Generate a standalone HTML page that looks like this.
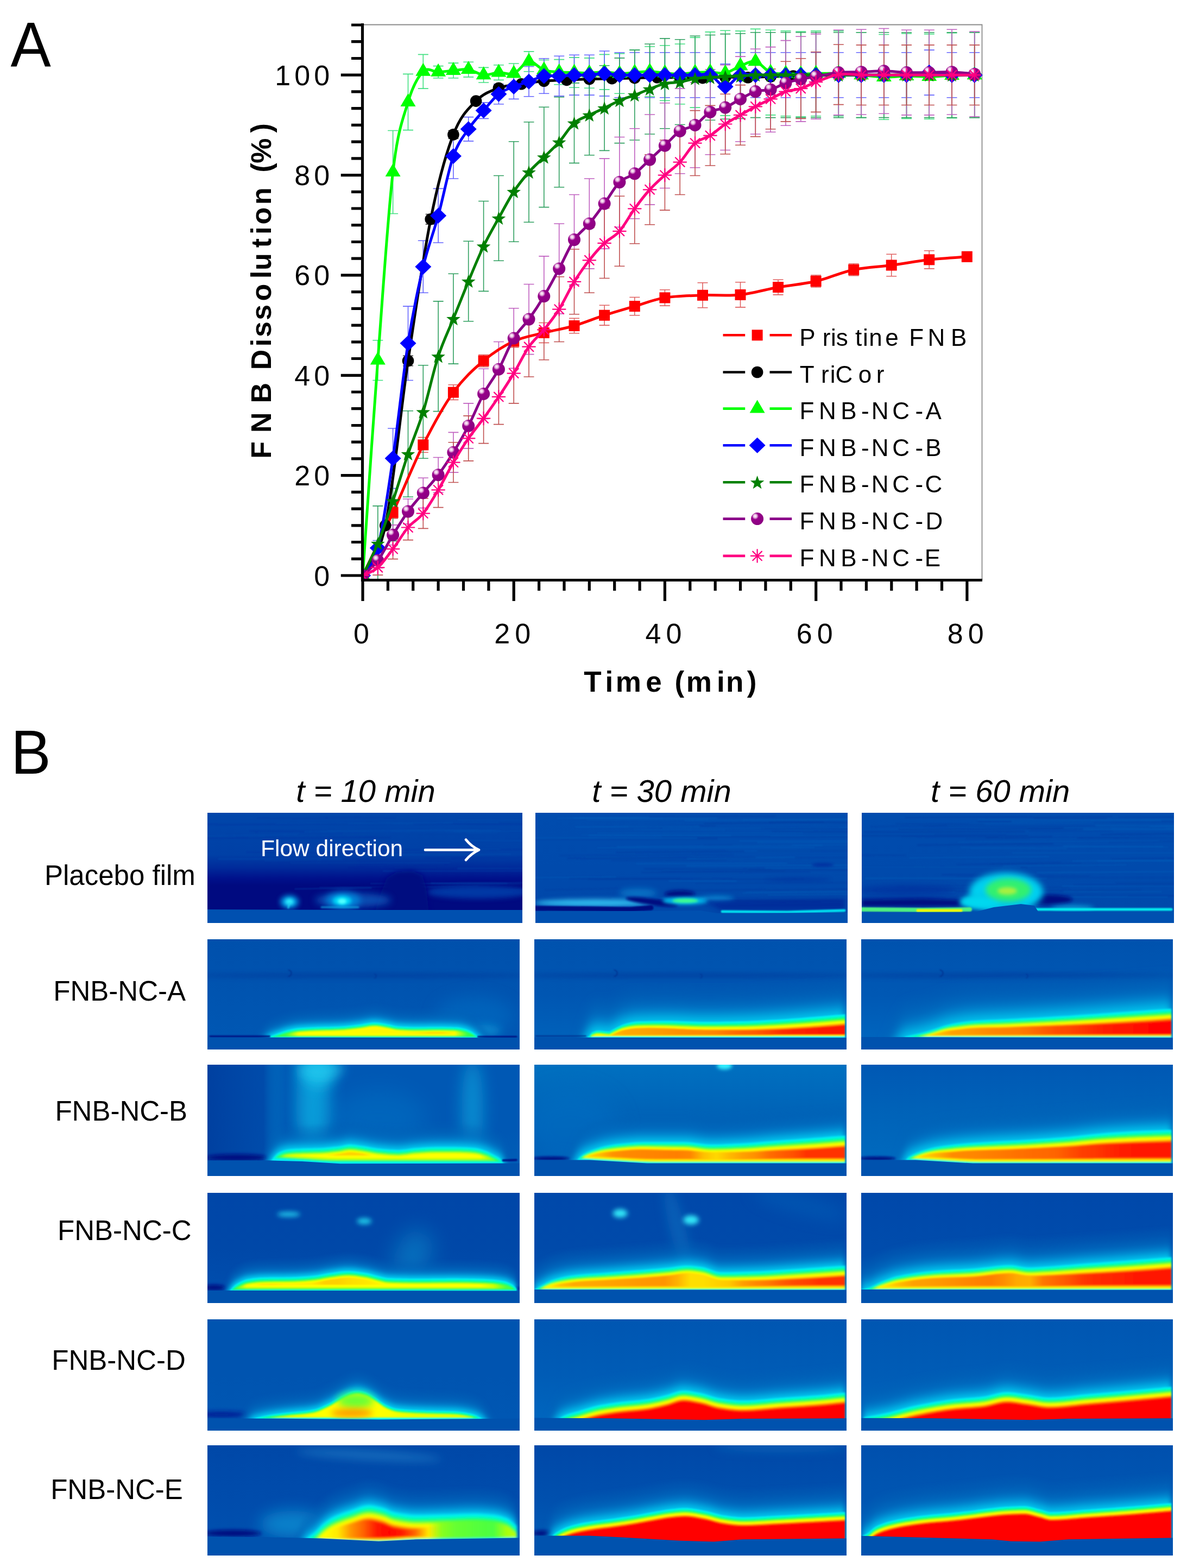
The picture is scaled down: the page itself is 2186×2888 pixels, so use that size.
<!DOCTYPE html><html><head><meta charset="utf-8"><title>FNB dissolution</title><style>html,body{margin:0;padding:0;background:#fff;}svg{display:block;}</style></head><body>
<svg width="2186" height="2888" viewBox="0 0 2186 2888">
<rect width="2186" height="2888" fill="#fff"/>
<text transform="translate(19.5 122.8) scale(0.956 1)" font-family="Liberation Sans, sans-serif" font-size="116.5">A</text>
<text transform="translate(20 1424.5) scale(0.965 1)" font-family="Liberation Sans, sans-serif" font-size="114.5">B</text>
<defs><radialGradient id="sph" cx="0.35" cy="0.3" r="0.75" fx="0.33" fy="0.28"><stop offset="0" stop-color="#ffffff"/><stop offset="0.18" stop-color="#e8b8e0"/><stop offset="0.36" stop-color="#96008a"/><stop offset="1" stop-color="#8a0080"/></radialGradient></defs>
<path d="M667,45.5H1808.5V1068" stroke="#8c8c8c" stroke-width="1.8" fill="none"/>
<clipPath id="plotclip"><rect x="668" y="30" width="1160" height="1040"/></clipPath><g clip-path="url(#plotclip)">
<path d="M723.6,932.8V954.9M714.1,932.8h19M714.1,954.9h19M779.3,805.6V833.2M769.8,805.6h19M769.8,833.2h19M834.9,708.8V736.4M825.4,708.8h19M825.4,736.4h19M890.6,653.5V675.6M881.1,653.5h19M881.1,675.6h19M946.2,617.5V639.7M936.7,617.5h19M936.7,639.7h19M1001.8,594.5V631.4M992.3,594.5h19M992.3,631.4h19M1057.5,586.2V613.8M1048,586.2h19M1048,613.8h19M1113.1,562.2V599.1M1103.6,562.2h19M1103.6,599.1h19M1168.8,547.5V580.7M1159.3,547.5h19M1159.3,580.7h19M1224.4,533.7V563.1M1214.9,533.7h19M1214.9,563.1h19M1294,520.7V566.8M1284.5,520.7h19M1284.5,566.8h19M1363.5,519.8V565.9M1354,519.8h19M1354,565.9h19M1433,515.2V542.9M1423.5,515.2h19M1423.5,542.9h19M1502.6,506.9V529M1493.1,506.9h19M1493.1,529h19M1572.2,485.7V507.8M1562.7,485.7h19M1562.7,507.8h19M1641.7,468.2V508.8M1632.2,468.2h19M1632.2,508.8h19M1711.2,461.8V494.9M1701.8,461.8h19M1701.8,494.9h19M1780.8,463.6V482M1771.3,463.6h19M1771.3,482h19" stroke="#e06060" stroke-width="1.6" fill="none"/>
<path d="M709.7,963.2V972.4M700.2,963.2h19M700.2,972.4h19M751.5,655.3V673.8M742,655.3h19M742,673.8h19M793.2,394.5V412.9M783.7,394.5h19M783.7,412.9h19M834.9,240.5V255.3M825.4,240.5h19M825.4,255.3h19M876.6,181.5V190.7M867.1,181.5h19M867.1,190.7h19M918.4,157.6V166.8M908.9,157.6h19M908.9,166.8h19M960.1,150.2V159.4M950.6,150.2h19M950.6,159.4h19M1001.8,144.7V153.9M992.3,144.7h19M992.3,153.9h19M1043.6,142.8V152M1034.1,142.8h19M1034.1,152h19M1085.3,141V150.2M1075.8,141h19M1075.8,150.2h19M1127,140V149.3M1117.5,140h19M1117.5,149.3h19M1168.8,139.1V148.3M1159.3,139.1h19M1159.3,148.3h19M1210.5,138.2V147.4M1201,138.2h19M1201,147.4h19M1252.2,138.2V147.4M1242.7,138.2h19M1242.7,147.4h19M1294,139.1V148.3M1284.5,139.1h19M1284.5,148.3h19M1335.7,137.3V146.5M1326.2,137.3h19M1326.2,146.5h19M1377.4,138.2V147.4M1367.9,138.2h19M1367.9,147.4h19M1419.1,136.4V145.6M1409.6,136.4h19M1409.6,145.6h19M1460.9,135.4V144.7M1451.4,135.4h19M1451.4,144.7h19M1502.6,134.5V143.7M1493.1,134.5h19M1493.1,143.7h19M1544.3,133.6V142.8M1534.8,133.6h19M1534.8,142.8h19M1586.1,133.6V142.8M1576.6,133.6h19M1576.6,142.8h19M1627.8,133.6V142.8M1618.3,133.6h19M1618.3,142.8h19M1669.5,133.6V142.8M1660,133.6h19M1660,142.8h19M1711.2,133.6V142.8M1701.8,133.6h19M1701.8,142.8h19M1753,133.6V142.8M1743.5,133.6h19M1743.5,142.8h19M1794.7,133.6V142.8M1785.2,133.6h19M1785.2,142.8h19" stroke="#404040" stroke-width="1.6" fill="none"/>
<path d="M695.8,626.8V700.5M686.3,626.8h19M686.3,700.5h19M723.6,240.5V393.5M714.1,240.5h19M714.1,393.5h19M751.5,136.4V239.6M742,136.4h19M742,239.6h19M779.3,100.4V163.1M769.8,100.4h19M769.8,163.1h19M807.1,121.6V143.7M797.6,121.6h19M797.6,143.7h19M834.9,116.1V143.7M825.4,116.1h19M825.4,143.7h19M862.7,114.2V141.9M853.2,114.2h19M853.2,141.9h19M890.6,124.4V152M881.1,124.4h19M881.1,152h19M918.4,119.8V147.4M908.9,119.8h19M908.9,147.4h19M946.2,117V153.9M936.7,117h19M936.7,153.9h19M974,94.9V131.7M964.5,94.9h19M964.5,131.7h19M1001.8,110.5V147.4M992.3,110.5h19M992.3,147.4h19M1029.7,109.6V155.7M1020.2,109.6h19M1020.2,155.7h19M1057.5,105.9V161.2M1048,105.9h19M1048,161.2h19M1085.3,106.9V162.2M1075.8,106.9h19M1075.8,162.2h19M1113.1,100.4V164.9M1103.6,100.4h19M1103.6,164.9h19M1140.9,98.6V172.3M1131.4,98.6h19M1131.4,172.3h19M1168.8,92.1V175.1M1159.3,92.1h19M1159.3,175.1h19M1196.6,85.7V177.8M1187.1,85.7h19M1187.1,177.8h19M1224.4,83.8V185.2M1214.9,83.8h19M1214.9,185.2h19M1252.2,81V191.7M1242.7,81h19M1242.7,191.7h19M1280,69.1V198.1M1270.5,69.1h19M1270.5,198.1h19M1307.9,58.9V206.4M1298.4,58.9h19M1298.4,206.4h19M1335.7,56.2V212.9M1326.2,56.2h19M1326.2,212.9h19M1363.5,57.1V186.1M1354,57.1h19M1354,186.1h19M1391.3,53.4V173.2M1381.8,53.4h19M1381.8,173.2h19M1419.1,55.2V211.9M1409.6,55.2h19M1409.6,211.9h19M1447,57.1V213.8M1437.5,57.1h19M1437.5,213.8h19M1474.8,58V214.7M1465.3,58h19M1465.3,214.7h19M1502.6,57.1V213.8M1493.1,57.1h19M1493.1,213.8h19M1544.3,57.1V213.8M1534.8,57.1h19M1534.8,213.8h19M1586.1,59.8V216.6M1576.6,59.8h19M1576.6,216.6h19M1627.8,63.5V220.2M1618.3,63.5h19M1618.3,220.2h19M1669.5,61.7V218.4M1660,61.7h19M1660,218.4h19M1711.2,62.6V219.3M1701.8,62.6h19M1701.8,219.3h19M1753,60.8V217.5M1743.5,60.8h19M1743.5,217.5h19M1794.7,59.8V216.6M1785.2,59.8h19M1785.2,216.6h19" stroke="#40e080" stroke-width="1.6" fill="none"/>
<path d="M695.8,995.5V1023.1M686.3,995.5h19M686.3,1023.1h19M723.6,789V899.6M714.1,789h19M714.1,899.6h19M751.5,564.1V700.5M742,564.1h19M742,700.5h19M779.3,443.3V539.2M769.8,443.3h19M769.8,539.2h19M807.1,347.4V447M797.6,347.4h19M797.6,447h19M834.9,246.1V329M825.4,246.1h19M825.4,329h19M862.7,215.6V259.9M853.2,215.6h19M853.2,259.9h19M890.6,188.9V218.4M881.1,188.9h19M881.1,218.4h19M918.4,154.8V191.7M908.9,154.8h19M908.9,191.7h19M946.2,136.4V182.4M936.7,136.4h19M936.7,182.4h19M974,122.5V177.8M964.5,122.5h19M964.5,177.8h19M1001.8,107.8V172.3M992.3,107.8h19M992.3,172.3h19M1029.7,103.2V176.9M1020.2,103.2h19M1020.2,176.9h19M1057.5,101.3V175.1M1048,101.3h19M1048,175.1h19M1085.3,101.3V175.1M1075.8,101.3h19M1075.8,175.1h19M1113.1,94V176.9M1103.6,94h19M1103.6,176.9h19M1140.9,96.7V179.7M1131.4,96.7h19M1131.4,179.7h19M1168.8,96.7V179.7M1159.3,96.7h19M1159.3,179.7h19M1196.6,96.7V179.7M1187.1,96.7h19M1187.1,179.7h19M1224.4,96.7V179.7M1214.9,96.7h19M1214.9,179.7h19M1252.2,96.7V179.7M1242.7,96.7h19M1242.7,179.7h19M1280,96.7V179.7M1270.5,96.7h19M1270.5,179.7h19M1307.9,96.7V179.7M1298.4,96.7h19M1298.4,179.7h19M1335.7,117.9V200.9M1326.2,117.9h19M1326.2,200.9h19M1363.5,96.7V179.7M1354,96.7h19M1354,179.7h19M1391.3,96.7V179.7M1381.8,96.7h19M1381.8,179.7h19M1419.1,96.7V179.7M1409.6,96.7h19M1409.6,179.7h19M1447,96.7V179.7M1437.5,96.7h19M1437.5,179.7h19M1474.8,96.7V179.7M1465.3,96.7h19M1465.3,179.7h19M1502.6,96.7V179.7M1493.1,96.7h19M1493.1,179.7h19M1544.3,96.7V179.7M1534.8,96.7h19M1534.8,179.7h19M1586.1,96.7V179.7M1576.6,96.7h19M1576.6,179.7h19M1627.8,96.7V179.7M1618.3,96.7h19M1618.3,179.7h19M1669.5,96.7V179.7M1660,96.7h19M1660,179.7h19M1711.2,92.1V175.1M1701.8,92.1h19M1701.8,175.1h19M1753,96.7V179.7M1743.5,96.7h19M1743.5,179.7h19M1794.7,96.7V179.7M1785.2,96.7h19M1785.2,179.7h19" stroke="#6666ff" stroke-width="1.6" fill="none"/>
<path d="M695.8,931.9V1066M686.3,931.9h19M723.6,848.9V996.4M714.1,848.9h19M714.1,996.4h19M751.5,756.7V915.3M742,756.7h19M742,915.3h19M779.3,672.8V844.3M769.8,672.8h19M769.8,844.3h19M807.1,554.9V757.6M797.6,554.9h19M797.6,757.6h19M834.9,504.2V670.1M825.4,504.2h19M825.4,670.1h19M862.7,444.2V591.7M853.2,444.2h19M853.2,591.7h19M890.6,370.5V536.4M881.1,370.5h19M881.1,536.4h19M918.4,323.5V480.2M908.9,323.5h19M908.9,480.2h19M946.2,260.8V445.2M936.7,260.8h19M936.7,445.2h19M974,224.8V409.2M964.5,224.8h19M964.5,409.2h19M1001.8,197.2V381.6M992.3,197.2h19M992.3,381.6h19M1029.7,178.8V344.7M1020.2,178.8h19M1020.2,344.7h19M1057.5,152.9V300.4M1048,152.9h19M1048,300.4h19M1085.3,138.2V285.7M1075.8,138.2h19M1075.8,285.7h19M1113.1,120.7V277.4M1103.6,120.7h19M1103.6,277.4h19M1140.9,106.9V263.6M1131.4,106.9h19M1131.4,263.6h19M1168.8,92.1V258M1159.3,92.1h19M1159.3,258h19M1196.6,81V247M1187.1,81h19M1187.1,247h19M1224.4,70.9V236.8M1214.9,70.9h19M1214.9,236.8h19M1252.2,72.8V229.5M1242.7,72.8h19M1242.7,229.5h19M1280,66.3V223M1270.5,66.3h19M1270.5,223h19M1307.9,64.5V221.2M1298.4,64.5h19M1298.4,221.2h19M1335.7,62.6V219.3M1326.2,62.6h19M1326.2,219.3h19M1363.5,61.7V218.4M1354,61.7h19M1354,218.4h19M1391.3,59.8V216.6M1381.8,59.8h19M1381.8,216.6h19M1419.1,59.8V216.6M1409.6,59.8h19M1409.6,216.6h19M1447,59.8V216.6M1437.5,59.8h19M1437.5,216.6h19M1474.8,59.8V216.6M1465.3,59.8h19M1465.3,216.6h19M1502.6,59.8V216.6M1493.1,59.8h19M1493.1,216.6h19M1544.3,59.8V216.6M1534.8,59.8h19M1534.8,216.6h19M1586.1,59.8V216.6M1576.6,59.8h19M1576.6,216.6h19M1627.8,59.8V216.6M1618.3,59.8h19M1618.3,216.6h19M1669.5,59.8V216.6M1660,59.8h19M1660,216.6h19M1711.2,59.8V216.6M1701.8,59.8h19M1701.8,216.6h19M1753,59.8V216.6M1743.5,59.8h19M1743.5,216.6h19M1794.7,59.8V216.6M1785.2,59.8h19M1785.2,216.6h19" stroke="#30a060" stroke-width="1.6" fill="none"/>
<path d="M695.8,1018.5V1046.2M686.3,1018.5h19M686.3,1046.2h19M723.6,966.9V1003.8M714.1,966.9h19M714.1,1003.8h19M751.5,919V965.1M742,919h19M742,965.1h19M779.3,880.2V935.6M769.8,880.2h19M769.8,935.6h19M807.1,842.5V907M797.6,842.5h19M797.6,907h19M834.9,796.4V870.1M825.4,796.4h19M825.4,870.1h19M862.7,742.9V825.9M853.2,742.9h19M853.2,825.9h19M890.6,679.3V771.5M881.1,679.3h19M881.1,771.5h19M918.4,629.5V730.9M908.9,629.5h19M908.9,730.9h19M946.2,567.8V678.4M936.7,567.8h19M936.7,678.4h19M974,523.5V652.6M964.5,523.5h19M964.5,652.6h19M1001.8,471.9V619.4M992.3,471.9h19M992.3,619.4h19M1029.7,412V577.9M1020.2,412h19M1020.2,577.9h19M1057.5,358.5V524.4M1048,358.5h19M1048,524.4h19M1085.3,329V494.9M1075.8,329h19M1075.8,494.9h19M1113.1,292.1V458.1M1103.6,292.1h19M1103.6,458.1h19M1140.9,252.5V418.4M1131.4,252.5h19M1131.4,418.4h19M1168.8,236.8V402.8M1159.3,236.8h19M1159.3,402.8h19M1196.6,211V376.9M1187.1,211h19M1187.1,376.9h19M1224.4,189.8V346.5M1214.9,189.8h19M1214.9,346.5h19M1252.2,163.1V319.8M1242.7,163.1h19M1242.7,319.8h19M1280,152V308.7M1270.5,152h19M1270.5,308.7h19M1307.9,128.1V284.8M1298.4,128.1h19M1298.4,284.8h19M1335.7,119.8V276.5M1326.2,119.8h19M1326.2,276.5h19M1363.5,104.1V260.8M1354,104.1h19M1354,260.8h19M1391.3,90.3V247M1381.8,90.3h19M1381.8,247h19M1419.1,86.6V243.3M1409.6,86.6h19M1409.6,243.3h19M1447,74.6V231.3M1437.5,74.6h19M1437.5,231.3h19M1474.8,67.2V223.9M1465.3,67.2h19M1465.3,223.9h19M1502.6,62.6V219.3M1493.1,62.6h19M1493.1,219.3h19M1544.3,55.2V211.9M1534.8,55.2h19M1534.8,211.9h19M1586.1,54.3V211M1576.6,54.3h19M1576.6,211h19M1627.8,52.5V209.2M1618.3,52.5h19M1618.3,209.2h19M1669.5,55.2V211.9M1660,55.2h19M1660,211.9h19M1711.2,55.2V211.9M1701.8,55.2h19M1701.8,211.9h19M1753,54.3V211M1743.5,54.3h19M1743.5,211h19M1794.7,58V214.7M1785.2,58h19M1785.2,214.7h19" stroke="#c060c0" stroke-width="1.6" fill="none"/>
<path d="M695.8,1031.4V1059.1M686.3,1031.4h19M686.3,1059.1h19M723.6,992.7V1029.6M714.1,992.7h19M714.1,1029.6h19M751.5,948.5V994.6M742,948.5h19M742,994.6h19M779.3,918V973.4M769.8,918h19M769.8,973.4h19M807.1,870.1V934.6M797.6,870.1h19M797.6,934.6h19M834.9,814.8V888.5M825.4,814.8h19M825.4,888.5h19M862.7,765.9V848.9M853.2,765.9h19M853.2,848.9h19M890.6,724.5V816.6M881.1,724.5h19M881.1,816.6h19M918.4,680.2V781.6M908.9,680.2h19M908.9,781.6h19M946.2,632.3V742.9M936.7,632.3h19M936.7,742.9h19M974,583.4V694M964.5,583.4h19M964.5,694h19M1001.8,552.1V662.7M992.3,552.1h19M992.3,662.7h19M1029.7,509.7V629.5M1020.2,509.7h19M1020.2,629.5h19M1057.5,459V578.8M1048,459h19M1048,578.8h19M1085.3,419.3V539.2M1075.8,419.3h19M1075.8,539.2h19M1113.1,383.4V512.5M1103.6,383.4h19M1103.6,512.5h19M1140.9,361.3V490.3M1131.4,361.3h19M1131.4,490.3h19M1168.8,319.8V448.8M1159.3,319.8h19M1159.3,448.8h19M1196.6,284.8V413.8M1187.1,284.8h19M1187.1,413.8h19M1224.4,258V387.1M1214.9,258h19M1214.9,387.1h19M1252.2,238.7V358.5M1242.7,238.7h19M1242.7,358.5h19M1280,203.6V323.5M1270.5,203.6h19M1270.5,323.5h19M1307.9,194.4V305M1298.4,194.4h19M1298.4,305h19M1335.7,173.2V283.8M1326.2,173.2h19M1326.2,283.8h19M1363.5,156.6V267.3M1354,156.6h19M1354,267.3h19M1391.3,141V251.6M1381.8,141h19M1381.8,251.6h19M1419.1,127.1V237.8M1409.6,127.1h19M1409.6,237.8h19M1447,113.3V223.9M1437.5,113.3h19M1437.5,223.9h19M1474.8,107.8V218.4M1465.3,107.8h19M1465.3,218.4h19M1502.6,95.8V206.4M1493.1,95.8h19M1493.1,206.4h19M1544.3,82V192.6M1534.8,82h19M1534.8,192.6h19M1586.1,82.9V193.5M1576.6,82.9h19M1576.6,193.5h19M1627.8,82.9V193.5M1618.3,82.9h19M1618.3,193.5h19M1669.5,82.9V193.5M1660,82.9h19M1660,193.5h19M1711.2,82.9V193.5M1701.8,82.9h19M1701.8,193.5h19M1753,82.9V193.5M1743.5,82.9h19M1743.5,193.5h19M1794.7,82.9V193.5M1785.2,82.9h19M1785.2,193.5h19" stroke="#c05050" stroke-width="1.6" fill="none"/>
<path d="M668,1060C677.3,1040.6 705.1,984 723.6,943.9C742.2,903.8 760.7,856.3 779.3,819.4C797.8,782.5 816.4,748.4 834.9,722.6C853.5,696.8 872,680.2 890.6,664.5C909.1,648.9 927.7,637.2 946.2,628.6C964.7,620 983.3,617.7 1001.8,612.9C1020.4,608.2 1038.9,605.4 1057.5,600C1076,594.6 1094.6,586.7 1113.1,580.7C1131.7,574.7 1150.2,569.4 1168.8,564.1C1187.3,558.7 1203.5,551.8 1224.4,548.4C1245.3,545 1270.8,544.7 1294,543.8C1317.1,542.9 1340.3,545.3 1363.5,542.9C1386.7,540.4 1409.9,533.2 1433,529C1456.2,524.9 1479.4,523.4 1502.6,518C1525.8,512.6 1549,501.7 1572.2,496.8C1595.3,491.9 1618.5,491.6 1641.7,488.5C1664.9,485.4 1688.1,481 1711.2,478.3C1734.4,475.7 1769.2,473.7 1780.8,472.8" stroke="#ff0000" stroke-width="5" fill="none" stroke-linejoin="round"/><rect x="713.6" y="933.9" width="20" height="20" fill="#ff0000"/><rect x="769.3" y="809.4" width="20" height="20" fill="#ff0000"/><rect x="824.9" y="712.6" width="20" height="20" fill="#ff0000"/><rect x="880.6" y="654.5" width="20" height="20" fill="#ff0000"/><rect x="936.2" y="618.6" width="20" height="20" fill="#ff0000"/><rect x="991.8" y="602.9" width="20" height="20" fill="#ff0000"/><rect x="1047.5" y="590" width="20" height="20" fill="#ff0000"/><rect x="1103.1" y="570.7" width="20" height="20" fill="#ff0000"/><rect x="1158.8" y="554.1" width="20" height="20" fill="#ff0000"/><rect x="1214.4" y="538.4" width="20" height="20" fill="#ff0000"/><rect x="1284" y="533.8" width="20" height="20" fill="#ff0000"/><rect x="1353.5" y="532.9" width="20" height="20" fill="#ff0000"/><rect x="1423" y="519" width="20" height="20" fill="#ff0000"/><rect x="1492.6" y="508" width="20" height="20" fill="#ff0000"/><rect x="1562.2" y="486.8" width="20" height="20" fill="#ff0000"/><rect x="1631.7" y="478.5" width="20" height="20" fill="#ff0000"/><rect x="1701.2" y="468.3" width="20" height="20" fill="#ff0000"/><rect x="1770.8" y="462.8" width="20" height="20" fill="#ff0000"/><rect x="658" y="1050" width="20" height="20" fill="#ff0000"/>
<path d="M668,1060C675,1044.6 695.8,1033.7 709.7,967.8C723.6,901.9 737.6,758.6 751.5,664.5C765.4,570.5 779.3,473.1 793.2,403.7C807.1,334.2 821,284.2 834.9,247.9C848.8,211.6 862.7,200.4 876.6,186.1C890.6,171.8 904.5,167.4 918.4,162.2C932.3,156.9 946.2,156.9 960.1,154.8C974,152.6 987.9,150.5 1001.8,149.3C1015.8,148 1029.7,148 1043.6,147.4C1057.5,146.8 1071.4,146 1085.3,145.6C1099.2,145.1 1113.1,145 1127,144.7C1140.9,144.3 1154.8,144 1168.8,143.7C1182.7,143.4 1196.6,143 1210.5,142.8C1224.4,142.7 1238.3,142.7 1252.2,142.8C1266.1,143 1280,143.9 1294,143.7C1307.9,143.6 1321.8,142 1335.7,141.9C1349.6,141.7 1363.5,143 1377.4,142.8C1391.3,142.7 1405.2,141.4 1419.1,141C1433,140.5 1447,140.4 1460.9,140C1474.8,139.7 1488.7,139.4 1502.6,139.1C1516.5,138.8 1530.4,138.4 1544.3,138.2C1558.2,138 1572.1,138.2 1586.1,138.2C1600,138.2 1613.9,138.2 1627.8,138.2C1641.7,138.2 1655.6,138.2 1669.5,138.2C1683.4,138.2 1697.3,138.2 1711.2,138.2C1725.2,138.2 1739.1,138.2 1753,138.2C1766.9,138.2 1787.8,138.2 1794.7,138.2" stroke="#000000" stroke-width="5" fill="none" stroke-linejoin="round"/><circle cx="709.7" cy="967.8" r="10.8" fill="#000000"/><circle cx="751.5" cy="664.5" r="10.8" fill="#000000"/><circle cx="793.2" cy="403.7" r="10.8" fill="#000000"/><circle cx="834.9" cy="247.9" r="10.8" fill="#000000"/><circle cx="876.6" cy="186.1" r="10.8" fill="#000000"/><circle cx="918.4" cy="162.2" r="10.8" fill="#000000"/><circle cx="960.1" cy="154.8" r="10.8" fill="#000000"/><circle cx="1001.8" cy="149.3" r="10.8" fill="#000000"/><circle cx="1043.6" cy="147.4" r="10.8" fill="#000000"/><circle cx="1085.3" cy="145.6" r="10.8" fill="#000000"/><circle cx="1127" cy="144.7" r="10.8" fill="#000000"/><circle cx="1168.8" cy="143.7" r="10.8" fill="#000000"/><circle cx="1210.5" cy="142.8" r="10.8" fill="#000000"/><circle cx="1252.2" cy="142.8" r="10.8" fill="#000000"/><circle cx="1294" cy="143.7" r="10.8" fill="#000000"/><circle cx="1335.7" cy="141.9" r="10.8" fill="#000000"/><circle cx="1377.4" cy="142.8" r="10.8" fill="#000000"/><circle cx="1419.1" cy="141" r="10.8" fill="#000000"/><circle cx="1460.9" cy="140" r="10.8" fill="#000000"/><circle cx="1502.6" cy="139.1" r="10.8" fill="#000000"/><circle cx="1544.3" cy="138.2" r="10.8" fill="#000000"/><circle cx="1586.1" cy="138.2" r="10.8" fill="#000000"/><circle cx="1627.8" cy="138.2" r="10.8" fill="#000000"/><circle cx="1669.5" cy="138.2" r="10.8" fill="#000000"/><circle cx="1711.2" cy="138.2" r="10.8" fill="#000000"/><circle cx="1753" cy="138.2" r="10.8" fill="#000000"/><circle cx="1794.7" cy="138.2" r="10.8" fill="#000000"/><circle cx="668" cy="1060" r="10.8" fill="#000000"/>
<path d="M668,1060C672.6,993.9 686.5,787.5 695.8,663.6C705.1,539.8 714.4,396.3 723.6,317C732.9,237.8 742.2,218.9 751.5,188C760.7,157.1 770,141 779.3,131.7C788.6,122.5 797.8,133 807.1,132.7C816.4,132.4 825.6,130.7 834.9,129.9C844.2,129.1 853.5,126.7 862.7,128.1C872,129.4 881.3,137.3 890.6,138.2C899.8,139.1 909.1,134.1 918.4,133.6C927.7,133.1 936.9,138.8 946.2,135.4C955.5,132.1 964.7,114.4 974,113.3C983.3,112.2 992.6,125.8 1001.8,129C1011.1,132.2 1020.4,131.9 1029.7,132.7C1038.9,133.4 1048.2,133.3 1057.5,133.6C1066.8,133.9 1076,134.7 1085.3,134.5C1094.6,134.4 1103.8,132.5 1113.1,132.7C1122.4,132.8 1131.7,135.3 1140.9,135.4C1150.2,135.6 1159.5,134.2 1168.8,133.6C1178,133 1187.3,131.6 1196.6,131.7C1205.9,131.9 1215.1,133.7 1224.4,134.5C1233.7,135.3 1242.9,136.5 1252.2,136.4C1261.5,136.2 1270.8,134.2 1280,133.6C1289.3,133 1298.6,132.5 1307.9,132.7C1317.1,132.8 1326.4,136.4 1335.7,134.5C1345,132.7 1354.2,125.1 1363.5,121.6C1372.8,118.1 1382,111.3 1391.3,113.3C1400.6,115.3 1409.9,129.9 1419.1,133.6C1428.4,137.3 1437.7,135 1447,135.4C1456.2,135.9 1465.5,136.4 1474.8,136.4C1484.1,136.4 1491,135.6 1502.6,135.4C1514.2,135.3 1530.4,135 1544.3,135.4C1558.2,135.9 1572.1,137.1 1586.1,138.2C1600,139.3 1613.9,141.6 1627.8,141.9C1641.7,142.2 1655.6,140.2 1669.5,140C1683.4,139.9 1697.3,141.1 1711.2,141C1725.2,140.8 1739.1,139.6 1753,139.1C1766.9,138.7 1787.8,138.4 1794.7,138.2" stroke="#00ff00" stroke-width="5" fill="none" stroke-linejoin="round"/><path d="M695.8,647.6L709.8,671.6L681.8,671.6Z" fill="#00ff00"/><path d="M723.6,301L737.6,325L709.6,325Z" fill="#00ff00"/><path d="M751.5,172L765.5,196L737.5,196Z" fill="#00ff00"/><path d="M779.3,115.7L793.3,139.7L765.3,139.7Z" fill="#00ff00"/><path d="M807.1,116.7L821.1,140.7L793.1,140.7Z" fill="#00ff00"/><path d="M834.9,113.9L848.9,137.9L820.9,137.9Z" fill="#00ff00"/><path d="M862.7,112.1L876.7,136.1L848.7,136.1Z" fill="#00ff00"/><path d="M890.6,122.2L904.6,146.2L876.6,146.2Z" fill="#00ff00"/><path d="M918.4,117.6L932.4,141.6L904.4,141.6Z" fill="#00ff00"/><path d="M946.2,119.4L960.2,143.4L932.2,143.4Z" fill="#00ff00"/><path d="M974,97.3L988,121.3L960,121.3Z" fill="#00ff00"/><path d="M1001.8,113L1015.8,137L987.8,137Z" fill="#00ff00"/><path d="M1029.7,116.7L1043.7,140.7L1015.7,140.7Z" fill="#00ff00"/><path d="M1057.5,117.6L1071.5,141.6L1043.5,141.6Z" fill="#00ff00"/><path d="M1085.3,118.5L1099.3,142.5L1071.3,142.5Z" fill="#00ff00"/><path d="M1113.1,116.7L1127.1,140.7L1099.1,140.7Z" fill="#00ff00"/><path d="M1140.9,119.4L1154.9,143.4L1126.9,143.4Z" fill="#00ff00"/><path d="M1168.8,117.6L1182.8,141.6L1154.8,141.6Z" fill="#00ff00"/><path d="M1196.6,115.7L1210.6,139.7L1182.6,139.7Z" fill="#00ff00"/><path d="M1224.4,118.5L1238.4,142.5L1210.4,142.5Z" fill="#00ff00"/><path d="M1252.2,120.4L1266.2,144.4L1238.2,144.4Z" fill="#00ff00"/><path d="M1280,117.6L1294,141.6L1266,141.6Z" fill="#00ff00"/><path d="M1307.9,116.7L1321.9,140.7L1293.9,140.7Z" fill="#00ff00"/><path d="M1335.7,118.5L1349.7,142.5L1321.7,142.5Z" fill="#00ff00"/><path d="M1363.5,105.6L1377.5,129.6L1349.5,129.6Z" fill="#00ff00"/><path d="M1391.3,97.3L1405.3,121.3L1377.3,121.3Z" fill="#00ff00"/><path d="M1419.1,117.6L1433.1,141.6L1405.1,141.6Z" fill="#00ff00"/><path d="M1447,119.4L1461,143.4L1433,143.4Z" fill="#00ff00"/><path d="M1474.8,120.4L1488.8,144.4L1460.8,144.4Z" fill="#00ff00"/><path d="M1502.6,119.4L1516.6,143.4L1488.6,143.4Z" fill="#00ff00"/><path d="M1544.3,119.4L1558.3,143.4L1530.3,143.4Z" fill="#00ff00"/><path d="M1586.1,122.2L1600.1,146.2L1572.1,146.2Z" fill="#00ff00"/><path d="M1627.8,125.9L1641.8,149.9L1613.8,149.9Z" fill="#00ff00"/><path d="M1669.5,124L1683.5,148L1655.5,148Z" fill="#00ff00"/><path d="M1711.2,125L1725.2,149L1697.2,149Z" fill="#00ff00"/><path d="M1753,123.1L1767,147.1L1739,147.1Z" fill="#00ff00"/><path d="M1794.7,122.2L1808.7,146.2L1780.7,146.2Z" fill="#00ff00"/><path d="M668,1044L682,1068L654,1068Z" fill="#00ff00"/>
<path d="M668,1060C672.6,1051.6 686.5,1045.3 695.8,1009.3C705.1,973.4 714.4,907.1 723.6,844.3C732.9,781.5 742.2,691.1 751.5,632.3C760.7,573.4 770,530.4 779.3,491.2C788.6,452.1 797.8,431.2 807.1,397.2C816.4,363.3 825.6,314.1 834.9,287.5C844.2,261 853.5,251.7 862.7,237.8C872,223.8 881.3,214.4 890.6,203.6C899.8,192.9 909.1,180.6 918.4,173.2C927.7,165.9 936.9,163.2 946.2,159.4C955.5,155.6 964.7,153.4 974,150.2C983.3,147 992.6,141.7 1001.8,140C1011.1,138.4 1020.4,140.4 1029.7,140C1038.9,139.7 1048.2,138.5 1057.5,138.2C1066.8,137.9 1076,138.7 1085.3,138.2C1094.6,137.7 1103.8,135.4 1113.1,135.4C1122.4,135.4 1131.7,137.7 1140.9,138.2C1150.2,138.7 1159.5,138.2 1168.8,138.2C1178,138.2 1187.3,138.2 1196.6,138.2C1205.9,138.2 1215.1,138.2 1224.4,138.2C1233.7,138.2 1242.9,138.2 1252.2,138.2C1261.5,138.2 1270.8,138.2 1280,138.2C1289.3,138.2 1298.6,134.7 1307.9,138.2C1317.1,141.7 1326.4,159.4 1335.7,159.4C1345,159.4 1354.2,141.7 1363.5,138.2C1372.8,134.7 1382,138.2 1391.3,138.2C1400.6,138.2 1409.9,138.2 1419.1,138.2C1428.4,138.2 1437.7,138.2 1447,138.2C1456.2,138.2 1465.5,138.2 1474.8,138.2C1484.1,138.2 1491,138.2 1502.6,138.2C1514.2,138.2 1530.4,138.2 1544.3,138.2C1558.2,138.2 1572.1,138.2 1586.1,138.2C1600,138.2 1613.9,138.2 1627.8,138.2C1641.7,138.2 1655.6,139 1669.5,138.2C1683.4,137.4 1697.3,133.6 1711.2,133.6C1725.2,133.6 1739.1,137.4 1753,138.2C1766.9,139 1787.8,138.2 1794.7,138.2" stroke="#0000ff" stroke-width="5" fill="none" stroke-linejoin="round"/><path d="M695.8,994.8L710.8,1009.3L695.8,1023.8L680.8,1009.3Z" fill="#0000ff"/><path d="M723.6,829.8L738.6,844.3L723.6,858.8L708.6,844.3Z" fill="#0000ff"/><path d="M751.5,617.8L766.5,632.3L751.5,646.8L736.5,632.3Z" fill="#0000ff"/><path d="M779.3,476.7L794.3,491.2L779.3,505.7L764.3,491.2Z" fill="#0000ff"/><path d="M807.1,382.7L822.1,397.2L807.1,411.7L792.1,397.2Z" fill="#0000ff"/><path d="M834.9,273L849.9,287.5L834.9,302L819.9,287.5Z" fill="#0000ff"/><path d="M862.7,223.3L877.7,237.8L862.7,252.3L847.7,237.8Z" fill="#0000ff"/><path d="M890.6,189.1L905.6,203.6L890.6,218.1L875.6,203.6Z" fill="#0000ff"/><path d="M918.4,158.7L933.4,173.2L918.4,187.7L903.4,173.2Z" fill="#0000ff"/><path d="M946.2,144.9L961.2,159.4L946.2,173.9L931.2,159.4Z" fill="#0000ff"/><path d="M974,135.7L989,150.2L974,164.7L959,150.2Z" fill="#0000ff"/><path d="M1001.8,125.5L1016.8,140L1001.8,154.5L986.8,140Z" fill="#0000ff"/><path d="M1029.7,125.5L1044.7,140L1029.7,154.5L1014.7,140Z" fill="#0000ff"/><path d="M1057.5,123.7L1072.5,138.2L1057.5,152.7L1042.5,138.2Z" fill="#0000ff"/><path d="M1085.3,123.7L1100.3,138.2L1085.3,152.7L1070.3,138.2Z" fill="#0000ff"/><path d="M1113.1,120.9L1128.1,135.4L1113.1,149.9L1098.1,135.4Z" fill="#0000ff"/><path d="M1140.9,123.7L1155.9,138.2L1140.9,152.7L1125.9,138.2Z" fill="#0000ff"/><path d="M1168.8,123.7L1183.8,138.2L1168.8,152.7L1153.8,138.2Z" fill="#0000ff"/><path d="M1196.6,123.7L1211.6,138.2L1196.6,152.7L1181.6,138.2Z" fill="#0000ff"/><path d="M1224.4,123.7L1239.4,138.2L1224.4,152.7L1209.4,138.2Z" fill="#0000ff"/><path d="M1252.2,123.7L1267.2,138.2L1252.2,152.7L1237.2,138.2Z" fill="#0000ff"/><path d="M1280,123.7L1295,138.2L1280,152.7L1265,138.2Z" fill="#0000ff"/><path d="M1307.9,123.7L1322.9,138.2L1307.9,152.7L1292.9,138.2Z" fill="#0000ff"/><path d="M1335.7,144.9L1350.7,159.4L1335.7,173.9L1320.7,159.4Z" fill="#0000ff"/><path d="M1363.5,123.7L1378.5,138.2L1363.5,152.7L1348.5,138.2Z" fill="#0000ff"/><path d="M1391.3,123.7L1406.3,138.2L1391.3,152.7L1376.3,138.2Z" fill="#0000ff"/><path d="M1419.1,123.7L1434.1,138.2L1419.1,152.7L1404.1,138.2Z" fill="#0000ff"/><path d="M1447,123.7L1462,138.2L1447,152.7L1432,138.2Z" fill="#0000ff"/><path d="M1474.8,123.7L1489.8,138.2L1474.8,152.7L1459.8,138.2Z" fill="#0000ff"/><path d="M1502.6,123.7L1517.6,138.2L1502.6,152.7L1487.6,138.2Z" fill="#0000ff"/><path d="M1544.3,123.7L1559.3,138.2L1544.3,152.7L1529.3,138.2Z" fill="#0000ff"/><path d="M1586.1,123.7L1601.1,138.2L1586.1,152.7L1571.1,138.2Z" fill="#0000ff"/><path d="M1627.8,123.7L1642.8,138.2L1627.8,152.7L1612.8,138.2Z" fill="#0000ff"/><path d="M1669.5,123.7L1684.5,138.2L1669.5,152.7L1654.5,138.2Z" fill="#0000ff"/><path d="M1711.2,119.1L1726.2,133.6L1711.2,148.1L1696.2,133.6Z" fill="#0000ff"/><path d="M1753,123.7L1768,138.2L1753,152.7L1738,138.2Z" fill="#0000ff"/><path d="M1794.7,123.7L1809.7,138.2L1794.7,152.7L1779.7,138.2Z" fill="#0000ff"/><path d="M668,1045.5L683,1060L668,1074.5L653,1060Z" fill="#0000ff"/>
<path d="M668,1060C672.6,1050.2 686.5,1023.9 695.8,1001C705.1,978.1 714.4,950.2 723.6,922.7C732.9,895.2 742.2,863.3 751.5,836C760.7,808.7 770,788.5 779.3,758.6C788.6,728.6 797.8,684.8 807.1,656.3C816.4,627.7 825.6,610.2 834.9,587.1C844.2,564.1 853.5,540.3 862.7,518C872,495.7 881.3,472.8 890.6,453.5C899.8,434.1 909.1,418.6 918.4,401.8C927.7,385.1 936.9,367.1 946.2,353C955.5,338.8 964.7,327.6 974,317C983.3,306.4 992.6,298.6 1001.8,289.4C1011.1,280.2 1020.4,272.2 1029.7,261.7C1038.9,251.3 1048.2,235 1057.5,226.7C1066.8,218.4 1076,216.6 1085.3,211.9C1094.6,207.3 1103.8,203.5 1113.1,199C1122.4,194.6 1131.7,189.2 1140.9,185.2C1150.2,181.2 1159.5,178.6 1168.8,175.1C1178,171.5 1187.3,167.5 1196.6,164C1205.9,160.5 1215.1,156 1224.4,153.9C1233.7,151.7 1242.9,152.6 1252.2,151.1C1261.5,149.6 1270.8,146 1280,144.7C1289.3,143.3 1298.6,143.4 1307.9,142.8C1317.1,142.2 1326.4,141.4 1335.7,141C1345,140.5 1354.2,140.5 1363.5,140C1372.8,139.6 1382,138.5 1391.3,138.2C1400.6,137.9 1409.9,138.2 1419.1,138.2C1428.4,138.2 1437.7,138.2 1447,138.2C1456.2,138.2 1465.5,138.2 1474.8,138.2C1484.1,138.2 1491,138.2 1502.6,138.2C1514.2,138.2 1530.4,138.2 1544.3,138.2C1558.2,138.2 1572.1,138.2 1586.1,138.2C1600,138.2 1613.9,138.2 1627.8,138.2C1641.7,138.2 1655.6,138.2 1669.5,138.2C1683.4,138.2 1697.3,138.2 1711.2,138.2C1725.2,138.2 1739.1,138.2 1753,138.2C1766.9,138.2 1787.8,138.2 1794.7,138.2" stroke="#008000" stroke-width="5" fill="none" stroke-linejoin="round"/><path d="M695.8,988.7L699.1,997.7L708.7,998L701.1,1003.9L703.8,1013.1L695.8,1007.8L687.9,1013.1L690.5,1003.9L683,998L692.5,997.7Z" fill="#008000"/><path d="M723.6,910.4L726.9,919.3L736.5,919.7L729,925.6L731.6,934.8L723.6,929.5L715.7,934.8L718.3,925.6L710.8,919.7L720.3,919.3Z" fill="#008000"/><path d="M751.5,823.7L754.8,832.7L764.3,833L756.8,838.9L759.4,848.1L751.5,842.8L743.5,848.1L746.1,838.9L738.6,833L748.2,832.7Z" fill="#008000"/><path d="M779.3,746.3L782.6,755.2L792.1,755.6L784.6,761.5L787.2,770.7L779.3,765.4L771.3,770.7L774,761.5L766.4,755.6L776,755.2Z" fill="#008000"/><path d="M807.1,644L810.4,652.9L819.9,653.3L812.4,659.2L815,668.4L807.1,663.1L799.2,668.4L801.8,659.2L794.3,653.3L803.8,652.9Z" fill="#008000"/><path d="M834.9,574.8L838.2,583.8L847.8,584.1L840.2,590L842.9,599.2L834.9,593.9L827,599.2L829.6,590L822.1,584.1L831.6,583.8Z" fill="#008000"/><path d="M862.7,505.7L866,514.7L875.6,515L868.1,520.9L870.7,530.1L862.7,524.8L854.8,530.1L857.4,520.9L849.9,515L859.4,514.7Z" fill="#008000"/><path d="M890.6,441.2L893.9,450.1L903.4,450.5L895.9,456.4L898.5,465.6L890.6,460.3L882.6,465.6L885.2,456.4L877.7,450.5L887.3,450.1Z" fill="#008000"/><path d="M918.4,389.5L921.7,398.5L931.2,398.9L923.7,404.8L926.3,414L918.4,408.6L910.4,414L913.1,404.8L905.5,398.9L915.1,398.5Z" fill="#008000"/><path d="M946.2,340.7L949.5,349.6L959,350L951.5,355.9L954.1,365.1L946.2,359.8L938.3,365.1L940.9,355.9L933.4,350L942.9,349.6Z" fill="#008000"/><path d="M974,304.7L977.3,313.7L986.9,314.1L979.3,320L982,329.2L974,323.8L966.1,329.2L968.7,320L961.2,314.1L970.7,313.7Z" fill="#008000"/><path d="M1001.8,277.1L1005.1,286L1014.7,286.4L1007.2,292.3L1009.8,301.5L1001.8,296.2L993.9,301.5L996.5,292.3L989,286.4L998.5,286Z" fill="#008000"/><path d="M1029.7,249.4L1033,258.4L1042.5,258.7L1035,264.7L1037.6,273.8L1029.7,268.5L1021.7,273.8L1024.3,264.7L1016.8,258.7L1026.4,258.4Z" fill="#008000"/><path d="M1057.5,214.4L1060.8,223.4L1070.3,223.7L1062.8,229.6L1065.4,238.8L1057.5,233.5L1049.5,238.8L1052.2,229.6L1044.6,223.7L1054.2,223.4Z" fill="#008000"/><path d="M1085.3,199.6L1088.6,208.6L1098.1,209L1090.6,214.9L1093.2,224.1L1085.3,218.7L1077.4,224.1L1080,214.9L1072.5,209L1082,208.6Z" fill="#008000"/><path d="M1113.1,186.7L1116.4,195.7L1126,196.1L1118.4,202L1121.1,211.2L1113.1,205.8L1105.2,211.2L1107.8,202L1100.3,196.1L1109.8,195.7Z" fill="#008000"/><path d="M1140.9,172.9L1144.2,181.9L1153.8,182.2L1146.3,188.1L1148.9,197.3L1140.9,192L1133,197.3L1135.6,188.1L1128.1,182.2L1137.6,181.9Z" fill="#008000"/><path d="M1168.8,162.8L1172.1,171.7L1181.6,172.1L1174.1,178L1176.7,187.2L1168.8,181.9L1160.8,187.2L1163.4,178L1155.9,172.1L1165.5,171.7Z" fill="#008000"/><path d="M1196.6,151.7L1199.9,160.7L1209.4,161L1201.9,166.9L1204.5,176.1L1196.6,170.8L1188.6,176.1L1191.3,166.9L1183.7,161L1193.3,160.7Z" fill="#008000"/><path d="M1224.4,141.6L1227.7,150.5L1237.2,150.9L1229.7,156.8L1232.3,166L1224.4,160.7L1216.5,166L1219.1,156.8L1211.6,150.9L1221.1,150.5Z" fill="#008000"/><path d="M1252.2,138.8L1255.5,147.8L1265.1,148.1L1257.5,154L1260.2,163.2L1252.2,157.9L1244.3,163.2L1246.9,154L1239.4,148.1L1248.9,147.8Z" fill="#008000"/><path d="M1280,132.4L1283.3,141.3L1292.9,141.7L1285.4,147.6L1288,156.8L1280,151.5L1272.1,156.8L1274.7,147.6L1267.2,141.7L1276.7,141.3Z" fill="#008000"/><path d="M1307.9,130.5L1311.2,139.5L1320.7,139.8L1313.2,145.7L1315.8,154.9L1307.9,149.6L1299.9,154.9L1302.5,145.7L1295,139.8L1304.6,139.5Z" fill="#008000"/><path d="M1335.7,128.7L1339,137.6L1348.5,138L1341,143.9L1343.6,153.1L1335.7,147.8L1327.7,153.1L1330.4,143.9L1322.8,138L1332.4,137.6Z" fill="#008000"/><path d="M1363.5,127.7L1366.8,136.7L1376.3,137.1L1368.8,143L1371.4,152.2L1363.5,146.8L1355.6,152.2L1358.2,143L1350.7,137.1L1360.2,136.7Z" fill="#008000"/><path d="M1391.3,125.9L1394.6,134.9L1404.2,135.2L1396.6,141.1L1399.3,150.3L1391.3,145L1383.4,150.3L1386,141.1L1378.5,135.2L1388,134.9Z" fill="#008000"/><path d="M1419.1,125.9L1422.4,134.9L1432,135.2L1424.5,141.1L1427.1,150.3L1419.1,145L1411.2,150.3L1413.8,141.1L1406.3,135.2L1415.8,134.9Z" fill="#008000"/><path d="M1447,125.9L1450.3,134.9L1459.8,135.2L1452.3,141.1L1454.9,150.3L1447,145L1439,150.3L1441.6,141.1L1434.1,135.2L1443.7,134.9Z" fill="#008000"/><path d="M1474.8,125.9L1478.1,134.9L1487.6,135.2L1480.1,141.1L1482.7,150.3L1474.8,145L1466.8,150.3L1469.5,141.1L1461.9,135.2L1471.5,134.9Z" fill="#008000"/><path d="M1502.6,125.9L1505.9,134.9L1515.4,135.2L1507.9,141.1L1510.5,150.3L1502.6,145L1494.7,150.3L1497.3,141.1L1489.8,135.2L1499.3,134.9Z" fill="#008000"/><path d="M1544.3,125.9L1547.6,134.9L1557.2,135.2L1549.7,141.1L1552.3,150.3L1544.3,145L1536.4,150.3L1539,141.1L1531.5,135.2L1541,134.9Z" fill="#008000"/><path d="M1586.1,125.9L1589.4,134.9L1598.9,135.2L1591.4,141.1L1594,150.3L1586.1,145L1578.1,150.3L1580.7,141.1L1573.2,135.2L1582.8,134.9Z" fill="#008000"/><path d="M1627.8,125.9L1631.1,134.9L1640.6,135.2L1633.1,141.1L1635.7,150.3L1627.8,145L1619.9,150.3L1622.5,141.1L1615,135.2L1624.5,134.9Z" fill="#008000"/><path d="M1669.5,125.9L1672.8,134.9L1682.4,135.2L1674.8,141.1L1677.5,150.3L1669.5,145L1661.6,150.3L1664.2,141.1L1656.7,135.2L1666.2,134.9Z" fill="#008000"/><path d="M1711.2,125.9L1714.5,134.9L1724.1,135.2L1716.6,141.1L1719.2,150.3L1711.2,145L1703.3,150.3L1705.9,141.1L1698.4,135.2L1708,134.9Z" fill="#008000"/><path d="M1753,125.9L1756.3,134.9L1765.8,135.2L1758.3,141.1L1760.9,150.3L1753,145L1745,150.3L1747.7,141.1L1740.1,135.2L1749.7,134.9Z" fill="#008000"/><path d="M1794.7,125.9L1798,134.9L1807.5,135.2L1800,141.1L1802.6,150.3L1794.7,145L1786.8,150.3L1789.4,141.1L1781.9,135.2L1791.4,134.9Z" fill="#008000"/><path d="M668,1047.7L671.3,1056.7L680.8,1057L673.3,1062.9L675.9,1072.1L668,1066.8L660.1,1072.1L662.7,1062.9L655.2,1057L664.7,1056.7Z" fill="#008000"/>
<path d="M668,1060C672.6,1055.4 686.5,1044.8 695.8,1032.3C705.1,1019.9 714.4,1000.4 723.6,985.3C732.9,970.3 742.2,954.9 751.5,942C760.7,929.1 770,919.1 779.3,907.9C788.6,896.7 797.8,887.2 807.1,874.7C816.4,862.3 825.6,848.3 834.9,833.2C844.2,818.2 853.5,802.4 862.7,784.4C872,766.4 881.3,742.7 890.6,725.4C899.8,708 909.1,697.3 918.4,680.2C927.7,663.2 936.9,638.4 946.2,623.1C955.5,607.7 964.7,600.9 974,588C983.3,575.1 992.6,561.2 1001.8,545.6C1011.1,530.1 1020.4,512.3 1029.7,494.9C1038.9,477.6 1048.2,455.3 1057.5,441.5C1066.8,427.6 1076,423 1085.3,412C1094.6,400.9 1103.8,387.9 1113.1,375.1C1122.4,362.4 1131.7,344.7 1140.9,335.5C1150.2,326.2 1159.5,326.7 1168.8,319.8C1178,312.9 1187.3,302.6 1196.6,294C1205.9,285.4 1215.1,276.9 1224.4,268.2C1233.7,259.4 1242.9,247.7 1252.2,241.4C1261.5,235.1 1270.8,236.2 1280,230.4C1289.3,224.5 1298.6,211.8 1307.9,206.4C1317.1,201 1326.4,202.1 1335.7,198.1C1345,194.1 1354.2,187.4 1363.5,182.4C1372.8,177.5 1382,171.5 1391.3,168.6C1400.6,165.7 1409.9,167.5 1419.1,164.9C1428.4,162.3 1437.7,156.2 1447,152.9C1456.2,149.7 1465.5,147.6 1474.8,145.6C1484.1,143.6 1491,143 1502.6,141C1514.2,139 1530.4,135 1544.3,133.6C1558.2,132.2 1572.1,133.1 1586.1,132.7C1600,132.2 1613.9,130.7 1627.8,130.8C1641.7,131 1655.6,133.1 1669.5,133.6C1683.4,134.1 1697.3,133.7 1711.2,133.6C1725.2,133.4 1739.1,132.2 1753,132.7C1766.9,133.1 1787.8,135.7 1794.7,136.4" stroke="#8a0088" stroke-width="5" fill="none" stroke-linejoin="round"/><circle cx="695.8" cy="1032.3" r="11.5" fill="url(#sph)"/><circle cx="723.6" cy="985.3" r="11.5" fill="url(#sph)"/><circle cx="751.5" cy="942" r="11.5" fill="url(#sph)"/><circle cx="779.3" cy="907.9" r="11.5" fill="url(#sph)"/><circle cx="807.1" cy="874.7" r="11.5" fill="url(#sph)"/><circle cx="834.9" cy="833.2" r="11.5" fill="url(#sph)"/><circle cx="862.7" cy="784.4" r="11.5" fill="url(#sph)"/><circle cx="890.6" cy="725.4" r="11.5" fill="url(#sph)"/><circle cx="918.4" cy="680.2" r="11.5" fill="url(#sph)"/><circle cx="946.2" cy="623.1" r="11.5" fill="url(#sph)"/><circle cx="974" cy="588" r="11.5" fill="url(#sph)"/><circle cx="1001.8" cy="545.6" r="11.5" fill="url(#sph)"/><circle cx="1029.7" cy="494.9" r="11.5" fill="url(#sph)"/><circle cx="1057.5" cy="441.5" r="11.5" fill="url(#sph)"/><circle cx="1085.3" cy="412" r="11.5" fill="url(#sph)"/><circle cx="1113.1" cy="375.1" r="11.5" fill="url(#sph)"/><circle cx="1140.9" cy="335.5" r="11.5" fill="url(#sph)"/><circle cx="1168.8" cy="319.8" r="11.5" fill="url(#sph)"/><circle cx="1196.6" cy="294" r="11.5" fill="url(#sph)"/><circle cx="1224.4" cy="268.2" r="11.5" fill="url(#sph)"/><circle cx="1252.2" cy="241.4" r="11.5" fill="url(#sph)"/><circle cx="1280" cy="230.4" r="11.5" fill="url(#sph)"/><circle cx="1307.9" cy="206.4" r="11.5" fill="url(#sph)"/><circle cx="1335.7" cy="198.1" r="11.5" fill="url(#sph)"/><circle cx="1363.5" cy="182.4" r="11.5" fill="url(#sph)"/><circle cx="1391.3" cy="168.6" r="11.5" fill="url(#sph)"/><circle cx="1419.1" cy="164.9" r="11.5" fill="url(#sph)"/><circle cx="1447" cy="152.9" r="11.5" fill="url(#sph)"/><circle cx="1474.8" cy="145.6" r="11.5" fill="url(#sph)"/><circle cx="1502.6" cy="141" r="11.5" fill="url(#sph)"/><circle cx="1544.3" cy="133.6" r="11.5" fill="url(#sph)"/><circle cx="1586.1" cy="132.7" r="11.5" fill="url(#sph)"/><circle cx="1627.8" cy="130.8" r="11.5" fill="url(#sph)"/><circle cx="1669.5" cy="133.6" r="11.5" fill="url(#sph)"/><circle cx="1711.2" cy="133.6" r="11.5" fill="url(#sph)"/><circle cx="1753" cy="132.7" r="11.5" fill="url(#sph)"/><circle cx="1794.7" cy="136.4" r="11.5" fill="url(#sph)"/><circle cx="668" cy="1060" r="11.5" fill="url(#sph)"/>
<path d="M668,1060C672.6,1057.5 686.5,1053.4 695.8,1045.3C705.1,1037.1 714.4,1023.4 723.6,1011.1C732.9,998.9 742.2,982.4 751.5,971.5C760.7,960.6 770,957.2 779.3,945.7C788.6,934.2 797.8,918 807.1,902.4C816.4,886.7 825.6,867.5 834.9,851.7C844.2,835.8 853.5,820.9 862.7,807.4C872,793.9 881.3,783.3 890.6,770.6C899.8,757.8 909.1,744.7 918.4,730.9C927.7,717.1 936.9,703 946.2,687.6C955.5,672.2 964.7,652.1 974,638.7C983.3,625.4 992.6,618.9 1001.8,607.4C1011.1,595.9 1020.4,584.4 1029.7,569.6C1038.9,554.9 1048.2,534 1057.5,518.9C1066.8,503.8 1076,491.1 1085.3,479.3C1094.6,467.4 1103.8,456.8 1113.1,447.9C1122.4,439 1131.7,436.4 1140.9,425.8C1150.2,415.2 1159.5,397.1 1168.8,384.3C1178,371.6 1187.3,359.6 1196.6,349.3C1205.9,339 1215.1,331 1224.4,322.6C1233.7,314.1 1242.9,308.4 1252.2,298.6C1261.5,288.8 1270.8,271.7 1280,263.6C1289.3,255.4 1298.6,255.6 1307.9,249.7C1317.1,243.9 1326.4,234.8 1335.7,228.5C1345,222.2 1354.2,217.3 1363.5,211.9C1372.8,206.6 1382,201.2 1391.3,196.3C1400.6,191.4 1409.9,187.1 1419.1,182.4C1428.4,177.8 1437.7,171.8 1447,168.6C1456.2,165.4 1465.5,166 1474.8,163.1C1484.1,160.2 1491,155.4 1502.6,151.1C1514.2,146.8 1530.4,139.4 1544.3,137.3C1558.2,135.1 1572.1,138 1586.1,138.2C1600,138.4 1613.9,138.2 1627.8,138.2C1641.7,138.2 1655.6,138.2 1669.5,138.2C1683.4,138.2 1697.3,138.2 1711.2,138.2C1725.2,138.2 1739.1,138.2 1753,138.2C1766.9,138.2 1787.8,138.2 1794.7,138.2" stroke="#ff0080" stroke-width="5" fill="none" stroke-linejoin="round"/><path d="M684,1045.3L707.6,1045.3M687.5,1036.9L704.2,1053.6M695.8,1033.5L695.8,1057.1M704.2,1036.9L687.5,1053.6" stroke="#ff0080" stroke-width="2.2" stroke-linecap="round" fill="none"/><path d="M711.8,1011.1L735.4,1011.1M715.3,1002.8L732,1019.5M723.6,999.3L723.6,1022.9M732,1002.8L715.3,1019.5" stroke="#ff0080" stroke-width="2.2" stroke-linecap="round" fill="none"/><path d="M739.7,971.5L763.3,971.5M743.1,963.2L759.8,979.9M751.5,959.7L751.5,983.3M759.8,963.2L743.1,979.9" stroke="#ff0080" stroke-width="2.2" stroke-linecap="round" fill="none"/><path d="M767.5,945.7L791.1,945.7M770.9,937.4L787.6,954M779.3,933.9L779.3,957.5M787.6,937.4L770.9,954" stroke="#ff0080" stroke-width="2.2" stroke-linecap="round" fill="none"/><path d="M795.3,902.4L818.9,902.4M798.8,894L815.4,910.7M807.1,890.6L807.1,914.2M815.4,894L798.8,910.7" stroke="#ff0080" stroke-width="2.2" stroke-linecap="round" fill="none"/><path d="M823.1,851.7L846.7,851.7M826.6,843.3L843.3,860M834.9,839.9L834.9,863.5M843.3,843.3L826.6,860" stroke="#ff0080" stroke-width="2.2" stroke-linecap="round" fill="none"/><path d="M850.9,807.4L874.5,807.4M854.4,799.1L871.1,815.8M862.7,795.6L862.7,819.2M871.1,799.1L854.4,815.8" stroke="#ff0080" stroke-width="2.2" stroke-linecap="round" fill="none"/><path d="M878.8,770.6L902.4,770.6M882.2,762.2L898.9,778.9M890.6,758.8L890.6,782.4M898.9,762.2L882.2,778.9" stroke="#ff0080" stroke-width="2.2" stroke-linecap="round" fill="none"/><path d="M906.6,730.9L930.2,730.9M910,722.6L926.7,739.3M918.4,719.1L918.4,742.7M926.7,722.6L910,739.3" stroke="#ff0080" stroke-width="2.2" stroke-linecap="round" fill="none"/><path d="M934.4,687.6L958,687.6M937.9,679.2L954.5,695.9M946.2,675.8L946.2,699.4M954.5,679.2L937.9,695.9" stroke="#ff0080" stroke-width="2.2" stroke-linecap="round" fill="none"/><path d="M962.2,638.7L985.8,638.7M965.7,630.4L982.4,647.1M974,626.9L974,650.5M982.4,630.4L965.7,647.1" stroke="#ff0080" stroke-width="2.2" stroke-linecap="round" fill="none"/><path d="M990,607.4L1013.6,607.4M993.5,599.1L1010.2,615.7M1001.8,595.6L1001.8,619.2M1010.2,599.1L993.5,615.7" stroke="#ff0080" stroke-width="2.2" stroke-linecap="round" fill="none"/><path d="M1017.9,569.6L1041.5,569.6M1021.3,561.3L1038,577.9M1029.7,557.8L1029.7,581.4M1038,561.3L1021.3,577.9" stroke="#ff0080" stroke-width="2.2" stroke-linecap="round" fill="none"/><path d="M1045.7,518.9L1069.3,518.9M1049.1,510.6L1065.8,527.2M1057.5,507.1L1057.5,530.7M1065.8,510.6L1049.1,527.2" stroke="#ff0080" stroke-width="2.2" stroke-linecap="round" fill="none"/><path d="M1073.5,479.3L1097.1,479.3M1077,470.9L1093.6,487.6M1085.3,467.5L1085.3,491.1M1093.6,470.9L1077,487.6" stroke="#ff0080" stroke-width="2.2" stroke-linecap="round" fill="none"/><path d="M1101.3,447.9L1124.9,447.9M1104.8,439.6L1121.5,456.3M1113.1,436.1L1113.1,459.7M1121.5,439.6L1104.8,456.3" stroke="#ff0080" stroke-width="2.2" stroke-linecap="round" fill="none"/><path d="M1129.1,425.8L1152.7,425.8M1132.6,417.5L1149.3,434.1M1140.9,414L1140.9,437.6M1149.3,417.5L1132.6,434.1" stroke="#ff0080" stroke-width="2.2" stroke-linecap="round" fill="none"/><path d="M1157,384.3L1180.6,384.3M1160.4,376L1177.1,392.7M1168.8,372.5L1168.8,396.1M1177.1,376L1160.4,392.7" stroke="#ff0080" stroke-width="2.2" stroke-linecap="round" fill="none"/><path d="M1184.8,349.3L1208.4,349.3M1188.2,340.9L1204.9,357.6M1196.6,337.5L1196.6,361.1M1204.9,340.9L1188.2,357.6" stroke="#ff0080" stroke-width="2.2" stroke-linecap="round" fill="none"/><path d="M1212.6,322.6L1236.2,322.6M1216.1,314.2L1232.7,330.9M1224.4,310.8L1224.4,334.4M1232.7,314.2L1216.1,330.9" stroke="#ff0080" stroke-width="2.2" stroke-linecap="round" fill="none"/><path d="M1240.4,298.6L1264,298.6M1243.9,290.2L1260.6,306.9M1252.2,286.8L1252.2,310.4M1260.6,290.2L1243.9,306.9" stroke="#ff0080" stroke-width="2.2" stroke-linecap="round" fill="none"/><path d="M1268.2,263.6L1291.8,263.6M1271.7,255.2L1288.4,271.9M1280,251.8L1280,275.4M1288.4,255.2L1271.7,271.9" stroke="#ff0080" stroke-width="2.2" stroke-linecap="round" fill="none"/><path d="M1296.1,249.7L1319.7,249.7M1299.5,241.4L1316.2,258.1M1307.9,237.9L1307.9,261.5M1316.2,241.4L1299.5,258.1" stroke="#ff0080" stroke-width="2.2" stroke-linecap="round" fill="none"/><path d="M1323.9,228.5L1347.5,228.5M1327.3,220.2L1344,236.9M1335.7,216.7L1335.7,240.3M1344,220.2L1327.3,236.9" stroke="#ff0080" stroke-width="2.2" stroke-linecap="round" fill="none"/><path d="M1351.7,211.9L1375.3,211.9M1355.2,203.6L1371.8,220.3M1363.5,200.1L1363.5,223.7M1371.8,203.6L1355.2,220.3" stroke="#ff0080" stroke-width="2.2" stroke-linecap="round" fill="none"/><path d="M1379.5,196.3L1403.1,196.3M1383,187.9L1399.7,204.6M1391.3,184.5L1391.3,208.1M1399.7,187.9L1383,204.6" stroke="#ff0080" stroke-width="2.2" stroke-linecap="round" fill="none"/><path d="M1407.3,182.4L1430.9,182.4M1410.8,174.1L1427.5,190.8M1419.1,170.6L1419.1,194.2M1427.5,174.1L1410.8,190.8" stroke="#ff0080" stroke-width="2.2" stroke-linecap="round" fill="none"/><path d="M1435.2,168.6L1458.8,168.6M1438.6,160.3L1455.3,177M1447,156.8L1447,180.4M1455.3,160.3L1438.6,177" stroke="#ff0080" stroke-width="2.2" stroke-linecap="round" fill="none"/><path d="M1463,163.1L1486.6,163.1M1466.4,154.7L1483.1,171.4M1474.8,151.3L1474.8,174.9M1483.1,154.7L1466.4,171.4" stroke="#ff0080" stroke-width="2.2" stroke-linecap="round" fill="none"/><path d="M1490.8,151.1L1514.4,151.1M1494.3,142.8L1510.9,159.4M1502.6,139.3L1502.6,162.9M1510.9,142.8L1494.3,159.4" stroke="#ff0080" stroke-width="2.2" stroke-linecap="round" fill="none"/><path d="M1532.5,137.3L1556.1,137.3M1536,128.9L1552.7,145.6M1544.3,125.5L1544.3,149.1M1552.7,128.9L1536,145.6" stroke="#ff0080" stroke-width="2.2" stroke-linecap="round" fill="none"/><path d="M1574.3,138.2L1597.9,138.2M1577.7,129.9L1594.4,146.5M1586.1,126.4L1586.1,150M1594.4,129.9L1577.7,146.5" stroke="#ff0080" stroke-width="2.2" stroke-linecap="round" fill="none"/><path d="M1616,138.2L1639.6,138.2M1619.4,129.9L1636.1,146.5M1627.8,126.4L1627.8,150M1636.1,129.9L1619.4,146.5" stroke="#ff0080" stroke-width="2.2" stroke-linecap="round" fill="none"/><path d="M1657.7,138.2L1681.3,138.2M1661.2,129.9L1677.9,146.5M1669.5,126.4L1669.5,150M1677.9,129.9L1661.2,146.5" stroke="#ff0080" stroke-width="2.2" stroke-linecap="round" fill="none"/><path d="M1699.5,138.2L1723,138.2M1702.9,129.9L1719.6,146.5M1711.2,126.4L1711.2,150M1719.6,129.9L1702.9,146.5" stroke="#ff0080" stroke-width="2.2" stroke-linecap="round" fill="none"/><path d="M1741.2,138.2L1764.8,138.2M1744.6,129.9L1761.3,146.5M1753,126.4L1753,150M1761.3,129.9L1744.6,146.5" stroke="#ff0080" stroke-width="2.2" stroke-linecap="round" fill="none"/><path d="M1782.9,138.2L1806.5,138.2M1786.4,129.9L1803.1,146.5M1794.7,126.4L1794.7,150M1803.1,129.9L1786.4,146.5" stroke="#ff0080" stroke-width="2.2" stroke-linecap="round" fill="none"/><path d="M656.2,1060L679.8,1060M659.7,1051.7L676.3,1068.3M668,1048.2L668,1071.8M676.3,1051.7L659.7,1068.3" stroke="#ff0080" stroke-width="2.2" stroke-linecap="round" fill="none"/>
</g>
<path d="M667.5,43V1071M665,1068.5H1809" stroke="#000" stroke-width="5.2" fill="none"/>
<path d="M627.8,1060H667M647,1029.3H667M647,998.5H667M647,967.8H667M647,937.1H667M647,906.4H667M627.8,875.6H667M647,844.9H667M647,814.2H667M647,783.5H667M647,752.7H667M647,722H667M627.8,691.3H667M647,660.5H667M647,629.8H667M647,599.1H667M647,568.4H667M647,537.6H667M627.8,506.9H667M647,476.2H667M647,445.5H667M647,414.7H667M647,384H667M647,353.3H667M627.8,322.6H667M647,291.8H667M647,261.1H667M647,230.4H667M647,199.6H667M647,168.9H667M627.8,138.2H667M647,107.5H667M647,76.7H667M647,46H667M668,1068V1107M714.4,1068V1088M760.7,1068V1088M807.1,1068V1088M853.5,1068V1088M899.9,1068V1088M946.2,1068V1107M992.6,1068V1088M1039,1068V1088M1085.3,1068V1088M1131.7,1068V1088M1178.1,1068V1088M1224.4,1068V1107M1270.8,1068V1088M1317.2,1068V1088M1363.5,1068V1088M1409.9,1068V1088M1456.3,1068V1088M1502.7,1068V1107M1549,1068V1088M1595.4,1068V1088M1641.8,1068V1088M1688.1,1068V1088M1734.5,1068V1088M1780.9,1068V1107" stroke="#000" stroke-width="5.2" fill="none"/>
<text x="592.7" y="1078.5" font-family="Liberation Sans, sans-serif" font-size="52" font-weight="normal" text-anchor="middle" fill="#000" >0</text>
<text x="556.7 592.7" y="894.1" font-family="Liberation Sans, sans-serif" font-size="52" font-weight="normal" text-anchor="middle" fill="#000" >20</text>
<text x="556.7 592.7" y="709.8" font-family="Liberation Sans, sans-serif" font-size="52" font-weight="normal" text-anchor="middle" fill="#000" >40</text>
<text x="556.7 592.7" y="525.4" font-family="Liberation Sans, sans-serif" font-size="52" font-weight="normal" text-anchor="middle" fill="#000" >60</text>
<text x="556.7 592.7" y="341.1" font-family="Liberation Sans, sans-serif" font-size="52" font-weight="normal" text-anchor="middle" fill="#000" >80</text>
<text x="520.7 556.7 592.7" y="156.7" font-family="Liberation Sans, sans-serif" font-size="52" font-weight="normal" text-anchor="middle" fill="#000" >100</text>
<text x="665.5" y="1184.5" font-family="Liberation Sans, sans-serif" font-size="52" font-weight="normal" text-anchor="middle" fill="#000" >0</text>
<text x="924.7 962.7" y="1184.5" font-family="Liberation Sans, sans-serif" font-size="52" font-weight="normal" text-anchor="middle" fill="#000" >20</text>
<text x="1202.9 1240.9" y="1184.5" font-family="Liberation Sans, sans-serif" font-size="52" font-weight="normal" text-anchor="middle" fill="#000" >40</text>
<text x="1481.1 1519.1" y="1184.5" font-family="Liberation Sans, sans-serif" font-size="52" font-weight="normal" text-anchor="middle" fill="#000" >60</text>
<text x="1759.3 1797.3" y="1184.5" font-family="Liberation Sans, sans-serif" font-size="52" font-weight="normal" text-anchor="middle" fill="#000" >80</text>
<text x="1091.4 1121.8 1157.3 1204.1 1228 1251.4 1287.4 1327.4 1353.3 1384.7" y="1273.9" font-family="Liberation Sans, sans-serif" font-size="53" font-weight="bold" text-anchor="middle" fill="#000" >Time (min)</text>
<text transform="rotate(-90)" x="-828.8 -778.1 -723.6 -693 -662.5 -631.1 -606.5 -575.2 -538.6 -505.8 -482 -447.6 -424.5 -397.6 -361.1 -335 -308.9 -277.6 -235.8" y="498.5" font-family="Liberation Sans, sans-serif" font-size="52" font-weight="bold" text-anchor="middle">FNB Dissolution (%)</text>
<path d="M1331.5,617.3H1372.2M1417.5,617.3H1458.2" stroke="#ff0000" stroke-width="4.6"/>
<rect x="1384.6" y="607.3" width="20" height="20" fill="#ff0000"/>
<text x="1487 1522 1535 1550.8 1581 1593.8 1612.5 1642.5 1665.2 1687.8 1724.3 1765.8" y="637.3" font-family="Liberation Sans, sans-serif" font-size="44" font-weight="normal" text-anchor="middle" fill="#000" >Pristine FNB</text>
<path d="M1331.5,685.5H1372.2M1417.5,685.5H1458.2" stroke="#000000" stroke-width="4.6"/>
<circle cx="1394.6" cy="685.5" r="10.8" fill="#000000"/>
<text x="1486.3 1519.3 1533.6 1554.4 1593.1 1621" y="704.7" font-family="Liberation Sans, sans-serif" font-size="44" font-weight="normal" text-anchor="middle" fill="#000" >TriCor</text>
<path d="M1331.5,752.6H1372.2M1417.5,752.6H1458.2" stroke="#00ff00" stroke-width="4.6"/>
<path d="M1394.6,736.6L1408.6,760.6L1380.6,760.6Z" fill="#00ff00"/>
<text x="1486 1524 1563 1593.4 1620.6 1659.1 1692.8 1719.3" y="771.5" font-family="Liberation Sans, sans-serif" font-size="44" font-weight="normal" text-anchor="middle" fill="#000" >FNB-NC-A</text>
<path d="M1331.5,820.3H1372.2M1417.5,820.3H1458.2" stroke="#0000ff" stroke-width="4.6"/>
<path d="M1394.6,805.8L1409.6,820.3L1394.6,834.8L1379.6,820.3Z" fill="#0000ff"/>
<text x="1486 1524 1563 1593.4 1620.6 1659.1 1692.8 1718.9" y="839.5" font-family="Liberation Sans, sans-serif" font-size="44" font-weight="normal" text-anchor="middle" fill="#000" >FNB-NC-B</text>
<path d="M1331.5,888.2H1372.2M1417.5,888.2H1458.2" stroke="#008000" stroke-width="4.6"/>
<path d="M1394.6,875.9L1397.9,884.9L1407.4,885.2L1399.9,891.1L1402.5,900.3L1394.6,895L1386.7,900.3L1389.3,891.1L1381.8,885.2L1391.3,884.9Z" fill="#008000"/>
<text x="1486 1524 1563 1593.4 1620.6 1659.1 1692.8 1719.3" y="906.9" font-family="Liberation Sans, sans-serif" font-size="44" font-weight="normal" text-anchor="middle" fill="#000" >FNB-NC-C</text>
<path d="M1331.5,955.6H1372.2M1417.5,955.6H1458.2" stroke="#8a0088" stroke-width="4.6"/>
<circle cx="1394.6" cy="955.6" r="11.5" fill="url(#sph)"/>
<text x="1486 1524 1563 1593.4 1620.6 1659.1 1692.8 1720.5" y="975.1" font-family="Liberation Sans, sans-serif" font-size="44" font-weight="normal" text-anchor="middle" fill="#000" >FNB-NC-D</text>
<path d="M1331.5,1023.9H1372.2M1417.5,1023.9H1458.2" stroke="#ff0080" stroke-width="4.6"/>
<path d="M1382.8,1023.9L1406.4,1023.9M1386.3,1015.6L1402.9,1032.2M1394.6,1012.1L1394.6,1035.7M1402.9,1015.6L1386.3,1032.2" stroke="#ff0080" stroke-width="2.2" stroke-linecap="round" fill="none"/>
<text x="1486 1524 1563 1593.4 1620.6 1659.1 1692.8 1717.5" y="1043.1" font-family="Liberation Sans, sans-serif" font-size="44" font-weight="normal" text-anchor="middle" fill="#000" >FNB-NC-E</text>
<defs><filter id="bl1" filterUnits="userSpaceOnUse" x="0" y="1300" width="2186" height="1588"><feGaussianBlur stdDeviation="1"/></filter><filter id="bl1_5" filterUnits="userSpaceOnUse" x="0" y="1300" width="2186" height="1588"><feGaussianBlur stdDeviation="1.5"/></filter><filter id="bl3" filterUnits="userSpaceOnUse" x="0" y="1300" width="2186" height="1588"><feGaussianBlur stdDeviation="3"/></filter><filter id="bl2" filterUnits="userSpaceOnUse" x="0" y="1300" width="2186" height="1588"><feGaussianBlur stdDeviation="2"/></filter><filter id="bl5" filterUnits="userSpaceOnUse" x="0" y="1300" width="2186" height="1588"><feGaussianBlur stdDeviation="5"/></filter><filter id="bl6" filterUnits="userSpaceOnUse" x="0" y="1300" width="2186" height="1588"><feGaussianBlur stdDeviation="6"/></filter><filter id="bl7" filterUnits="userSpaceOnUse" x="0" y="1300" width="2186" height="1588"><feGaussianBlur stdDeviation="7"/></filter><filter id="bl4" filterUnits="userSpaceOnUse" x="0" y="1300" width="2186" height="1588"><feGaussianBlur stdDeviation="4"/></filter><filter id="bl8" filterUnits="userSpaceOnUse" x="0" y="1300" width="2186" height="1588"><feGaussianBlur stdDeviation="8"/></filter><filter id="bl6_5" filterUnits="userSpaceOnUse" x="0" y="1300" width="2186" height="1588"><feGaussianBlur stdDeviation="6.5"/></filter><filter id="bl10" filterUnits="userSpaceOnUse" x="0" y="1300" width="2186" height="1588"><feGaussianBlur stdDeviation="10"/></filter><filter id="bl12" filterUnits="userSpaceOnUse" x="0" y="1300" width="2186" height="1588"><feGaussianBlur stdDeviation="12"/></filter><filter id="bl5_5" filterUnits="userSpaceOnUse" x="0" y="1300" width="2186" height="1588"><feGaussianBlur stdDeviation="5.5"/></filter><filter id="bl14" filterUnits="userSpaceOnUse" x="0" y="1300" width="2186" height="1588"><feGaussianBlur stdDeviation="14"/></filter><filter id="bl3_5" filterUnits="userSpaceOnUse" x="0" y="1300" width="2186" height="1588"><feGaussianBlur stdDeviation="3.5"/></filter><filter id="bl20" filterUnits="userSpaceOnUse" x="0" y="1300" width="2186" height="1588"><feGaussianBlur stdDeviation="20"/></filter><filter id="bl4_5" filterUnits="userSpaceOnUse" x="0" y="1300" width="2186" height="1588"><feGaussianBlur stdDeviation="4.5"/></filter></defs>
<defs><clipPath id="p00c"><rect x="382" y="1497" width="580" height="203"/></clipPath><linearGradient id="p00bg" x1="0" y1="0" x2="0" y2="1"><stop offset="0" stop-color="#0046aa"/><stop offset="0.38" stop-color="#0040a6"/><stop offset="0.5" stop-color="#002a9a"/><stop offset="0.6" stop-color="#00108a"/><stop offset="0.66" stop-color="#000a80"/><stop offset="1" stop-color="#000a80"/></linearGradient></defs><g clip-path="url(#p00c)"><rect x="382" y="1497" width="580" height="203" fill="url(#p00bg)"/><g filter="url(#bl1)"><path d="M628.7,1566.1l397.3,-0.7" stroke="#0034a0" stroke-width="2.1" opacity="0.3"/><path d="M603.3,1529.9l309,-1.8" stroke="#0a58b6" stroke-width="1.4" opacity="0.3"/><path d="M761.1,1517.2l328,0.9" stroke="#0034a0" stroke-width="3" opacity="0.3"/><path d="M658.2,1593.3l167.2,-2.8" stroke="#0034a0" stroke-width="2.2" opacity="0.3"/><path d="M460.2,1530.7l129,0.4" stroke="#0034a0" stroke-width="2" opacity="0.3"/><path d="M671.4,1575.1l269.9,-1.9" stroke="#0a58b6" stroke-width="2" opacity="0.3"/><path d="M859.7,1639.7l372.1,-2.1" stroke="#0a58b6" stroke-width="1.8" opacity="0.3"/><path d="M369.2,1544l349.9,-1.5" stroke="#0034a0" stroke-width="2.7" opacity="0.3"/><path d="M781.1,1634.3l120.2,-1.1" stroke="#0034a0" stroke-width="2.8" opacity="0.3"/><path d="M542.6,1637.3l141.9,-1.9" stroke="#0a58b6" stroke-width="2.6" opacity="0.3"/><path d="M508.3,1516.8l409.2,-2" stroke="#0a58b6" stroke-width="1.4" opacity="0.3"/><path d="M363.7,1518.6l359.1,-1.2" stroke="#0034a0" stroke-width="2.2" opacity="0.3"/><path d="M719.9,1530.7l159.3,-1.3" stroke="#0a58b6" stroke-width="1.4" opacity="0.3"/><path d="M475,1533.7l411.3,0.5" stroke="#0a58b6" stroke-width="1.7" opacity="0.3"/><path d="M541,1533.4l376.3,1" stroke="#0a58b6" stroke-width="1.4" opacity="0.3"/><path d="M468.9,1533.8l351.8,-2.7" stroke="#0034a0" stroke-width="1.7" opacity="0.3"/><path d="M640.8,1517.2l192.9,-1.2" stroke="#0a58b6" stroke-width="1.9" opacity="0.3"/><path d="M588.4,1634.5l292.4,-2.4" stroke="#0a58b6" stroke-width="1.5" opacity="0.3"/><path d="M765.4,1627.6l194.8,0.8" stroke="#0034a0" stroke-width="2.5" opacity="0.3"/><path d="M835.6,1531.5l384.7,-2.6" stroke="#0a58b6" stroke-width="2" opacity="0.3"/><path d="M842.2,1510.2l191.5,0.3" stroke="#0a58b6" stroke-width="1.7" opacity="0.3"/><path d="M487.5,1585.5l172.6,-2.1" stroke="#0a58b6" stroke-width="1.3" opacity="0.3"/><path d="M783.8,1580.5l304.3,-2.2" stroke="#0034a0" stroke-width="2.9" opacity="0.3"/><path d="M474.7,1507.2l253.7,-1.5" stroke="#0034a0" stroke-width="1.5" opacity="0.3"/><path d="M401.7,1582.2l228.6,-0.4" stroke="#0a58b6" stroke-width="3" opacity="0.3"/><path d="M641.8,1598.3l162.1,0.6" stroke="#0034a0" stroke-width="1.2" opacity="0.3"/><path d="M842.3,1599.6l126.4,-0.1" stroke="#0a58b6" stroke-width="2.1" opacity="0.3"/><path d="M861.7,1548.1l142.6,0.6" stroke="#0a58b6" stroke-width="2.5" opacity="0.3"/><path d="M705,1604.5l358,-0.3" stroke="#0a58b6" stroke-width="1.8" opacity="0.3"/><path d="M793.7,1626.6l245.1,-0.7" stroke="#0a58b6" stroke-width="2.8" opacity="0.3"/><path d="M534.6,1589.4l294.8,-0.4" stroke="#0a58b6" stroke-width="1.3" opacity="0.3"/><path d="M798.3,1639.1l338.5,-0.7" stroke="#0034a0" stroke-width="2.5" opacity="0.3"/><path d="M776.3,1564.5l145.1,-0.6" stroke="#0a58b6" stroke-width="1.3" opacity="0.3"/><path d="M454,1569.9l329.5,0.7" stroke="#0034a0" stroke-width="2.3" opacity="0.3"/><path d="M338,1539.5l210.3,-2.3" stroke="#0a58b6" stroke-width="1.6" opacity="0.3"/><path d="M681.8,1627.3l252.6,-0.3" stroke="#0a58b6" stroke-width="1.8" opacity="0.3"/><path d="M560.4,1531.8l361.8,-1.5" stroke="#0a58b6" stroke-width="2.8" opacity="0.3"/><path d="M499.7,1583.7l160.9,0.4" stroke="#0034a0" stroke-width="2.7" opacity="0.3"/><path d="M835.5,1601l203,-1.9" stroke="#0034a0" stroke-width="2" opacity="0.3"/><path d="M551.4,1533.9l307.7,0.4" stroke="#0034a0" stroke-width="1.8" opacity="0.3"/></g><ellipse cx="880" cy="1643" rx="95" ry="12" fill="#0038a4" opacity="1.0" filter="url(#bl5)"/><path d="M690,1680 L703,1640 L712,1617 L730,1606 L760,1604 L778,1612 L785,1635 L790,1680Z" fill="#000a80" opacity="1.0" filter="url(#bl5)"/><ellipse cx="533" cy="1661" rx="17" ry="12" fill="#00a0e8" opacity="0.9" filter="url(#bl5)"/><ellipse cx="533" cy="1661" rx="8" ry="6" fill="#30f0ff" opacity="1.0" filter="url(#bl3)"/><path d="M533,1663 L531,1672" fill="none" stroke="#20d0f0" stroke-width="3" stroke-linecap="round" stroke-linejoin="round" opacity="0.9" filter="url(#bl1_5)"/><ellipse cx="650" cy="1658" rx="70" ry="13" fill="#0a60c0" opacity="0.8" filter="url(#bl7)"/><ellipse cx="632" cy="1658" rx="32" ry="15" fill="#0088dc" opacity="0.9" filter="url(#bl6)"/><ellipse cx="630" cy="1659" rx="17" ry="9" fill="#00d8f8" opacity="1.0" filter="url(#bl3)"/><ellipse cx="630" cy="1660" rx="8" ry="5" fill="#50ffff" opacity="1.0" filter="url(#bl2)"/><path d="M592,1671 L660,1671" fill="none" stroke="#10c0f0" stroke-width="3" stroke-linecap="round" stroke-linejoin="round" opacity="0.7" filter="url(#bl1_5)"/><path d="M382,1675 L382,1675 L700,1676 L962,1676 L962,1676 L962,1700 L382,1700 Z" fill="#0050b0"/></g>
<defs><clipPath id="p01c"><rect x="986" y="1497" width="575" height="203"/></clipPath><linearGradient id="p01bg" x1="0" y1="0" x2="0" y2="1"><stop offset="0" stop-color="#004cae"/><stop offset="0.5" stop-color="#004aac"/><stop offset="0.8" stop-color="#0048aa"/><stop offset="1" stop-color="#0048aa"/></linearGradient></defs><g clip-path="url(#p01c)"><rect x="986" y="1497" width="575" height="203" fill="url(#p01bg)"/><g filter="url(#bl1)"><path d="M1281.2,1580.9l319.9,-1.5" stroke="#003a9e" stroke-width="1.2" opacity="0.4"/><path d="M1361.4,1548.8l327.2,-0.4" stroke="#0a62bc" stroke-width="2.2" opacity="0.4"/><path d="M1167,1528.2l168.7,0.3" stroke="#0a62bc" stroke-width="1.3" opacity="0.4"/><path d="M1296.6,1516.9l221.1,-2.9" stroke="#003a9e" stroke-width="2.7" opacity="0.4"/><path d="M1416.4,1514.7l272.7,0.8" stroke="#003a9e" stroke-width="3" opacity="0.4"/><path d="M1158.2,1523l160.5,-2.3" stroke="#003a9e" stroke-width="2.3" opacity="0.4"/><path d="M963,1616.5l171.4,-1.3" stroke="#0a62bc" stroke-width="1.9" opacity="0.4"/><path d="M1186.3,1600.4l235.4,0.9" stroke="#003a9e" stroke-width="2.5" opacity="0.4"/><path d="M1284.4,1661.2l226.9,-0.3" stroke="#003a9e" stroke-width="2.4" opacity="0.4"/><path d="M1059.4,1523.2l229,-1" stroke="#0a62bc" stroke-width="2.7" opacity="0.4"/><path d="M1367.8,1509.5l249,-1.3" stroke="#0a62bc" stroke-width="1.6" opacity="0.4"/><path d="M1341.3,1567.1l150.8,-0.2" stroke="#0a62bc" stroke-width="1.5" opacity="0.4"/><path d="M1081.2,1510.9l223.3,-1.2" stroke="#0a62bc" stroke-width="1.3" opacity="0.4"/><path d="M1084,1538.4l262.9,0.8" stroke="#0a62bc" stroke-width="2.1" opacity="0.4"/><path d="M1421.2,1531.8l229.3,0.6" stroke="#003a9e" stroke-width="2.5" opacity="0.4"/><path d="M1076.8,1506.1l351.2,-3" stroke="#003a9e" stroke-width="1.6" opacity="0.4"/><path d="M1261,1511.4l415.1,-2.9" stroke="#0a62bc" stroke-width="2.1" opacity="0.4"/><path d="M1349.4,1556.6l369.6,-0.9" stroke="#0a62bc" stroke-width="1.6" opacity="0.4"/><path d="M1265.2,1581.4l198.8,-2.4" stroke="#0a62bc" stroke-width="2.8" opacity="0.4"/><path d="M1394.4,1551.6l203.5,-0.2" stroke="#0a62bc" stroke-width="2.1" opacity="0.4"/><path d="M1048.4,1617.8l205.5,-0.2" stroke="#003a9e" stroke-width="2.4" opacity="0.4"/><path d="M1401.4,1526.1l246.1,0.9" stroke="#003a9e" stroke-width="2" opacity="0.4"/><path d="M1264,1594.6l396,-1.3" stroke="#0a62bc" stroke-width="2.6" opacity="0.4"/><path d="M1409,1599.1l356.8,-1.5" stroke="#0a62bc" stroke-width="1.8" opacity="0.4"/><path d="M1231.7,1622.7l125.1,0.2" stroke="#0a62bc" stroke-width="2.8" opacity="0.4"/><path d="M1414,1648.6l280.5,-2.6" stroke="#0a62bc" stroke-width="1.9" opacity="0.4"/><path d="M1099.9,1561.5l400.2,-0.5" stroke="#0a62bc" stroke-width="2.2" opacity="0.4"/><path d="M1216.5,1525l330.2,-1.4" stroke="#003a9e" stroke-width="1.6" opacity="0.4"/><path d="M1295.8,1556.8l162.5,-0.2" stroke="#003a9e" stroke-width="1.8" opacity="0.4"/><path d="M1282.2,1626.5l400.4,-1" stroke="#003a9e" stroke-width="1.3" opacity="0.4"/><path d="M1030.2,1576l320.2,-1.7" stroke="#003a9e" stroke-width="1.6" opacity="0.4"/><path d="M940.1,1656l228.1,-1.3" stroke="#003a9e" stroke-width="1.6" opacity="0.4"/><path d="M1418.4,1540.3l270.3,-1.1" stroke="#0a62bc" stroke-width="1.5" opacity="0.4"/><path d="M1378.5,1602l195,0.3" stroke="#003a9e" stroke-width="2.7" opacity="0.4"/><path d="M1218.4,1541.4l348.4,-0.3" stroke="#003a9e" stroke-width="2.4" opacity="0.4"/><path d="M1226.8,1660.6l324.2,-1.7" stroke="#003a9e" stroke-width="2.5" opacity="0.4"/><path d="M1125.4,1585l212.2,-0.8" stroke="#003a9e" stroke-width="1.6" opacity="0.4"/><path d="M960.1,1545.3l361.1,-0.6" stroke="#003a9e" stroke-width="2.9" opacity="0.4"/><path d="M1394.4,1567.3l389.2,-0.4" stroke="#003a9e" stroke-width="1.4" opacity="0.4"/><path d="M1255.5,1639.8l355.3,-1.9" stroke="#003a9e" stroke-width="2.3" opacity="0.4"/><path d="M1135.3,1570.1l235.4,-2.3" stroke="#003a9e" stroke-width="2.7" opacity="0.4"/><path d="M1069.7,1537.8l411.3,0.3" stroke="#0a62bc" stroke-width="1.3" opacity="0.4"/><path d="M1367.1,1644.8l227.6,-2.5" stroke="#0a62bc" stroke-width="1.7" opacity="0.4"/><path d="M1373.3,1643.4l183.4,-1.8" stroke="#0a62bc" stroke-width="1.2" opacity="0.4"/><path d="M1025.8,1507.1l169,-2.2" stroke="#0a62bc" stroke-width="1.7" opacity="0.4"/><path d="M1099.8,1534.4l378.7,-0.3" stroke="#0a62bc" stroke-width="1.4" opacity="0.4"/><path d="M1171.4,1590.8l278.3,-1" stroke="#0a62bc" stroke-width="2.6" opacity="0.4"/><path d="M1181.3,1606.7l310.2,-0.9" stroke="#003a9e" stroke-width="1.9" opacity="0.4"/><path d="M1082.2,1619.4l397.5,-0.2" stroke="#003a9e" stroke-width="2.7" opacity="0.4"/><path d="M1294.3,1658l248.1,0" stroke="#003a9e" stroke-width="2.3" opacity="0.4"/><path d="M1003.9,1639.2l138.7,-2.8" stroke="#003a9e" stroke-width="1.4" opacity="0.4"/><path d="M1067,1506.3l154,0.9" stroke="#0a62bc" stroke-width="2.3" opacity="0.4"/><path d="M1328,1658.7l404.9,0.7" stroke="#003a9e" stroke-width="1.6" opacity="0.4"/><path d="M1044.5,1581.1l347,-1.7" stroke="#003a9e" stroke-width="2.2" opacity="0.4"/><path d="M981.8,1543.7l302.1,0.1" stroke="#0a62bc" stroke-width="3" opacity="0.4"/><path d="M1126.2,1654.3l209.5,-0.3" stroke="#0a62bc" stroke-width="2.3" opacity="0.4"/><path d="M1056,1507l264.7,0" stroke="#0a62bc" stroke-width="2.7" opacity="0.4"/><path d="M1136.4,1559.4l378.7,-2.2" stroke="#0a62bc" stroke-width="2.1" opacity="0.4"/><path d="M1217.4,1604.9l228.5,-0.6" stroke="#003a9e" stroke-width="1.9" opacity="0.4"/><path d="M1220,1525.3l405.7,-1.3" stroke="#0a62bc" stroke-width="1.7" opacity="0.4"/></g><ellipse cx="1515" cy="1593" rx="20" ry="4" fill="#0030a0" opacity="0.9" filter="url(#bl2)"/><ellipse cx="1470" cy="1620" rx="60" ry="4" fill="#0038a2" opacity="0.7" filter="url(#bl3)"/><ellipse cx="1095" cy="1663" rx="110" ry="7" fill="#30c0f0" opacity="0.95" filter="url(#bl4)"/><ellipse cx="1175" cy="1645" rx="35" ry="8" fill="#1090d8" opacity="0.6" filter="url(#bl6)"/><path d="M986,1673 L1090,1674 L1160,1675 L1199,1672" fill="none" stroke="#000a80" stroke-width="9" stroke-linecap="round" stroke-linejoin="round" opacity="1.0" filter="url(#bl1)"/><ellipse cx="1200" cy="1661" rx="48" ry="6" fill="#000a80" opacity="1.0" filter="url(#bl2)" transform="rotate(8 1200 1661)"/><ellipse cx="1252" cy="1647" rx="28" ry="7" fill="#000a80" opacity="1.0" filter="url(#bl3)"/><ellipse cx="1262" cy="1659" rx="42" ry="7" fill="#00c8f0" opacity="0.9" filter="url(#bl3)"/><ellipse cx="1262" cy="1659" rx="24" ry="4" fill="#40ff90" opacity="1.0" filter="url(#bl2)"/><ellipse cx="1320" cy="1655" rx="32" ry="5" fill="#10a0e0" opacity="0.7" filter="url(#bl4)"/><path d="M1295,1660 L1420,1658 L1556,1656 L1556,1676 L1330,1677Z" fill="#002294" opacity="0.7" filter="url(#bl4)"/><path d="M1330,1679 L1450,1680 L1555,1677" fill="none" stroke="#00e0f0" stroke-width="5" stroke-linecap="round" stroke-linejoin="round" opacity="1.0" filter="url(#bl1)"/><path d="M986,1678 L986,1678 L1200,1678 L1290,1677 L1320,1682 L1561,1681 L1561,1681 L1561,1700 L986,1700 Z" fill="#0050b0"/></g>
<defs><clipPath id="p02c"><rect x="1587" y="1497" width="575" height="203"/></clipPath><linearGradient id="p02bg" x1="0" y1="0" x2="0" y2="1"><stop offset="0" stop-color="#004cae"/><stop offset="0.5" stop-color="#004aac"/><stop offset="1" stop-color="#0048aa"/></linearGradient></defs><g clip-path="url(#p02c)"><rect x="1587" y="1497" width="575" height="203" fill="url(#p02bg)"/><g filter="url(#bl1)"><path d="M1896.8,1545.1l325.2,-2.1" stroke="#0a62bc" stroke-width="1.5" opacity="0.4"/><path d="M1655.2,1527.8l340.2,-2.1" stroke="#003a9e" stroke-width="2.2" opacity="0.4"/><path d="M1763.6,1550.7l371.3,-1.9" stroke="#0a62bc" stroke-width="1.2" opacity="0.4"/><path d="M1994.4,1527.7l362.9,-0" stroke="#0a62bc" stroke-width="2.7" opacity="0.4"/><path d="M1953.7,1652.1l197,0" stroke="#0a62bc" stroke-width="2.1" opacity="0.4"/><path d="M1762.5,1592.4l229.3,-2.5" stroke="#003a9e" stroke-width="1.8" opacity="0.4"/><path d="M1956.1,1632l415.7,-0" stroke="#0a62bc" stroke-width="2.2" opacity="0.4"/><path d="M1892.3,1525.9l253,-0.9" stroke="#003a9e" stroke-width="1.6" opacity="0.4"/><path d="M1778.2,1544.3l301.6,-1" stroke="#003a9e" stroke-width="1.4" opacity="0.4"/><path d="M1660.7,1541.5l178.3,-0.4" stroke="#003a9e" stroke-width="1.3" opacity="0.4"/><path d="M1741.6,1652.8l335.7,-2.4" stroke="#0a62bc" stroke-width="1.3" opacity="0.4"/><path d="M1977,1629.9l311.7,0.5" stroke="#003a9e" stroke-width="1.9" opacity="0.4"/><path d="M1958.7,1642.4l180.9,-0.1" stroke="#0a62bc" stroke-width="1.9" opacity="0.4"/><path d="M2046.9,1526.2l301.1,-0.5" stroke="#0a62bc" stroke-width="1.6" opacity="0.4"/><path d="M1847.4,1595l227.8,-1.8" stroke="#0a62bc" stroke-width="1.8" opacity="0.4"/><path d="M1896.1,1530.5l153.7,-0.4" stroke="#003a9e" stroke-width="1.3" opacity="0.4"/><path d="M1822.2,1591.2l131.6,-2.6" stroke="#003a9e" stroke-width="1.8" opacity="0.4"/><path d="M2060.9,1505.5l156.5,-0.6" stroke="#003a9e" stroke-width="1.7" opacity="0.4"/><path d="M1783.7,1517l230,-1.7" stroke="#0a62bc" stroke-width="1.2" opacity="0.4"/><path d="M2046.1,1582l275,-1.8" stroke="#003a9e" stroke-width="2.4" opacity="0.4"/><path d="M1800.2,1509.9l393.1,-0.3" stroke="#0a62bc" stroke-width="1.7" opacity="0.4"/><path d="M1672.7,1636.6l296.4,-1.9" stroke="#003a9e" stroke-width="1.6" opacity="0.4"/><path d="M1721.2,1536.6l131.4,0" stroke="#003a9e" stroke-width="1.4" opacity="0.4"/><path d="M1539.2,1598l352.2,-0.8" stroke="#003a9e" stroke-width="2.1" opacity="0.4"/><path d="M1689,1556.6l250.5,-2.6" stroke="#003a9e" stroke-width="2.8" opacity="0.4"/><path d="M1651.6,1632.6l211,-2.5" stroke="#003a9e" stroke-width="1.3" opacity="0.4"/><path d="M1769,1561l382.9,-0.9" stroke="#0a62bc" stroke-width="1.3" opacity="0.4"/><path d="M1958.9,1525.1l216.8,-2.5" stroke="#0a62bc" stroke-width="2.2" opacity="0.4"/><path d="M1667.3,1505.8l380.4,-1.5" stroke="#003a9e" stroke-width="2.1" opacity="0.4"/><path d="M1957.9,1558.5l184.1,0.7" stroke="#0a62bc" stroke-width="2.4" opacity="0.4"/><path d="M2020.2,1585.6l252.2,0.4" stroke="#0a62bc" stroke-width="2.3" opacity="0.4"/><path d="M1597.6,1644.1l161.1,-0.9" stroke="#0a62bc" stroke-width="2.7" opacity="0.4"/><path d="M2042,1551.4l209.4,-2.9" stroke="#003a9e" stroke-width="1.3" opacity="0.4"/><path d="M1593.3,1617.7l334.8,0.2" stroke="#0a62bc" stroke-width="3" opacity="0.4"/><path d="M1863.6,1570.8l369.9,0" stroke="#0a62bc" stroke-width="1.7" opacity="0.4"/><path d="M1698.9,1522l418.8,0.1" stroke="#003a9e" stroke-width="1.7" opacity="0.4"/><path d="M1538.9,1574.8l128.8,0.7" stroke="#003a9e" stroke-width="1.8" opacity="0.4"/><path d="M1983.3,1543.3l376.1,0" stroke="#003a9e" stroke-width="3" opacity="0.4"/><path d="M1674.3,1580l258.3,-2.2" stroke="#0a62bc" stroke-width="2.2" opacity="0.4"/><path d="M1787,1563.2l177.2,0.3" stroke="#0a62bc" stroke-width="1.3" opacity="0.4"/><path d="M1591,1532.7l296.7,-1" stroke="#003a9e" stroke-width="2.8" opacity="0.4"/><path d="M1975.1,1585.8l184.3,-1.3" stroke="#0a62bc" stroke-width="2.4" opacity="0.4"/><path d="M1548.6,1653.7l378.7,-2.4" stroke="#003a9e" stroke-width="2.7" opacity="0.4"/><path d="M1799.9,1513.3l397.8,-0.6" stroke="#003a9e" stroke-width="2.1" opacity="0.4"/><path d="M1815.4,1542.8l122.9,-1.6" stroke="#003a9e" stroke-width="2.6" opacity="0.4"/><path d="M1563.7,1539.2l330.2,-0" stroke="#003a9e" stroke-width="2.8" opacity="0.4"/><path d="M2016.9,1520.6l399.6,-0.3" stroke="#0a62bc" stroke-width="2.7" opacity="0.4"/><path d="M1887.3,1616.7l297.2,-0.1" stroke="#003a9e" stroke-width="1.4" opacity="0.4"/><path d="M1566.6,1597.5l312.5,0.1" stroke="#0a62bc" stroke-width="2.1" opacity="0.4"/><path d="M1737.1,1640.8l364.4,-1.3" stroke="#003a9e" stroke-width="2.2" opacity="0.4"/><path d="M1770.3,1649.6l405.7,0.7" stroke="#003a9e" stroke-width="2.4" opacity="0.4"/><path d="M1734,1611l143.3,0.3" stroke="#003a9e" stroke-width="1.9" opacity="0.4"/><path d="M2054.7,1626.6l254.3,-0" stroke="#003a9e" stroke-width="2.2" opacity="0.4"/><path d="M1650.1,1517.4l163.7,0.9" stroke="#003a9e" stroke-width="1.7" opacity="0.4"/><path d="M2027.1,1537.2l208.4,-2.6" stroke="#003a9e" stroke-width="3" opacity="0.4"/><path d="M1604.5,1522.5l140.1,-2.4" stroke="#003a9e" stroke-width="1.6" opacity="0.4"/><path d="M1903.6,1507.4l134.8,0.5" stroke="#003a9e" stroke-width="2.2" opacity="0.4"/><path d="M1909.1,1607.2l330.2,-2.4" stroke="#0a62bc" stroke-width="2.7" opacity="0.4"/><path d="M1863,1513.4l275.6,-2.3" stroke="#0a62bc" stroke-width="2.6" opacity="0.4"/><path d="M1760.9,1614.4l246.5,-0.7" stroke="#003a9e" stroke-width="1.7" opacity="0.4"/></g><ellipse cx="1670" cy="1640" rx="90" ry="10" fill="#0036a0" opacity="0.9" filter="url(#bl6)"/><path d="M1587,1657 L1700,1655 L1775,1658 L1790,1669 L1587,1670Z" fill="#000a80" opacity="1.0" filter="url(#bl3)"/><ellipse cx="1930" cy="1657" rx="45" ry="9" fill="#000a80" opacity="1.0" filter="url(#bl3)"/><ellipse cx="1853" cy="1643" rx="68" ry="36" fill="#00d0f0" opacity="1.0" filter="url(#bl6)"/><ellipse cx="1830" cy="1660" rx="60" ry="14" fill="#00c8e8" opacity="1.0" filter="url(#bl5)"/><ellipse cx="1805" cy="1662" rx="38" ry="10" fill="#00d8f0" opacity="1.0" filter="url(#bl5)"/><ellipse cx="1857" cy="1639" rx="42" ry="21" fill="#30f070" opacity="1.0" filter="url(#bl5)"/><ellipse cx="1855" cy="1641" rx="18" ry="7" fill="#a8f040" opacity="1.0" filter="url(#bl3)"/><ellipse cx="1975" cy="1672" rx="40" ry="5" fill="#10b8e8" opacity="0.7" filter="url(#bl4)"/><path d="M1587,1675 L1700,1676 L1786,1675" fill="none" stroke="#50f080" stroke-width="8" stroke-linecap="round" stroke-linejoin="round" opacity="1.0" filter="url(#bl1)"/><path d="M1690,1677 L1770,1677" fill="none" stroke="#f8f800" stroke-width="5" stroke-linecap="round" stroke-linejoin="round" opacity="1.0" filter="url(#bl1)"/><path d="M1906,1675 L2157,1675" fill="none" stroke="#00f0f0" stroke-width="5" stroke-linecap="round" stroke-linejoin="round" opacity="1.0" filter="url(#bl1)"/><path d="M1587,1680 L1587,1680 L1795,1680 L1830,1671 L1880,1665 L1905,1668 L1912,1679 L2162,1679 L2162,1679 L2162,1700 L1587,1700 Z" fill="#0050b0"/></g>
<defs><clipPath id="p10c"><rect x="382" y="1730" width="575" height="203"/></clipPath><linearGradient id="p10bg" x1="0" y1="0" x2="0" y2="1"><stop offset="0" stop-color="#0050ac"/><stop offset="0.5" stop-color="#0054b0"/><stop offset="1" stop-color="#0058b4"/></linearGradient><path id="p10S1" d="M457.5,1961.7l4,-5.7l4,-6.1l4,-6.3l4,-6.4l4,-6.3l4,-5.9l4,-5.3l4,-4.6l4,-3.7l4,-2.6l4,-1.9l4,-1.5l4,-1.4l4,-1.4l4,-1.4l4,-1.4l4,-1.3l4,-1.2l4,-0.9l4,-0.9l4,-0.8l4,-0.6l4,-0.5l4,-0.3l4,-0.3l4,-0.3l4,-0.2l4,-0.3l4,-0.1l4,-0.2l4,-0.2l4,-0.1l4,-0.1l4,-0.1l4,-0.1l4,-0.1l4,0l4,-0.1l4,-0.1l4,-0.2l4,-0.1l4,-0.2l4,-0.2l4,-0.2l4,-0.4l4,-0.4l4,-0.4l4,-0.5l4,-0.4l4,-0.5l4,-0.5l4,-0.5l4,-0.7l4,-0.7l4,-0.7l4,-0.7l4,-0.4l4,-0.2l4,0.1l4,0.4l4,0.6l4,0.7l4,0.7l4,0.8l4,0.7l4,1l4,0.9l4,0.8l4,0.4l4,0.3l4,0.2l4,0.2l4,0.2l4,0.2l4,0.1l4,0.1l4,0l4,0l4,0l4,0l4,-0.1l4,0l4,-0.1l4,0l4,-0.1l4,0l4,0l4,0l4,0.1l4,0l4,0.1l4,0.1l4,0.1l4,0.1l4,0.2l4,0.2l4,0.5l4,0.7l4,0.9l4,1l4,1.5l4,1.9l4,2.2l4,2.7l4,3.3l4,3.7l4,4.3l4,4.8l4,5.2l4,5.5l4,5.8l4,5.8l4,5.9l4,5.8l4,5.7l1.8,2.4V2193H457.5Z"/><path id="p10S1B" d="M437.5,1910.6l20,0l4,0l4,0l4,0l4,0l4,0l4,0l4,0l4,0l4,0l4,0l4,0l4,0l4,0l4,0l4,0l4,0l4,0l4,0l4,0l4,0l4,0l4,0l4,0l4,0l4,0l4,0l4,0l4,0l4,0l4,0l4,0l4,0l4,0l4,0l4,0l4,0l4,0l4,0l4,0l4,0l4,0l4,0l4,0l4,0l4,0l4,0l4,0l4,0l4,0l4,0l4,0l4,0l4,0l4,0l4,0l4,0l4,0l4,0l4,0l4,0l4,0l4,0l4,0l4,0l4,0l4,0l4,0l4,0l4,0l4,0l4,0l4,0l4,0l4,0l4,0l4,0l4,0l4,0l4,0l4,0l4,0l4,0l4,0l4,0l4,0l4,0l4,0l4,0l4,0l4,0l4,0l4,0l4,0l4,0l4,0l4,0l4,0l4,0l4,0l4,0l4,0l4,0l4,0l4,0l4,0l4,0l4,0l4,0l4,0l4,0l4,0l4,0l4,0l4,0l4,0l1.8,0l20,0V1430H437.5Z"/><clipPath id="p10S1k1"><use href="#p10S1B" y="-0.2"/></clipPath><clipPath id="p10S1k2"><use href="#p10S1B" y="-0.4"/></clipPath><clipPath id="p10S1k3"><use href="#p10S1B" y="-0.8"/></clipPath><clipPath id="p10S1k4"><use href="#p10S1B" y="-1.3"/></clipPath><linearGradient id="p10g0" gradientUnits="userSpaceOnUse" x1="382" y1="0" x2="957" y2="0"><stop offset="0.000" stop-color="#30ff50"/><stop offset="0.208" stop-color="#30ff50"/><stop offset="0.250" stop-color="#41ff46"/><stop offset="0.292" stop-color="#78ff28"/><stop offset="0.792" stop-color="#78ff28"/><stop offset="0.833" stop-color="#34ff4e"/><stop offset="0.875" stop-color="#30ff50"/><stop offset="1.000" stop-color="#30ff50"/></linearGradient><clipPath id="p10S1k5"><use href="#p10S1B" y="-2"/></clipPath><linearGradient id="p10g1" gradientUnits="userSpaceOnUse" x1="382" y1="0" x2="957" y2="0"><stop offset="0.000" stop-color="#30ff50"/><stop offset="0.208" stop-color="#30ff50"/><stop offset="0.250" stop-color="#41ff46"/><stop offset="0.292" stop-color="#c0ff00"/><stop offset="0.792" stop-color="#c0ff00"/><stop offset="0.833" stop-color="#34ff4e"/><stop offset="0.875" stop-color="#30ff50"/><stop offset="1.000" stop-color="#30ff50"/></linearGradient><clipPath id="p10S1k6"><use href="#p10S1B" y="-2.6"/></clipPath><linearGradient id="p10g2" gradientUnits="userSpaceOnUse" x1="382" y1="0" x2="957" y2="0"><stop offset="0.000" stop-color="#30ff50"/><stop offset="0.208" stop-color="#30ff50"/><stop offset="0.250" stop-color="#41ff46"/><stop offset="0.292" stop-color="#e0ff00"/><stop offset="0.792" stop-color="#e0ff00"/><stop offset="0.833" stop-color="#34ff4e"/><stop offset="0.875" stop-color="#30ff50"/><stop offset="1.000" stop-color="#30ff50"/></linearGradient><clipPath id="p10S1k7"><use href="#p10S1B" y="-3.5"/></clipPath><linearGradient id="p10g3" gradientUnits="userSpaceOnUse" x1="382" y1="0" x2="957" y2="0"><stop offset="0.000" stop-color="#30ff50"/><stop offset="0.208" stop-color="#30ff50"/><stop offset="0.250" stop-color="#41ff46"/><stop offset="0.292" stop-color="#fcff00"/><stop offset="0.333" stop-color="#ffff00"/><stop offset="0.792" stop-color="#ffff00"/><stop offset="0.833" stop-color="#34ff4e"/><stop offset="0.875" stop-color="#30ff50"/><stop offset="1.000" stop-color="#30ff50"/></linearGradient><clipPath id="p10S1k8"><use href="#p10S1B" y="-4.4"/></clipPath><linearGradient id="p10g4" gradientUnits="userSpaceOnUse" x1="382" y1="0" x2="957" y2="0"><stop offset="0.000" stop-color="#30ff50"/><stop offset="0.208" stop-color="#30ff50"/><stop offset="0.250" stop-color="#41ff46"/><stop offset="0.292" stop-color="#fcff00"/><stop offset="0.333" stop-color="#ffff00"/><stop offset="0.375" stop-color="#fffe00"/><stop offset="0.417" stop-color="#fffc00"/><stop offset="0.458" stop-color="#fffb00"/><stop offset="0.500" stop-color="#fff900"/><stop offset="0.542" stop-color="#fff700"/><stop offset="0.583" stop-color="#fff600"/><stop offset="0.625" stop-color="#fff600"/><stop offset="0.667" stop-color="#ffea00"/><stop offset="0.708" stop-color="#ffd000"/><stop offset="0.750" stop-color="#ffd000"/><stop offset="0.792" stop-color="#fff500"/><stop offset="0.833" stop-color="#34ff4e"/><stop offset="0.875" stop-color="#30ff50"/><stop offset="1.000" stop-color="#30ff50"/></linearGradient><clipPath id="p10S1k9"><use href="#p10S1B" y="-6.8"/></clipPath></defs><g clip-path="url(#p10c)"><rect x="382" y="1730" width="575" height="203" fill="url(#p10bg)"/><ellipse cx="662" cy="1796.7" rx="317.2" ry="4.6" fill="#003e9e" opacity="0.75" filter="url(#bl4)"/><path d="M530.6,1786.5 a6,6 0 1 1 0,12" fill="none" stroke="#00308f" stroke-width="2.2" opacity="0.8" filter="url(#bl1)"/><path d="M689.2,1794.2 a3.6,3.6 0 1 1 0,7.2" fill="none" stroke="#00308f" stroke-width="1.3" opacity="0.8" filter="url(#bl1)"/><ellipse cx="873.5" cy="1870" rx="70.5" ry="35.2" fill="#0070c4" opacity="0.5" filter="url(#bl14)"/><ellipse cx="891.1" cy="1898.2" rx="31.7" ry="10.6" fill="#10a0dc" opacity="0.6" filter="url(#bl8)"/><g filter="url(#bl3)"><use href="#p10S1" y="-30.6" fill="#0062b8" fill-opacity="0.35"/><use href="#p10S1" y="-21.6" fill="#0070c0" fill-opacity="0.45"/><use href="#p10S1" y="-13.5" fill="#0088d0" fill-opacity="0.6"/><use href="#p10S1" y="-7.2" fill="#00a8e0" fill-opacity="0.85"/><use href="#p10S1" y="-3" fill="#00c8ee" fill-opacity="1.0"/></g><g filter="url(#bl1)"><use href="#p10S1" y="0" fill="#00f0f8"/><g clip-path="url(#p10S1k1)"><use href="#p10S1" y="1.3" fill="#00f8d4"/></g><g clip-path="url(#p10S1k2)"><use href="#p10S1" y="2.7" fill="#00ffb0"/></g><g clip-path="url(#p10S1k3)"><use href="#p10S1" y="3.8" fill="#18ff80"/></g><g clip-path="url(#p10S1k4)"><use href="#p10S1" y="4.8" fill="#30ff50"/></g><g clip-path="url(#p10S1k5)"><use href="#p10S1" y="5.8" fill="url(#p10g0)"/></g><g clip-path="url(#p10S1k6)"><use href="#p10S1" y="6.9" fill="url(#p10g1)"/></g><g clip-path="url(#p10S1k7)"><use href="#p10S1" y="7.8" fill="url(#p10g2)"/></g><g clip-path="url(#p10S1k8)"><use href="#p10S1" y="8.6" fill="url(#p10g3)"/></g><g clip-path="url(#p10S1k9)"><use href="#p10S1" y="9.8" fill="url(#p10g4)"/></g></g><path d="M387,1908.8 L496.3,1908.8" fill="none" stroke="#000a80" stroke-width="3.2" stroke-linecap="round" opacity="1.0" filter="url(#bl1)"/><path d="M880.5,1909.5 L951,1909.5" fill="none" stroke="#000a80" stroke-width="3.2" stroke-linecap="round" opacity="1.0" filter="url(#bl1)"/><path d="M382,1910.6 L380,1910.6 L958.1,1911.3 L957,1911.3 L957,1933 L382,1933 Z" fill="#0052ae"/></g>
<defs><clipPath id="p11c"><rect x="984" y="1730" width="575" height="203"/></clipPath><linearGradient id="p11bg" x1="0" y1="0" x2="0" y2="1"><stop offset="0" stop-color="#0052ae"/><stop offset="0.5" stop-color="#0056b2"/><stop offset="1" stop-color="#0064bc"/></linearGradient><path id="p11S1" d="M1050.5,2001l4,-11.4l4,-12.5l4,-12.9l4,-12.9l4,-12.3l4,-11.3l4,-9.7l4,-7.7l4,-5.1l4,-4l4,-2.6l4,-0.4l4,0l4,0l4,0.3l4,0.7l4,0.7l4,-0.1l4,-1.9l4,-2.6l4,-2.1l4,-2.2l4,-2l4,-1.8l4,-1.3l4,-1.1l4,-1.1l4,-0.9l4,-0.7l4,-0.5l4,-0.3l4,-0.2l4,-0.1l4,-0.1l4,-0.1l4,-0.1l4,-0.1l4,-0.1l4,-0.1l4,0l4,-0.1l4,0l4,0l4,0l4,0l4,0l4,0.1l4,0.1l4,0.1l4,0.1l4,0.2l4,0.1l4,0.2l4,0.1l4,0.2l4,0.1l4,0.1l4,0.1l4,0.1l4,0.1l4,0l4,0l4,0l4,0l4,0l4,-0.1l4,0l4,0l4,-0.1l4,-0.1l4,0l4,-0.1l4,-0.1l4,-0.1l4,0l4,-0.1l4,-0.1l4,-0.1l4,-0.1l4,-0.1l4,-0.1l4,-0.1l4,-0.2l4,-0.2l4,-0.1l4,-0.2l4,-0.2l4,-0.2l4,-0.3l4,-0.2l4,-0.2l4,-0.3l4,-0.2l4,-0.2l4,-0.3l4,-0.2l4,-0.3l4,-0.2l4,-0.3l4,-0.2l4,-0.3l4,-0.3l4,-0.3l4,-0.3l4,-0.3l4,-0.3l4,-0.3l4,-0.3l4,-0.3l4,-0.4l4,-0.3l4,-0.3l4,-0.3l4,-0.4l4,-0.3l4,-0.3l4,-0.3l4,-0.4l4,-0.3l4,-0.4l4,-0.3l4,-0.4l4,-0.3l4,-0.4l4,-0.3l4,-0.4l1.5,-0.1V2193H1050.5Z"/><path id="p11S1B" d="M1030.5,1909.5l20,0l4,0l4,0l4,0l4,0l4,0l4,0l4,0l4,0l4,0l4,0l4,0l4,-0.1l4,0l4,0l4,0l4,0l4,0l4,0l4,0l4,0l4,0l4,0l4,0l4,0l4,0l4,0l4,0l4,0l4,0l4,0l4,0l4,0l4,0l4,0l4,0l4,0l4,0l4,0l4,0l4,0l4,0l4,0l4,0l4,0l4,0l4,0l4,0l4,0l4,0l4,0l4,0l4,0l4,-0.1l4,0l4,0l4,0l4,0l4,0l4,0l4,0l4,0l4,0l4,0l4,0l4,0l4,0l4,0l4,0l4,0l4,0l4,0l4,0l4,0l4,0l4,0l4,0l4,0l4,0l4,0l4,0l4,0l4,0l4,0l4,0l4,0l4,0l4,0l4,0l4,0l4,0l4,0l4,0l4,0l4,-0.1l4,0l4,0l4,0l4,0l4,0l4,0l4,0l4,0l4,0l4,0l4,0l4,0l4,0l4,0l4,0l4,0l4,0l4,0l4,0l4,0l4,0l4,0l4,0l4,0l4,0l4,0l4,0l4,0l4,0l4,0l4,0l4,0l1.5,0l20,0V1430H1030.5Z"/><clipPath id="p11S1k1"><use href="#p11S1B" y="-0.1"/></clipPath><clipPath id="p11S1k2"><use href="#p11S1B" y="-0.1"/></clipPath><clipPath id="p11S1k3"><use href="#p11S1B" y="-0.3"/></clipPath><clipPath id="p11S1k4"><use href="#p11S1B" y="-0.4"/></clipPath><clipPath id="p11S1k5"><use href="#p11S1B" y="-0.6"/></clipPath><clipPath id="p11S1k6"><use href="#p11S1B" y="-0.8"/></clipPath><clipPath id="p11S1k7"><use href="#p11S1B" y="-1.1"/></clipPath><clipPath id="p11S1k8"><use href="#p11S1B" y="-1.4"/></clipPath><linearGradient id="p11g0" gradientUnits="userSpaceOnUse" x1="984" y1="0" x2="1559" y2="0"><stop offset="0.000" stop-color="#ffff00"/><stop offset="0.208" stop-color="#ffff00"/><stop offset="0.250" stop-color="#ffd000"/><stop offset="1.000" stop-color="#ffd000"/></linearGradient><clipPath id="p11S1k9"><use href="#p11S1B" y="-2.1"/></clipPath><linearGradient id="p11g1" gradientUnits="userSpaceOnUse" x1="984" y1="0" x2="1559" y2="0"><stop offset="0.000" stop-color="#ffff00"/><stop offset="0.208" stop-color="#ffff00"/><stop offset="0.250" stop-color="#ffbd00"/><stop offset="0.292" stop-color="#ffa900"/><stop offset="0.333" stop-color="#ffa600"/><stop offset="0.375" stop-color="#ffa000"/><stop offset="1.000" stop-color="#ffa000"/></linearGradient><clipPath id="p11S1k10"><use href="#p11S1B" y="-2.8"/></clipPath><linearGradient id="p11g2" gradientUnits="userSpaceOnUse" x1="984" y1="0" x2="1559" y2="0"><stop offset="0.000" stop-color="#ffff00"/><stop offset="0.208" stop-color="#ffff00"/><stop offset="0.250" stop-color="#ffbd00"/><stop offset="0.292" stop-color="#ffa900"/><stop offset="0.333" stop-color="#ffa600"/><stop offset="0.375" stop-color="#ffa000"/><stop offset="0.417" stop-color="#ff9900"/><stop offset="0.458" stop-color="#ff9100"/><stop offset="0.500" stop-color="#ff8c00"/><stop offset="0.542" stop-color="#ff8a00"/><stop offset="0.583" stop-color="#ff8300"/><stop offset="0.625" stop-color="#ff7200"/><stop offset="0.667" stop-color="#ff6800"/><stop offset="1.000" stop-color="#ff6800"/></linearGradient><clipPath id="p11S1k11"><use href="#p11S1B" y="-3.4"/></clipPath><linearGradient id="p11g3" gradientUnits="userSpaceOnUse" x1="984" y1="0" x2="1559" y2="0"><stop offset="0.000" stop-color="#ffff00"/><stop offset="0.208" stop-color="#ffff00"/><stop offset="0.250" stop-color="#ffbd00"/><stop offset="0.292" stop-color="#ffa900"/><stop offset="0.333" stop-color="#ffa600"/><stop offset="0.375" stop-color="#ffa000"/><stop offset="0.417" stop-color="#ff9900"/><stop offset="0.458" stop-color="#ff9100"/><stop offset="0.500" stop-color="#ff8c00"/><stop offset="0.542" stop-color="#ff8a00"/><stop offset="0.583" stop-color="#ff8300"/><stop offset="0.625" stop-color="#ff7200"/><stop offset="0.667" stop-color="#ff6200"/><stop offset="0.708" stop-color="#ff5c00"/><stop offset="0.750" stop-color="#ff4800"/><stop offset="0.792" stop-color="#ff3000"/><stop offset="1.000" stop-color="#ff3000"/></linearGradient><clipPath id="p11S1k12"><use href="#p11S1B" y="-4"/></clipPath><linearGradient id="p11g4" gradientUnits="userSpaceOnUse" x1="984" y1="0" x2="1559" y2="0"><stop offset="0.000" stop-color="#ffff00"/><stop offset="0.208" stop-color="#ffff00"/><stop offset="0.250" stop-color="#ffbd00"/><stop offset="0.292" stop-color="#ffa900"/><stop offset="0.333" stop-color="#ffa600"/><stop offset="0.375" stop-color="#ffa000"/><stop offset="0.417" stop-color="#ff9900"/><stop offset="0.458" stop-color="#ff9100"/><stop offset="0.500" stop-color="#ff8c00"/><stop offset="0.542" stop-color="#ff8a00"/><stop offset="0.583" stop-color="#ff8300"/><stop offset="0.625" stop-color="#ff7200"/><stop offset="0.667" stop-color="#ff6200"/><stop offset="0.708" stop-color="#ff5c00"/><stop offset="0.750" stop-color="#ff4800"/><stop offset="0.792" stop-color="#ff2d00"/><stop offset="0.833" stop-color="#ff2300"/><stop offset="0.875" stop-color="#ff1f00"/><stop offset="0.917" stop-color="#ff1800"/><stop offset="1.000" stop-color="#ff1800"/></linearGradient><clipPath id="p11S1k13"><use href="#p11S1B" y="-4.6"/></clipPath></defs><g clip-path="url(#p11c)"><rect x="984" y="1730" width="575" height="203" fill="url(#p11bg)"/><ellipse cx="1262" cy="1796.7" rx="317.2" ry="4.6" fill="#003e9e" opacity="0.75" filter="url(#bl4)"/><path d="M1130.6,1786.5 a6,6 0 1 1 0,12" fill="none" stroke="#00308f" stroke-width="2.2" opacity="0.8" filter="url(#bl1)"/><path d="M1289.2,1794.2 a3.6,3.6 0 1 1 0,7.2" fill="none" stroke="#00308f" stroke-width="1.3" opacity="0.8" filter="url(#bl1)"/><g filter="url(#bl6_5)"><use href="#p11S1" y="-61.2" fill="#0062b8" fill-opacity="0.35"/><use href="#p11S1" y="-43.2" fill="#0070c0" fill-opacity="0.45"/><use href="#p11S1" y="-27" fill="#0088d0" fill-opacity="0.6"/><use href="#p11S1" y="-14.4" fill="#00a8e0" fill-opacity="0.85"/><use href="#p11S1" y="-3" fill="#00c8ee" fill-opacity="1.0"/></g><g filter="url(#bl1)"><path d="M1050.5,2001l8,-23.9l8,-25.8l8,-23.6l8,-17.4l8,-9.1l8,-3l8,0l8,1l8,0.6l8,-4.5l8,-4.3l8,-3.8l8,-2.4l8,-2l8,-1.2l8,-0.5l8,-0.2l8,-0.2l8,-0.2l8,-0.1l8,-0.1l8,0l8,0l8,0.2l8,0.2l8,0.3l8,0.3l8,0.3l8,0.2l8,0.2l8,0l8,0l8,-0.1l8,0l8,-0.2l8,-0.1l8,-0.2l8,-0.1l8,-0.2l8,-0.2l8,-0.2l8,-0.4l8,-0.3l8,-0.4l8,-0.5l8,-0.5l8,-0.4l8,-0.5l8,-0.5l8,-0.5l8,-0.6l8,-0.6l8,-0.6l8,-0.6l8,-0.7l8,-0.6l8,-0.7l8,-0.6l8,-0.7l8,-0.7l8,-0.7l8,-0.7l8,-0.7l1.5,-0.1V2193H1050.5Z" fill="#00f0f8"/><g clip-path="url(#p11S1k1)"><path d="M1050.5,2002.2l8,-23.9l8,-25.8l8,-23.7l8,-17.3l8,-9.2l8,-2.9l8,0l8,1l8,0.5l8,-4.4l8,-4.2l8,-3.8l8,-2.3l8,-1.9l8,-1.2l8,-0.4l8,-0.2l8,-0.2l8,-0.2l8,-0.1l8,0l8,0l8,0.1l8,0.2l8,0.2l8,0.3l8,0.3l8,0.3l8,0.2l8,0.2l8,0l8,0l8,0l8,-0.1l8,-0.1l8,-0.1l8,-0.2l8,-0.1l8,-0.2l8,-0.2l8,-0.2l8,-0.3l8,-0.4l8,-0.4l8,-0.4l8,-0.5l8,-0.4l8,-0.5l8,-0.5l8,-0.5l8,-0.5l8,-0.6l8,-0.6l8,-0.6l8,-0.7l8,-0.6l8,-0.6l8,-0.7l8,-0.7l8,-0.6l8,-0.7l8,-0.7l8,-0.7l1.5,-0.2V2193H1050.5Z" fill="#00f8d4"/></g><g clip-path="url(#p11S1k2)"><path d="M1050.5,2003.3l8,-23.9l8,-25.8l8,-23.6l8,-17.4l8,-9.1l8,-3l8,0l8,1l8,0.6l8,-4.5l8,-4.1l8,-3.6l8,-2.3l8,-1.7l8,-1.2l8,-0.4l8,-0.2l8,-0.2l8,-0.2l8,0l8,0l8,0l8,0.1l8,0.2l8,0.3l8,0.3l8,0.3l8,0.3l8,0.2l8,0.2l8,0.1l8,-0.1l8,0l8,-0.1l8,-0.1l8,-0.1l8,-0.1l8,-0.2l8,-0.1l8,-0.2l8,-0.2l8,-0.3l8,-0.3l8,-0.4l8,-0.4l8,-0.5l8,-0.4l8,-0.5l8,-0.4l8,-0.5l8,-0.6l8,-0.5l8,-0.6l8,-0.6l8,-0.7l8,-0.6l8,-0.6l8,-0.7l8,-0.6l8,-0.7l8,-0.7l8,-0.7l8,-0.7l1.5,-0.1V2193H1050.5Z" fill="#00ffb0"/></g><g clip-path="url(#p11S1k3)"><path d="M1050.5,2004.2l8,-23.9l8,-25.8l8,-23.7l8,-17.3l8,-9.2l8,-2.9l8,0l8,1l8,0.5l8,-4.4l8,-4l8,-3.6l8,-2.1l8,-1.8l8,-1.1l8,-0.4l8,-0.2l8,-0.2l8,-0.1l8,0l8,0l8,0l8,0.2l8,0.2l8,0.3l8,0.3l8,0.3l8,0.3l8,0.2l8,0.2l8,0.1l8,0l8,-0.1l8,0l8,-0.1l8,-0.1l8,-0.2l8,-0.1l8,-0.1l8,-0.2l8,-0.2l8,-0.3l8,-0.3l8,-0.4l8,-0.4l8,-0.4l8,-0.5l8,-0.4l8,-0.5l8,-0.4l8,-0.6l8,-0.5l8,-0.6l8,-0.6l8,-0.6l8,-0.6l8,-0.7l8,-0.6l8,-0.7l8,-0.6l8,-0.7l8,-0.7l8,-0.7l1.5,-0.2V2193H1050.5Z" fill="#18ff80"/></g><g clip-path="url(#p11S1k4)"><path d="M1050.5,2005l8,-23.9l8,-25.8l8,-23.6l8,-17.4l8,-9.1l8,-3l8,0l8,1l8,0.6l8,-4.4l8,-3.9l8,-3.6l8,-2l8,-1.7l8,-1.1l8,-0.3l8,-0.3l8,-0.1l8,-0.1l8,0l8,0l8,0.1l8,0.1l8,0.3l8,0.3l8,0.3l8,0.3l8,0.3l8,0.2l8,0.2l8,0.1l8,0l8,0l8,-0.1l8,-0.1l8,-0.1l8,-0.1l8,-0.1l8,-0.2l8,-0.1l8,-0.2l8,-0.3l8,-0.3l8,-0.3l8,-0.4l8,-0.5l8,-0.4l8,-0.4l8,-0.5l8,-0.4l8,-0.6l8,-0.5l8,-0.6l8,-0.6l8,-0.6l8,-0.6l8,-0.6l8,-0.6l8,-0.7l8,-0.7l8,-0.7l8,-0.7l8,-0.7l1.5,-0.1V2193H1050.5Z" fill="#30ff50"/></g><g clip-path="url(#p11S1k5)"><path d="M1050.5,2005.9l8,-23.9l8,-25.8l8,-23.6l8,-17.4l8,-9.1l8,-3l8,0l8,1l8,0.6l8,-4.4l8,-3.9l8,-3.4l8,-2l8,-1.6l8,-1l8,-0.4l8,-0.2l8,-0.2l8,0l8,0l8,0l8,0.1l8,0.2l8,0.3l8,0.3l8,0.3l8,0.3l8,0.3l8,0.3l8,0.1l8,0.1l8,0l8,0l8,-0.1l8,0l8,-0.1l8,-0.1l8,-0.2l8,-0.1l8,-0.1l8,-0.2l8,-0.3l8,-0.3l8,-0.3l8,-0.4l8,-0.4l8,-0.4l8,-0.5l8,-0.4l8,-0.5l8,-0.5l8,-0.5l8,-0.6l8,-0.5l8,-0.6l8,-0.7l8,-0.6l8,-0.6l8,-0.6l8,-0.7l8,-0.7l8,-0.7l8,-0.7l1.5,-0.1V2193H1050.5Z" fill="#78ff28"/></g><g clip-path="url(#p11S1k6)"><path d="M1050.5,2006.8l8,-23.9l8,-25.8l8,-23.6l8,-17.4l8,-9.1l8,-3l8,0l8,1l8,0.6l8,-4.4l8,-3.8l8,-3.4l8,-1.9l8,-1.5l8,-1l8,-0.4l8,-0.2l8,-0.1l8,-0.1l8,0l8,0.1l8,0.2l8,0.2l8,0.2l8,0.4l8,0.3l8,0.3l8,0.3l8,0.3l8,0.1l8,0.1l8,0l8,0l8,0l8,-0.1l8,-0.1l8,-0.1l8,-0.1l8,-0.1l8,-0.1l8,-0.2l8,-0.2l8,-0.3l8,-0.4l8,-0.4l8,-0.4l8,-0.4l8,-0.4l8,-0.4l8,-0.5l8,-0.5l8,-0.5l8,-0.5l8,-0.6l8,-0.6l8,-0.6l8,-0.6l8,-0.6l8,-0.7l8,-0.7l8,-0.6l8,-0.7l8,-0.7l1.5,-0.2V2193H1050.5Z" fill="#c0ff00"/></g><g clip-path="url(#p11S1k7)"><path d="M1050.5,2007.5l8,-23.9l8,-25.8l8,-23.6l8,-17.4l8,-9.1l8,-3l8,0l8,1l8,0.6l8,-4.3l8,-3.8l8,-3.3l8,-1.9l8,-1.4l8,-1l8,-0.4l8,-0.2l8,-0.1l8,0l8,0l8,0.1l8,0.2l8,0.2l8,0.3l8,0.3l8,0.4l8,0.3l8,0.3l8,0.2l8,0.2l8,0.1l8,0l8,0l8,-0.1l8,0l8,-0.1l8,-0.1l8,-0.1l8,-0.1l8,-0.1l8,-0.2l8,-0.2l8,-0.3l8,-0.3l8,-0.4l8,-0.4l8,-0.4l8,-0.4l8,-0.4l8,-0.4l8,-0.5l8,-0.5l8,-0.6l8,-0.6l8,-0.5l8,-0.6l8,-0.7l8,-0.6l8,-0.6l8,-0.7l8,-0.7l8,-0.7l8,-0.7l1.5,-0.1V2193H1050.5Z" fill="#e0ff00"/></g><g clip-path="url(#p11S1k8)"><path d="M1050.5,2008.2l8,-23.9l8,-25.8l8,-23.6l8,-17.4l8,-9.1l8,-3l8,0l8,1l8,0.6l8,-4.3l8,-3.7l8,-3.3l8,-1.7l8,-1.4l8,-1l8,-0.4l8,-0.2l8,-0.1l8,0l8,0.1l8,0.1l8,0.2l8,0.2l8,0.3l8,0.4l8,0.3l8,0.3l8,0.3l8,0.3l8,0.2l8,0l8,0.1l8,0l8,-0.1l8,0l8,-0.1l8,-0.1l8,-0.1l8,-0.1l8,-0.1l8,-0.1l8,-0.2l8,-0.3l8,-0.3l8,-0.4l8,-0.4l8,-0.4l8,-0.4l8,-0.4l8,-0.4l8,-0.5l8,-0.5l8,-0.5l8,-0.6l8,-0.6l8,-0.6l8,-0.6l8,-0.6l8,-0.6l8,-0.7l8,-0.7l8,-0.7l8,-0.7l1.5,-0.1V2193H1050.5Z" fill="#ffff00"/></g><g clip-path="url(#p11S1k9)"><path d="M1050.5,2009.2l8,-23.9l8,-25.8l8,-23.6l8,-17.4l8,-9.1l8,-3l8,0l8,1l8,0.6l8,-4.3l8,-3.7l8,-3.1l8,-1.7l8,-1.4l8,-0.9l8,-0.3l8,-0.2l8,-0.1l8,0l8,0.1l8,0.1l8,0.2l8,0.3l8,0.3l8,0.4l8,0.3l8,0.4l8,0.3l8,0.2l8,0.2l8,0.1l8,0l8,0l8,0l8,-0.1l8,0l8,-0.1l8,-0.1l8,-0.1l8,-0.1l8,-0.1l8,-0.2l8,-0.3l8,-0.3l8,-0.3l8,-0.4l8,-0.4l8,-0.4l8,-0.4l8,-0.4l8,-0.5l8,-0.5l8,-0.5l8,-0.5l8,-0.6l8,-0.6l8,-0.6l8,-0.6l8,-0.6l8,-0.7l8,-0.7l8,-0.7l8,-0.7l1.5,-0.1V2193H1050.5Z" fill="url(#p11g0)"/></g><g clip-path="url(#p11S1k10)"><path d="M1050.5,2010.1l8,-23.9l8,-25.8l8,-23.6l8,-17.4l8,-9.1l8,-3l8,0l8,1l8,0.6l8,-4.2l8,-3.6l8,-3.1l8,-1.6l8,-1.3l8,-0.8l8,-0.4l8,-0.2l8,-0.1l8,0.1l8,0.1l8,0.2l8,0.2l8,0.3l8,0.3l8,0.4l8,0.4l8,0.3l8,0.3l8,0.2l8,0.2l8,0.1l8,0l8,0.1l8,-0.1l8,0l8,0l8,-0.1l8,-0.1l8,-0.1l8,0l8,-0.2l8,-0.2l8,-0.2l8,-0.3l8,-0.4l8,-0.3l8,-0.4l8,-0.4l8,-0.3l8,-0.5l8,-0.4l8,-0.5l8,-0.5l8,-0.6l8,-0.5l8,-0.6l8,-0.6l8,-0.6l8,-0.6l8,-0.7l8,-0.7l8,-0.7l8,-0.7l1.5,-0.1V2193H1050.5Z" fill="url(#p11g1)"/></g><g clip-path="url(#p11S1k11)"><path d="M1050.5,2010.9l8,-23.9l8,-25.8l8,-23.7l8,-17.3l8,-9.2l8,-2.9l8,0l8,1l8,0.5l8,-4.1l8,-3.6l8,-3l8,-1.6l8,-1.2l8,-0.8l8,-0.4l8,-0.2l8,0l8,0l8,0.2l8,0.1l8,0.3l8,0.3l8,0.4l8,0.4l8,0.3l8,0.3l8,0.3l8,0.3l8,0.2l8,0.1l8,0l8,0l8,0l8,0l8,-0.1l8,0l8,-0.1l8,0l8,-0.1l8,-0.1l8,-0.2l8,-0.3l8,-0.3l8,-0.3l8,-0.3l8,-0.4l8,-0.3l8,-0.4l8,-0.4l8,-0.5l8,-0.5l8,-0.5l8,-0.5l8,-0.6l8,-0.6l8,-0.5l8,-0.6l8,-0.7l8,-0.6l8,-0.7l8,-0.7l8,-0.7l1.5,-0.1V2193H1050.5Z" fill="url(#p11g2)"/></g><g clip-path="url(#p11S1k12)"><path d="M1050.5,2011.6l8,-23.9l8,-25.8l8,-23.6l8,-17.4l8,-9.1l8,-3l8,0l8,1l8,0.6l8,-4.2l8,-3.5l8,-3l8,-1.5l8,-1.1l8,-0.8l8,-0.4l8,-0.1l8,-0.1l8,0.1l8,0.1l8,0.2l8,0.3l8,0.3l8,0.4l8,0.4l8,0.4l8,0.3l8,0.3l8,0.3l8,0.2l8,0.1l8,0l8,0l8,0l8,0l8,-0.1l8,0l8,-0.1l8,0l8,-0.1l8,-0.1l8,-0.2l8,-0.2l8,-0.3l8,-0.3l8,-0.3l8,-0.4l8,-0.3l8,-0.4l8,-0.4l8,-0.4l8,-0.5l8,-0.5l8,-0.6l8,-0.5l8,-0.6l8,-0.6l8,-0.6l8,-0.6l8,-0.6l8,-0.7l8,-0.7l8,-0.7l1.5,-0.1V2193H1050.5Z" fill="url(#p11g3)"/></g><g clip-path="url(#p11S1k13)"><path d="M1050.5,2012.3l8,-23.9l8,-25.8l8,-23.6l8,-17.4l8,-9.1l8,-3l8,0l8,1l8,0.6l8,-4.1l8,-3.5l8,-2.9l8,-1.4l8,-1.1l8,-0.8l8,-0.4l8,-0.1l8,0l8,0l8,0.2l8,0.2l8,0.3l8,0.3l8,0.4l8,0.5l8,0.3l8,0.4l8,0.3l8,0.2l8,0.2l8,0.1l8,0.1l8,0l8,0l8,0l8,-0.1l8,0l8,0l8,-0.1l8,0l8,-0.2l8,-0.1l8,-0.2l8,-0.3l8,-0.3l8,-0.3l8,-0.4l8,-0.3l8,-0.4l8,-0.4l8,-0.4l8,-0.5l8,-0.5l8,-0.5l8,-0.6l8,-0.5l8,-0.6l8,-0.6l8,-0.6l8,-0.7l8,-0.6l8,-0.7l8,-0.7l1.5,-0.2V2193H1050.5Z" fill="url(#p11g4)"/></g></g><path d="M987,1908.1 L1078.7,1908.1" fill="none" stroke="#003090" stroke-width="2.1" stroke-linecap="round" opacity="1.0" filter="url(#bl1)"/><path d="M984,1910.6 L980,1910.6 L1558.1,1911.3 L1559,1911.3 L1559,1933 L984,1933 Z" fill="#0052ae"/></g>
<defs><clipPath id="p12c"><rect x="1586" y="1730" width="574" height="203"/></clipPath><linearGradient id="p12bg" x1="0" y1="0" x2="0" y2="1"><stop offset="0" stop-color="#0052ae"/><stop offset="0.5" stop-color="#0058b4"/><stop offset="1" stop-color="#0068c0"/></linearGradient><path id="p12S1" d="M1611.7,2010.1l4,-7.5l4,-8.2l4,-8.7l4,-8.9l4,-9.1l4,-9l4,-8.8l4,-8.3l4,-7.9l4,-7l4,-6.2l4,-5l4,-3.8l4,-2.4l4,-1.2l4,-0.9l4,-0.7l4,-0.9l4,-1l4,-0.9l4,-1l4,-1l4,-1.1l4,-1.1l4,-1.2l4,-1.2l4,-1.3l4,-1.3l4,-1.3l4,-1.5l4,-1.3l4,-1.3l4,-1.1l4,-1.1l4,-0.9l4,-0.8l4,-0.7l4,-0.7l4,-0.6l4,-0.6l4,-0.6l4,-0.5l4,-0.5l4,-0.4l4,-0.3l4,-0.3l4,-0.3l4,-0.3l4,-0.2l4,-0.2l4,-0.2l4,-0.2l4,-0.2l4,-0.2l4,-0.2l4,-0.1l4,-0.2l4,-0.2l4,-0.2l4,-0.1l4,-0.2l4,-0.2l4,-0.2l4,-0.2l4,-0.2l4,-0.2l4,-0.2l4,-0.2l4,-0.2l4,-0.2l4,-0.2l4,-0.2l4,-0.2l4,-0.2l4,-0.3l4,-0.2l4,-0.2l4,-0.2l4,-0.2l4,-0.2l4,-0.3l4,-0.2l4,-0.2l4,-0.3l4,-0.2l4,-0.3l4,-0.2l4,-0.2l4,-0.3l4,-0.2l4,-0.3l4,-0.3l4,-0.2l4,-0.3l4,-0.2l4,-0.3l4,-0.3l4,-0.2l4,-0.3l4,-0.3l4,-0.3l4,-0.3l4,-0.3l4,-0.3l4,-0.2l4,-0.3l4,-0.3l4,-0.3l4,-0.3l4,-0.3l4,-0.3l4,-0.3l4,-0.3l4,-0.3l4,-0.2l4,-0.3l4,-0.3l4,-0.3l4,-0.3l4,-0.2l4,-0.3l4,-0.3l4,-0.3l4,-0.2l4,-0.3l4,-0.3l4,-0.3l4,-0.2l4,-0.3l4,-0.3l4,-0.3l4,-0.2l4,-0.3l4,-0.3l4,-0.3l4,-0.2l1.3,-0.1V2193H1611.7Z"/><path id="p12S1B" d="M1591.7,1909.5l20,0l4,0l4,0l4,0l4,0l4,0l4,0l4,0l4,0l4,0l4,0l4,0l4,0l4,0l4,0l4,0l4,0l4,0l4,0l4,0l4,0l4,0l4,0l4,0l4,0l4,0l4,0l4,0l4,0l4,0l4,0l4,0l4,0l4,0l4,0l4,0l4,0l4,0l4,0l4,0l4,0l4,0l4,0l4,0l4,0l4,0l4,0l4,0l4,0l4,0l4,0l4,0l4,0l4,0l4,0l4,0l4,0l4,0l4,0l4,0l4,0l4,0l4,0l4,0l4,0l4,0l4,0l4,0l4,0l4,0l4,0l4,0l4,0l4,0l4,0l4,0l4,0l4,0l4,0l4,0l4,0l4,0l4,0l4,0l4,0l4,0l4,0l4,0l4,0l4,0l4,0l4,0l4,0l4,0l4,0l4,0l4,0l4,0l4,0l4,0l4,0l4,0l4,0l4,0l4,0l4,0l4,0l4,0l4,0l4,0l4,0l4,0l4,0l4,0l4,0l4,0l4,0l4,0l4,0l4,0l4,0l4,0l4,0l4,0l4,0l4,0l4,0l4,0l4,0l4,0l4,0l4,0l4,0l4,0l4,0l4,0l4,0l1.3,0l20,0V1430H1591.7Z"/><clipPath id="p12S1k1"><use href="#p12S1B" y="-0.1"/></clipPath><clipPath id="p12S1k2"><use href="#p12S1B" y="-0.1"/></clipPath><clipPath id="p12S1k3"><use href="#p12S1B" y="-0.3"/></clipPath><clipPath id="p12S1k4"><use href="#p12S1B" y="-0.4"/></clipPath><clipPath id="p12S1k5"><use href="#p12S1B" y="-0.6"/></clipPath><clipPath id="p12S1k6"><use href="#p12S1B" y="-0.8"/></clipPath><clipPath id="p12S1k7"><use href="#p12S1B" y="-1.1"/></clipPath><clipPath id="p12S1k8"><use href="#p12S1B" y="-1.4"/></clipPath><clipPath id="p12S1k9"><use href="#p12S1B" y="-2.1"/></clipPath><linearGradient id="p12g0" gradientUnits="userSpaceOnUse" x1="1586" y1="0" x2="2160" y2="0"><stop offset="0.000" stop-color="#ffd000"/><stop offset="0.208" stop-color="#ffd000"/><stop offset="0.250" stop-color="#ffc100"/><stop offset="0.292" stop-color="#ffa100"/><stop offset="0.333" stop-color="#ffa000"/><stop offset="1.000" stop-color="#ffa000"/></linearGradient><clipPath id="p12S1k10"><use href="#p12S1B" y="-2.8"/></clipPath><linearGradient id="p12g1" gradientUnits="userSpaceOnUse" x1="1586" y1="0" x2="2160" y2="0"><stop offset="0.000" stop-color="#ffd000"/><stop offset="0.208" stop-color="#ffd000"/><stop offset="0.250" stop-color="#ffc100"/><stop offset="0.292" stop-color="#ffa100"/><stop offset="0.333" stop-color="#ff9d00"/><stop offset="0.375" stop-color="#ff9300"/><stop offset="0.417" stop-color="#ff8800"/><stop offset="0.458" stop-color="#ff8000"/><stop offset="0.500" stop-color="#ff7d00"/><stop offset="0.542" stop-color="#ff7000"/><stop offset="0.583" stop-color="#ff6800"/><stop offset="1.000" stop-color="#ff6800"/></linearGradient><clipPath id="p12S1k11"><use href="#p12S1B" y="-3.4"/></clipPath><linearGradient id="p12g2" gradientUnits="userSpaceOnUse" x1="1586" y1="0" x2="2160" y2="0"><stop offset="0.000" stop-color="#ffd000"/><stop offset="0.208" stop-color="#ffd000"/><stop offset="0.250" stop-color="#ffc100"/><stop offset="0.292" stop-color="#ffa100"/><stop offset="0.333" stop-color="#ff9d00"/><stop offset="0.375" stop-color="#ff9300"/><stop offset="0.417" stop-color="#ff8800"/><stop offset="0.458" stop-color="#ff8000"/><stop offset="0.500" stop-color="#ff7d00"/><stop offset="0.542" stop-color="#ff7000"/><stop offset="0.583" stop-color="#ff5e00"/><stop offset="0.625" stop-color="#ff4d00"/><stop offset="0.667" stop-color="#ff4600"/><stop offset="0.708" stop-color="#ff3700"/><stop offset="0.750" stop-color="#ff3000"/><stop offset="1.000" stop-color="#ff3000"/></linearGradient><clipPath id="p12S1k12"><use href="#p12S1B" y="-4"/></clipPath><linearGradient id="p12g3" gradientUnits="userSpaceOnUse" x1="1586" y1="0" x2="2160" y2="0"><stop offset="0.000" stop-color="#ffd000"/><stop offset="0.208" stop-color="#ffd000"/><stop offset="0.250" stop-color="#ffc100"/><stop offset="0.292" stop-color="#ffa100"/><stop offset="0.333" stop-color="#ff9d00"/><stop offset="0.375" stop-color="#ff9300"/><stop offset="0.417" stop-color="#ff8800"/><stop offset="0.458" stop-color="#ff8000"/><stop offset="0.500" stop-color="#ff7d00"/><stop offset="0.542" stop-color="#ff7000"/><stop offset="0.583" stop-color="#ff5e00"/><stop offset="0.625" stop-color="#ff4d00"/><stop offset="0.667" stop-color="#ff4600"/><stop offset="0.708" stop-color="#ff3700"/><stop offset="0.750" stop-color="#ff2600"/><stop offset="0.792" stop-color="#ff1b00"/><stop offset="0.833" stop-color="#ff1800"/><stop offset="1.000" stop-color="#ff1800"/></linearGradient><clipPath id="p12S1k13"><use href="#p12S1B" y="-4.6"/></clipPath><linearGradient id="p12g4" gradientUnits="userSpaceOnUse" x1="1586" y1="0" x2="2160" y2="0"><stop offset="0.000" stop-color="#ffd000"/><stop offset="0.208" stop-color="#ffd000"/><stop offset="0.250" stop-color="#ffc100"/><stop offset="0.292" stop-color="#ffa100"/><stop offset="0.333" stop-color="#ff9d00"/><stop offset="0.375" stop-color="#ff9300"/><stop offset="0.417" stop-color="#ff8800"/><stop offset="0.458" stop-color="#ff8000"/><stop offset="0.500" stop-color="#ff7d00"/><stop offset="0.542" stop-color="#ff7000"/><stop offset="0.583" stop-color="#ff5e00"/><stop offset="0.625" stop-color="#ff4d00"/><stop offset="0.667" stop-color="#ff4600"/><stop offset="0.708" stop-color="#ff3700"/><stop offset="0.750" stop-color="#ff2600"/><stop offset="0.792" stop-color="#ff1b00"/><stop offset="0.833" stop-color="#ff1700"/><stop offset="0.875" stop-color="#ff1100"/><stop offset="0.917" stop-color="#ff0700"/><stop offset="0.958" stop-color="#ff0100"/><stop offset="1.000" stop-color="#ff0000"/></linearGradient><clipPath id="p12S1k14"><use href="#p12S1B" y="-5.2"/></clipPath></defs><g clip-path="url(#p12c)"><rect x="1586" y="1730" width="574" height="203" fill="url(#p12bg)"/><ellipse cx="1862" cy="1796.7" rx="317.2" ry="4.6" fill="#003e9e" opacity="0.75" filter="url(#bl4)"/><path d="M1730.6,1786.5 a6,6 0 1 1 0,12" fill="none" stroke="#00308f" stroke-width="2.2" opacity="0.8" filter="url(#bl1)"/><path d="M1889.2,1794.2 a3.6,3.6 0 1 1 0,7.2" fill="none" stroke="#00308f" stroke-width="1.3" opacity="0.8" filter="url(#bl1)"/><g filter="url(#bl7)"><use href="#p12S1" y="-68" fill="#0062b8" fill-opacity="0.35"/><use href="#p12S1" y="-48" fill="#0070c0" fill-opacity="0.45"/><use href="#p12S1" y="-30" fill="#0088d0" fill-opacity="0.6"/><use href="#p12S1" y="-16" fill="#00a8e0" fill-opacity="0.85"/><use href="#p12S1" y="-3" fill="#00c8ee" fill-opacity="1.0"/></g><g filter="url(#bl1_5)"><path d="M1611.7,2010.1l8,-15.7l8,-17.6l8,-18.1l8,-17.1l8,-14.9l8,-11.2l8,-6.2l8,-2.1l8,-1.6l8,-1.9l8,-2l8,-2.2l8,-2.4l8,-2.6l8,-2.8l8,-2.6l8,-2.2l8,-1.7l8,-1.4l8,-1.2l8,-1.1l8,-0.9l8,-0.6l8,-0.6l8,-0.4l8,-0.4l8,-0.4l8,-0.3l8,-0.4l8,-0.3l8,-0.4l8,-0.4l8,-0.4l8,-0.4l8,-0.4l8,-0.4l8,-0.4l8,-0.5l8,-0.4l8,-0.4l8,-0.5l8,-0.5l8,-0.5l8,-0.4l8,-0.5l8,-0.6l8,-0.5l8,-0.5l8,-0.5l8,-0.6l8,-0.6l8,-0.6l8,-0.5l8,-0.6l8,-0.6l8,-0.6l8,-0.6l8,-0.5l8,-0.6l8,-0.5l8,-0.6l8,-0.5l8,-0.6l8,-0.5l8,-0.6l8,-0.5l8,-0.6l8,-0.5l1.3,-0.1V2193H1611.7Z" fill="#00f0f8"/><g clip-path="url(#p12S1k1)"><path d="M1611.7,2011.3l8,-15.7l8,-17.6l8,-18l8,-17.2l8,-14.9l8,-11.2l8,-6.1l8,-2.1l8,-1.7l8,-1.9l8,-2l8,-2.2l8,-2.4l8,-2.5l8,-2.8l8,-2.6l8,-2l8,-1.7l8,-1.3l8,-1.2l8,-1.1l8,-0.8l8,-0.7l8,-0.5l8,-0.4l8,-0.4l8,-0.3l8,-0.4l8,-0.3l8,-0.3l8,-0.4l8,-0.4l8,-0.4l8,-0.4l8,-0.4l8,-0.4l8,-0.4l8,-0.4l8,-0.4l8,-0.4l8,-0.5l8,-0.4l8,-0.5l8,-0.5l8,-0.5l8,-0.5l8,-0.5l8,-0.5l8,-0.5l8,-0.5l8,-0.6l8,-0.6l8,-0.5l8,-0.6l8,-0.6l8,-0.5l8,-0.6l8,-0.5l8,-0.6l8,-0.5l8,-0.6l8,-0.5l8,-0.5l8,-0.6l8,-0.5l8,-0.6l8,-0.5l8,-0.6l1.3,-0.1V2193H1611.7Z" fill="#00f8d4"/></g><g clip-path="url(#p12S1k2)"><path d="M1611.7,2012.6l8,-15.7l8,-17.6l8,-18.1l8,-17.2l8,-14.9l8,-11.2l8,-6.1l8,-2.1l8,-1.7l8,-1.9l8,-1.9l8,-2.2l8,-2.5l8,-2.5l8,-2.7l8,-2.5l8,-2l8,-1.6l8,-1.2l8,-1.2l8,-1.1l8,-0.8l8,-0.6l8,-0.5l8,-0.4l8,-0.4l8,-0.3l8,-0.3l8,-0.3l8,-0.3l8,-0.3l8,-0.4l8,-0.4l8,-0.4l8,-0.4l8,-0.4l8,-0.4l8,-0.4l8,-0.4l8,-0.4l8,-0.5l8,-0.4l8,-0.5l8,-0.4l8,-0.5l8,-0.5l8,-0.4l8,-0.5l8,-0.5l8,-0.6l8,-0.5l8,-0.6l8,-0.5l8,-0.6l8,-0.5l8,-0.6l8,-0.5l8,-0.5l8,-0.6l8,-0.5l8,-0.5l8,-0.6l8,-0.5l8,-0.5l8,-0.6l8,-0.5l8,-0.6l8,-0.5l1.3,-0.1V2193H1611.7Z" fill="#00ffb0"/></g><g clip-path="url(#p12S1k3)"><path d="M1611.7,2013.5l8,-15.7l8,-17.6l8,-18l8,-17.2l8,-14.9l8,-11.2l8,-6.1l8,-2.1l8,-1.7l8,-1.9l8,-2l8,-2.2l8,-2.4l8,-2.5l8,-2.7l8,-2.5l8,-1.9l8,-1.5l8,-1.2l8,-1.1l8,-1.1l8,-0.8l8,-0.6l8,-0.5l8,-0.4l8,-0.3l8,-0.3l8,-0.3l8,-0.2l8,-0.3l8,-0.4l8,-0.4l8,-0.4l8,-0.4l8,-0.4l8,-0.4l8,-0.3l8,-0.4l8,-0.4l8,-0.4l8,-0.5l8,-0.4l8,-0.4l8,-0.5l8,-0.4l8,-0.5l8,-0.5l8,-0.5l8,-0.5l8,-0.5l8,-0.5l8,-0.5l8,-0.6l8,-0.5l8,-0.6l8,-0.5l8,-0.5l8,-0.5l8,-0.6l8,-0.5l8,-0.5l8,-0.5l8,-0.6l8,-0.5l8,-0.5l8,-0.6l8,-0.5l8,-0.6l1.3,-0.1V2193H1611.7Z" fill="#18ff80"/></g><g clip-path="url(#p12S1k4)"><path d="M1611.7,2014.5l8,-15.7l8,-17.6l8,-18.1l8,-17.1l8,-14.9l8,-11.2l8,-6.2l8,-2.1l8,-1.6l8,-1.9l8,-2l8,-2.2l8,-2.4l8,-2.6l8,-2.6l8,-2.4l8,-1.9l8,-1.4l8,-1.2l8,-1.1l8,-1l8,-0.9l8,-0.5l8,-0.5l8,-0.4l8,-0.2l8,-0.3l8,-0.3l8,-0.2l8,-0.3l8,-0.4l8,-0.4l8,-0.4l8,-0.4l8,-0.3l8,-0.4l8,-0.4l8,-0.4l8,-0.4l8,-0.4l8,-0.4l8,-0.4l8,-0.4l8,-0.5l8,-0.4l8,-0.5l8,-0.4l8,-0.5l8,-0.5l8,-0.5l8,-0.5l8,-0.5l8,-0.5l8,-0.5l8,-0.6l8,-0.5l8,-0.5l8,-0.5l8,-0.6l8,-0.5l8,-0.5l8,-0.5l8,-0.5l8,-0.6l8,-0.5l8,-0.5l8,-0.6l8,-0.5l1.3,-0.1V2193H1611.7Z" fill="#30ff50"/></g><g clip-path="url(#p12S1k5)"><path d="M1611.7,2015.5l8,-15.8l8,-17.5l8,-18.1l8,-17.2l8,-14.9l8,-11.2l8,-6.1l8,-2.1l8,-1.7l8,-1.9l8,-2l8,-2.2l8,-2.4l8,-2.5l8,-2.6l8,-2.4l8,-1.8l8,-1.3l8,-1.1l8,-1.1l8,-1.1l8,-0.8l8,-0.6l8,-0.4l8,-0.3l8,-0.3l8,-0.2l8,-0.3l8,-0.2l8,-0.3l8,-0.3l8,-0.4l8,-0.4l8,-0.4l8,-0.4l8,-0.4l8,-0.3l8,-0.4l8,-0.4l8,-0.4l8,-0.4l8,-0.4l8,-0.4l8,-0.4l8,-0.5l8,-0.4l8,-0.4l8,-0.5l8,-0.5l8,-0.4l8,-0.5l8,-0.6l8,-0.5l8,-0.5l8,-0.5l8,-0.5l8,-0.5l8,-0.5l8,-0.5l8,-0.5l8,-0.6l8,-0.5l8,-0.5l8,-0.5l8,-0.5l8,-0.6l8,-0.5l8,-0.6l1.3,-0.1V2193H1611.7Z" fill="#78ff28"/></g><g clip-path="url(#p12S1k6)"><path d="M1611.7,2016.4l8,-15.7l8,-17.6l8,-18.1l8,-17.1l8,-14.9l8,-11.2l8,-6.2l8,-2l8,-1.7l8,-1.9l8,-2l8,-2.2l8,-2.4l8,-2.5l8,-2.6l8,-2.3l8,-1.7l8,-1.4l8,-1l8,-1.1l8,-1l8,-0.8l8,-0.6l8,-0.4l8,-0.3l8,-0.2l8,-0.3l8,-0.2l8,-0.2l8,-0.3l8,-0.3l8,-0.4l8,-0.4l8,-0.4l8,-0.3l8,-0.4l8,-0.4l8,-0.3l8,-0.4l8,-0.4l8,-0.4l8,-0.4l8,-0.4l8,-0.4l8,-0.4l8,-0.4l8,-0.5l8,-0.4l8,-0.5l8,-0.4l8,-0.5l8,-0.5l8,-0.5l8,-0.5l8,-0.5l8,-0.5l8,-0.5l8,-0.5l8,-0.5l8,-0.5l8,-0.5l8,-0.5l8,-0.5l8,-0.6l8,-0.5l8,-0.5l8,-0.6l8,-0.5l1.3,-0.1V2193H1611.7Z" fill="#c0ff00"/></g><g clip-path="url(#p12S1k7)"><path d="M1611.7,2017.2l8,-15.7l8,-17.6l8,-18.1l8,-17.1l8,-14.9l8,-11.2l8,-6.2l8,-2l8,-1.7l8,-1.9l8,-2l8,-2.2l8,-2.4l8,-2.5l8,-2.6l8,-2.3l8,-1.6l8,-1.3l8,-1l8,-1l8,-1.1l8,-0.8l8,-0.5l8,-0.4l8,-0.3l8,-0.2l8,-0.2l8,-0.2l8,-0.2l8,-0.3l8,-0.3l8,-0.4l8,-0.4l8,-0.4l8,-0.3l8,-0.4l8,-0.4l8,-0.3l8,-0.4l8,-0.4l8,-0.3l8,-0.4l8,-0.4l8,-0.4l8,-0.4l8,-0.5l8,-0.4l8,-0.4l8,-0.5l8,-0.4l8,-0.5l8,-0.5l8,-0.5l8,-0.5l8,-0.5l8,-0.4l8,-0.5l8,-0.5l8,-0.5l8,-0.5l8,-0.5l8,-0.5l8,-0.5l8,-0.5l8,-0.5l8,-0.6l8,-0.5l8,-0.6l1.3,-0.1V2193H1611.7Z" fill="#e0ff00"/></g><g clip-path="url(#p12S1k8)"><path d="M1611.7,2018l8,-15.7l8,-17.6l8,-18.1l8,-17.1l8,-14.9l8,-11.2l8,-6.2l8,-2l8,-1.7l8,-1.9l8,-2l8,-2.2l8,-2.4l8,-2.5l8,-2.6l8,-2.2l8,-1.6l8,-1.2l8,-0.9l8,-1.1l8,-1l8,-0.8l8,-0.5l8,-0.4l8,-0.3l8,-0.2l8,-0.2l8,-0.1l8,-0.2l8,-0.3l8,-0.3l8,-0.4l8,-0.4l8,-0.4l8,-0.3l8,-0.4l8,-0.4l8,-0.3l8,-0.4l8,-0.3l8,-0.4l8,-0.4l8,-0.4l8,-0.4l8,-0.4l8,-0.4l8,-0.4l8,-0.4l8,-0.4l8,-0.5l8,-0.4l8,-0.5l8,-0.5l8,-0.5l8,-0.5l8,-0.5l8,-0.4l8,-0.5l8,-0.5l8,-0.5l8,-0.5l8,-0.5l8,-0.5l8,-0.5l8,-0.5l8,-0.5l8,-0.6l8,-0.5l1.3,-0.1V2193H1611.7Z" fill="#ffff00"/></g><g clip-path="url(#p12S1k9)"><path d="M1611.7,2019.1l8,-15.8l8,-17.5l8,-18.1l8,-17.2l8,-14.9l8,-11.2l8,-6.1l8,-2.1l8,-1.7l8,-1.9l8,-2l8,-2.2l8,-2.4l8,-2.5l8,-2.5l8,-2.2l8,-1.5l8,-1.1l8,-0.9l8,-1l8,-1l8,-0.8l8,-0.5l8,-0.4l8,-0.2l8,-0.2l8,-0.2l8,-0.1l8,-0.2l8,-0.2l8,-0.4l8,-0.4l8,-0.4l8,-0.3l8,-0.4l8,-0.3l8,-0.4l8,-0.3l8,-0.4l8,-0.3l8,-0.4l8,-0.4l8,-0.3l8,-0.4l8,-0.4l8,-0.4l8,-0.4l8,-0.4l8,-0.4l8,-0.4l8,-0.5l8,-0.4l8,-0.5l8,-0.5l8,-0.5l8,-0.4l8,-0.5l8,-0.5l8,-0.4l8,-0.5l8,-0.5l8,-0.5l8,-0.5l8,-0.5l8,-0.5l8,-0.5l8,-0.6l8,-0.5l1.3,-0.1V2193H1611.7Z" fill="#ffd000"/></g><g clip-path="url(#p12S1k10)"><path d="M1611.7,2020.1l8,-15.7l8,-17.6l8,-18.1l8,-17.1l8,-14.9l8,-11.2l8,-6.2l8,-2l8,-1.7l8,-1.9l8,-2l8,-2.2l8,-2.4l8,-2.5l8,-2.5l8,-2.1l8,-1.5l8,-1l8,-0.9l8,-0.9l8,-1.1l8,-0.8l8,-0.4l8,-0.4l8,-0.2l8,-0.2l8,-0.1l8,-0.1l8,-0.2l8,-0.2l8,-0.3l8,-0.4l8,-0.4l8,-0.4l8,-0.3l8,-0.4l8,-0.3l8,-0.3l8,-0.4l8,-0.3l8,-0.4l8,-0.3l8,-0.4l8,-0.4l8,-0.3l8,-0.4l8,-0.4l8,-0.4l8,-0.4l8,-0.4l8,-0.4l8,-0.5l8,-0.4l8,-0.5l8,-0.4l8,-0.5l8,-0.5l8,-0.4l8,-0.5l8,-0.4l8,-0.5l8,-0.5l8,-0.5l8,-0.5l8,-0.5l8,-0.5l8,-0.6l8,-0.5l1.3,-0.1V2193H1611.7Z" fill="url(#p12g0)"/></g><g clip-path="url(#p12S1k11)"><path d="M1611.7,2020.9l8,-15.7l8,-17.6l8,-18.1l8,-17.1l8,-14.9l8,-11.2l8,-6.2l8,-2.1l8,-1.6l8,-1.9l8,-2l8,-2.2l8,-2.4l8,-2.5l8,-2.5l8,-2.1l8,-1.4l8,-1l8,-0.8l8,-0.9l8,-1l8,-0.8l8,-0.5l8,-0.3l8,-0.2l8,-0.1l8,-0.1l8,-0.2l8,-0.1l8,-0.2l8,-0.3l8,-0.4l8,-0.4l8,-0.4l8,-0.3l8,-0.4l8,-0.3l8,-0.3l8,-0.3l8,-0.4l8,-0.3l8,-0.4l8,-0.3l8,-0.4l8,-0.3l8,-0.4l8,-0.4l8,-0.4l8,-0.3l8,-0.5l8,-0.4l8,-0.4l8,-0.5l8,-0.4l8,-0.5l8,-0.4l8,-0.5l8,-0.4l8,-0.4l8,-0.5l8,-0.5l8,-0.4l8,-0.5l8,-0.5l8,-0.6l8,-0.5l8,-0.5l8,-0.6l1.3,-0.1V2193H1611.7Z" fill="url(#p12g1)"/></g><g clip-path="url(#p12S1k12)"><path d="M1611.7,2021.7l8,-15.7l8,-17.6l8,-18.1l8,-17.1l8,-14.9l8,-11.2l8,-6.2l8,-2.1l8,-1.6l8,-1.9l8,-2l8,-2.2l8,-2.4l8,-2.5l8,-2.5l8,-2l8,-1.3l8,-1l8,-0.7l8,-0.9l8,-1.1l8,-0.7l8,-0.5l8,-0.3l8,-0.2l8,-0.1l8,-0.1l8,-0.1l8,-0.1l8,-0.2l8,-0.3l8,-0.4l8,-0.4l8,-0.4l8,-0.3l8,-0.4l8,-0.3l8,-0.3l8,-0.3l8,-0.4l8,-0.3l8,-0.3l8,-0.4l8,-0.3l8,-0.4l8,-0.3l8,-0.4l8,-0.4l8,-0.3l8,-0.4l8,-0.4l8,-0.5l8,-0.4l8,-0.4l8,-0.5l8,-0.4l8,-0.4l8,-0.5l8,-0.4l8,-0.5l8,-0.4l8,-0.5l8,-0.5l8,-0.5l8,-0.5l8,-0.5l8,-0.6l8,-0.5l1.3,-0.1V2193H1611.7Z" fill="url(#p12g2)"/></g><g clip-path="url(#p12S1k13)"><path d="M1611.7,2022.5l8,-15.7l8,-17.6l8,-18.1l8,-17.1l8,-14.9l8,-11.2l8,-6.2l8,-2.1l8,-1.6l8,-1.9l8,-2l8,-2.2l8,-2.4l8,-2.5l8,-2.4l8,-2l8,-1.3l8,-0.9l8,-0.7l8,-0.9l8,-1l8,-0.8l8,-0.4l8,-0.3l8,-0.2l8,-0.1l8,-0.1l8,0l8,-0.2l8,-0.1l8,-0.3l8,-0.4l8,-0.4l8,-0.4l8,-0.3l8,-0.3l8,-0.4l8,-0.3l8,-0.3l8,-0.3l8,-0.4l8,-0.3l8,-0.3l8,-0.4l8,-0.3l8,-0.3l8,-0.4l8,-0.3l8,-0.4l8,-0.4l8,-0.4l8,-0.4l8,-0.4l8,-0.5l8,-0.4l8,-0.4l8,-0.4l8,-0.5l8,-0.4l8,-0.5l8,-0.4l8,-0.5l8,-0.5l8,-0.4l8,-0.6l8,-0.5l8,-0.5l8,-0.6l1.3,-0.1V2193H1611.7Z" fill="url(#p12g3)"/></g><g clip-path="url(#p12S1k14)"><path d="M1611.7,2023.3l8,-15.7l8,-17.6l8,-18.1l8,-17.1l8,-14.9l8,-11.2l8,-6.2l8,-2.1l8,-1.6l8,-1.9l8,-2l8,-2.2l8,-2.4l8,-2.5l8,-2.4l8,-2l8,-1.2l8,-0.8l8,-0.7l8,-0.9l8,-1l8,-0.7l8,-0.5l8,-0.2l8,-0.2l8,-0.1l8,0l8,-0.1l8,-0.1l8,-0.2l8,-0.3l8,-0.4l8,-0.3l8,-0.4l8,-0.3l8,-0.3l8,-0.4l8,-0.3l8,-0.3l8,-0.3l8,-0.3l8,-0.3l8,-0.4l8,-0.3l8,-0.3l8,-0.3l8,-0.4l8,-0.3l8,-0.4l8,-0.4l8,-0.4l8,-0.4l8,-0.4l8,-0.4l8,-0.4l8,-0.4l8,-0.4l8,-0.5l8,-0.4l8,-0.4l8,-0.5l8,-0.4l8,-0.5l8,-0.5l8,-0.5l8,-0.5l8,-0.6l8,-0.5l1.3,-0.1V2193H1611.7Z" fill="url(#p12g4)"/></g></g><path d="M1586,1909.9 L1580,1909.9 L2158.1,1911.3 L2160,1911.3 L2160,1933 L1586,1933 Z" fill="#0052ae"/></g>
<defs><clipPath id="p20c"><rect x="382" y="1961" width="575" height="205"/></clipPath><linearGradient id="p20bg" x1="0" y1="0" x2="0" y2="1"><stop offset="0" stop-color="#0058b4"/><stop offset="0.6" stop-color="#0058b4"/><stop offset="1" stop-color="#0060b8"/></linearGradient><linearGradient id="p20hb1" x1="0" y1="0" x2="1" y2="0"><stop offset="0" stop-color="#0040a0" stop-opacity="1"/><stop offset="0.18" stop-color="#0048a8" stop-opacity="0.8"/><stop offset="0.25" stop-color="#0090d0" stop-opacity="0.0"/><stop offset="1" stop-color="#0060b8" stop-opacity="0"/></linearGradient><path id="p20S1" d="M478.7,2197.9l4,-12.3l4,-13.2l4,-12.9l4,-11.5l4,-8.8l4,-6l4,-4.8l4,-3.8l4,-2.5l4,-1.8l4,-1.5l4,-1.1l4,-0.8l4,-0.3l4,-0.3l4,-0.3l4,-0.2l4,-0.1l4,-0.2l4,-0.2l4,-0.1l4,-0.1l4,-0.1l4,-0.1l4,-0.1l4,-0.1l4,-0.1l4,-0.2l4,-0.2l4,-0.3l4,-0.3l4,-0.4l4,-0.4l4,-0.5l4,-0.4l4,-0.5l4,-0.5l4,-0.7l4,-0.9l4,-0.7l4,-0.5l4,0l4,0.3l4,0.4l4,0.6l4,0.5l4,0.5l4,0.7l4,0.7l4,0.7l4,0.8l4,0.7l4,0.6l4,0.6l4,0.4l4,0.4l4,0.4l4,0.3l4,0.4l4,0.3l4,0.2l4,0.2l4,0.1l4,0l4,-0.2l4,-0.4l4,-0.4l4,-0.5l4,-0.6l4,-0.5l4,-0.5l4,-0.3l4,-0.3l4,-0.3l4,-0.3l4,-0.2l4,-0.3l4,-0.2l4,-0.1l4,-0.1l4,-0.1l4,0l4,0l4,0l4,0l4,0l4,0l4,0l4,0l4,0l4,0.1l4,0l4,0.2l4,0.2l4,0.2l4,0.2l4,0.3l4,0.3l4,0.4l4,0.6l4,0.9l4,1.1l4,1.3l4,1.3l4,1.6l4,2.1l4,2.2l4,2.2l4,2l4,2.3l4,3.3l4,7l4,12l4,15.1l4,16.2l4,15.3l1.3,4.4V2426H478.7Z"/><path id="p20S1B" d="M458.7,2133.1l20,0l4,0l4,0l4,0l4,0l4,0.1l4,0.3l4,0.3l4,0.3l4,0.3l4,0.3l4,0.3l4,0.3l4,0.3l4,0.3l4,0.3l4,0.2l4,0.3l4,0.3l4,0.2l4,0.2l4,0.3l4,0.2l4,0.3l4,0.3l4,0.3l4,0.2l4,0.3l4,0.2l4,0.3l4,0.2l4,0.2l4,0.2l4,0.1l4,0.1l4,0.1l4,0.1l4,0l4,0l4,0l4,0l4,0l4,0l4,0l4,0l4,0l4,0l4,0l4,0l4,0l4,0l4,0l4,0l4,0l4,0l4,0l4,0l4,0l4,0l4,0l4,0l4,0l4,0l4,0l4,0l4,0l4,0l4,0l4,0l4,0l4,0l4,0l4,0l4,0l4,0l4,0l4,0l4,0l4,0l4,0l4,0l4,0l4,0l4,0l4,0l4,0l4,0l4,0l4,0l4,0l4,0l4,0l4,0l4,0l4,0l4,0l4,0l4,0l4,0l4,0l4,0l4,0l4,0l4,0l4,0l4,0l4,0l4,0l4,0l4,0l4,0l4,0l4,0l4,0l4,0l4,0l4,0l1.3,0l20,0V1661H458.7Z"/><clipPath id="p20S1k1"><use href="#p20S1B" y="-0.4"/></clipPath><clipPath id="p20S1k2"><use href="#p20S1B" y="-0.7"/></clipPath><clipPath id="p20S1k3"><use href="#p20S1B" y="-1.6"/></clipPath><clipPath id="p20S1k4"><use href="#p20S1B" y="-2.4"/></clipPath><linearGradient id="p20g0" gradientUnits="userSpaceOnUse" x1="382" y1="0" x2="957" y2="0"><stop offset="0.000" stop-color="#4dff40"/><stop offset="0.167" stop-color="#4dff40"/><stop offset="0.208" stop-color="#50ff3e"/><stop offset="0.250" stop-color="#78ff28"/><stop offset="0.917" stop-color="#78ff28"/><stop offset="0.958" stop-color="#4dff40"/><stop offset="1.000" stop-color="#4dff40"/></linearGradient><clipPath id="p20S1k5"><use href="#p20S1B" y="-3.6"/></clipPath><linearGradient id="p20g1" gradientUnits="userSpaceOnUse" x1="382" y1="0" x2="957" y2="0"><stop offset="0.000" stop-color="#4dff40"/><stop offset="0.167" stop-color="#4dff40"/><stop offset="0.208" stop-color="#50ff3e"/><stop offset="0.250" stop-color="#c0ff00"/><stop offset="0.875" stop-color="#c0ff00"/><stop offset="0.917" stop-color="#8cff1d"/><stop offset="0.958" stop-color="#4dff40"/><stop offset="1.000" stop-color="#4dff40"/></linearGradient><clipPath id="p20S1k6"><use href="#p20S1B" y="-4.8"/></clipPath><linearGradient id="p20g2" gradientUnits="userSpaceOnUse" x1="382" y1="0" x2="957" y2="0"><stop offset="0.000" stop-color="#4dff40"/><stop offset="0.167" stop-color="#4dff40"/><stop offset="0.208" stop-color="#50ff3e"/><stop offset="0.250" stop-color="#e0ff00"/><stop offset="0.875" stop-color="#e0ff00"/><stop offset="0.917" stop-color="#8cff1d"/><stop offset="0.958" stop-color="#4dff40"/><stop offset="1.000" stop-color="#4dff40"/></linearGradient><clipPath id="p20S1k7"><use href="#p20S1B" y="-6.5"/></clipPath><linearGradient id="p20g3" gradientUnits="userSpaceOnUse" x1="382" y1="0" x2="957" y2="0"><stop offset="0.000" stop-color="#4dff40"/><stop offset="0.167" stop-color="#4dff40"/><stop offset="0.208" stop-color="#50ff3e"/><stop offset="0.250" stop-color="#fdff00"/><stop offset="0.292" stop-color="#ffff00"/><stop offset="0.875" stop-color="#ffff00"/><stop offset="0.917" stop-color="#8cff1d"/><stop offset="0.958" stop-color="#4dff40"/><stop offset="1.000" stop-color="#4dff40"/></linearGradient><clipPath id="p20S1k8"><use href="#p20S1B" y="-8.2"/></clipPath><linearGradient id="p20g4" gradientUnits="userSpaceOnUse" x1="382" y1="0" x2="957" y2="0"><stop offset="0.000" stop-color="#4dff40"/><stop offset="0.167" stop-color="#4dff40"/><stop offset="0.208" stop-color="#50ff3e"/><stop offset="0.250" stop-color="#fdff00"/><stop offset="0.292" stop-color="#ffff00"/><stop offset="0.333" stop-color="#ffff00"/><stop offset="0.375" stop-color="#ffe300"/><stop offset="0.417" stop-color="#ffd000"/><stop offset="0.500" stop-color="#ffd000"/><stop offset="0.542" stop-color="#fffd00"/><stop offset="0.583" stop-color="#ffff00"/><stop offset="0.875" stop-color="#ffff00"/><stop offset="0.917" stop-color="#8cff1d"/><stop offset="0.958" stop-color="#4dff40"/><stop offset="1.000" stop-color="#4dff40"/></linearGradient><clipPath id="p20S1k9"><use href="#p20S1B" y="-12.5"/></clipPath></defs><g clip-path="url(#p20c)"><rect x="382" y="1961" width="575" height="205" fill="url(#p20bg)"/><rect x="382" y="1961" width="575" height="205" fill="url(#p20hb1)" opacity="1"/><path d="M547.4,1954 L605.6,1954 L609.1,2059.7 L595,2119.7 L556.2,2119.7 L545.7,2059.7Z" fill="#10b8e8" opacity="0.7" filter="url(#bl14)"/><ellipse cx="588" cy="1975.1" rx="31.7" ry="24.7" fill="#20d0f0" opacity="0.7" filter="url(#bl12)"/><ellipse cx="591.5" cy="1968.1" rx="42.3" ry="14.1" fill="#20c8f0" opacity="0.6" filter="url(#bl10)"/><ellipse cx="870" cy="2042.1" rx="19.4" ry="91.6" fill="#10a8e0" opacity="0.65" filter="url(#bl14)"/><ellipse cx="697.2" cy="2059.7" rx="88.1" ry="52.9" fill="#0078c8" opacity="0.4" filter="url(#bl20)"/><ellipse cx="436.4" cy="2132" rx="56.4" ry="6.3" fill="#000a80" opacity="1.0" filter="url(#bl3)"/><g filter="url(#bl4)"><use href="#p20S1" y="-40.8" fill="#0062b8" fill-opacity="0.35"/><use href="#p20S1" y="-28.8" fill="#0070c0" fill-opacity="0.45"/><use href="#p20S1" y="-18" fill="#0088d0" fill-opacity="0.6"/><use href="#p20S1" y="-9.6" fill="#00a8e0" fill-opacity="0.85"/><use href="#p20S1" y="-3" fill="#00c8ee" fill-opacity="1.0"/></g><g filter="url(#bl1_5)"><use href="#p20S1" y="0" fill="#00f0f8"/><g clip-path="url(#p20S1k1)"><use href="#p20S1" y="1.9" fill="#00f8d4"/></g><g clip-path="url(#p20S1k2)"><use href="#p20S1" y="3.8" fill="#00ffb0"/></g><g clip-path="url(#p20S1k3)"><use href="#p20S1" y="5.3" fill="#18ff80"/></g><g clip-path="url(#p20S1k4)"><use href="#p20S1" y="6.8" fill="#30ff50"/></g><g clip-path="url(#p20S1k5)"><use href="#p20S1" y="8.3" fill="url(#p20g0)"/></g><g clip-path="url(#p20S1k6)"><use href="#p20S1" y="9.8" fill="url(#p20g1)"/></g><g clip-path="url(#p20S1k7)"><use href="#p20S1" y="11" fill="url(#p20g2)"/></g><g clip-path="url(#p20S1k8)"><use href="#p20S1" y="12.2" fill="url(#p20g3)"/></g><g clip-path="url(#p20S1k9)"><use href="#p20S1" y="13.9" fill="url(#p20g4)"/></g></g><path d="M926.4,2137.3 L951,2136.6" fill="none" stroke="#000a80" stroke-width="3.5" stroke-linecap="round" opacity="1.0" filter="url(#bl1)"/><path d="M382,2137.3 L380,2137.3 L492.8,2137.3 L556.2,2139.1 L626.7,2143.3 L958.1,2142.6 L957,2142.6 L957,2166 L382,2166 Z" fill="#0052ae"/></g>
<defs><clipPath id="p21c"><rect x="984" y="1961" width="575" height="205"/></clipPath><linearGradient id="p21bg" x1="0" y1="0" x2="0" y2="1"><stop offset="0" stop-color="#0070c0"/><stop offset="0.4" stop-color="#0064b8"/><stop offset="0.7" stop-color="#005cb4"/><stop offset="1" stop-color="#0060b8"/></linearGradient><path id="p21S1" d="M1034.6,2211.8l4,-10.7l4,-11.6l4,-12.1l4,-11.8l4,-11l4,-9.7l4,-7.8l4,-5.4l4,-3.5l4,-2.8l4,-2.2l4,-1.9l4,-1.6l4,-1.4l4,-1.4l4,-1.3l4,-1.3l4,-1.2l4,-1.1l4,-0.9l4,-0.9l4,-0.8l4,-0.7l4,-0.7l4,-0.6l4,-0.4l4,-0.4l4,-0.4l4,-0.4l4,-0.4l4,-0.4l4,-0.3l4,-0.3l4,-0.3l4,-0.2l4,-0.2l4,-0.1l4,-0.1l4,0l4,0l4,0l4,0l4,0l4,0l4,0l4,0l4,0l4,0l4,0l4,0l4,0l4,0l4,0l4,0l4,0l4,0l4,0l4,0.2l4,0.4l4,0.4l4,0.5l4,0.5l4,0.5l4,0.5l4,0.5l4,0.4l4,0.4l4,0.2l4,0l4,0l4,0l4,-0.1l4,-0.1l4,-0.1l4,-0.2l4,-0.2l4,-0.1l4,-0.2l4,-0.2l4,-0.2l4,-0.2l4,-0.2l4,-0.2l4,-0.2l4,-0.3l4,-0.2l4,-0.3l4,-0.3l4,-0.4l4,-0.3l4,-0.3l4,-0.4l4,-0.3l4,-0.4l4,-0.3l4,-0.4l4,-0.3l4,-0.3l4,-0.3l4,-0.3l4,-0.3l4,-0.3l4,-0.3l4,-0.3l4,-0.3l4,-0.2l4,-0.3l4,-0.3l4,-0.3l4,-0.3l4,-0.3l4,-0.2l4,-0.3l4,-0.3l4,-0.3l4,-0.3l4,-0.3l4,-0.3l4,-0.3l4,-0.3l4,-0.3l4,-0.3l4,-0.4l4,-0.3l4,-0.3l4,-0.3l4,-0.3l4,-0.3l4,-0.3l4,-0.4l1.4,-0.1V2426H1034.6Z"/><path id="p21S1B" d="M1014.6,2132.7l20,0l4,0l4,0l4,0l4,0l4,0.3l4,0.2l4,0.3l4,0.3l4,0.3l4,0.2l4,0.3l4,0.3l4,0.3l4,0.2l4,0.3l4,0.3l4,0.2l4,0.3l4,0.2l4,0.2l4,0.3l4,0.2l4,0.2l4,0.2l4,0.3l4,0.2l4,0.2l4,0.3l4,0.2l4,0.2l4,0.3l4,0.2l4,0.2l4,0.2l4,0.2l4,0.2l4,0.1l4,0.2l4,0.1l4,0.1l4,0.1l4,0l4,0.1l4,0l4,0l4,0l4,0l4,0l4,0l4,0l4,0l4,0l4,0l4,0l4,0l4,0l4,0l4,0l4,0l4,0l4,0l4,0l4,0l4,0l4,0l4,0l4,0l4,0l4,0l4,0l4,0l4,0l4,0l4,0l4,0l4,0l4,0l4,0l4,0l4,0l4,0l4,0l4,0l4,0l4,0l4,0l4,0l4,0l4,0l4,0l4,0l4,0l4,0l4,0l4,0l4,0l4,0l4,0l4,0l4,0l4,0l4,0l4,0l4,0l4,0l4,0l4,0l4,0l4,0l4,0l4,0l4,0l4,0l4,0l4,0l4,0l4,0l4,0l4,0l4,0l4,0l4,0l4,0l4,0l4,0l4,0l4,0l4,0l4,0l4,0l1.4,0l20,0V1661H1014.6Z"/><clipPath id="p21S1k1"><use href="#p21S1B" y="-0.1"/></clipPath><clipPath id="p21S1k2"><use href="#p21S1B" y="-0.3"/></clipPath><clipPath id="p21S1k3"><use href="#p21S1B" y="-0.6"/></clipPath><clipPath id="p21S1k4"><use href="#p21S1B" y="-0.8"/></clipPath><clipPath id="p21S1k5"><use href="#p21S1B" y="-1.3"/></clipPath><clipPath id="p21S1k6"><use href="#p21S1B" y="-1.7"/></clipPath><clipPath id="p21S1k7"><use href="#p21S1B" y="-2.3"/></clipPath><clipPath id="p21S1k8"><use href="#p21S1B" y="-2.9"/></clipPath><linearGradient id="p21g0" gradientUnits="userSpaceOnUse" x1="984" y1="0" x2="1559" y2="0"><stop offset="0.000" stop-color="#ffd000"/><stop offset="0.542" stop-color="#ffd000"/><stop offset="0.583" stop-color="#ffd800"/><stop offset="0.625" stop-color="#ffd000"/><stop offset="1.000" stop-color="#ffd000"/></linearGradient><clipPath id="p21S1k9"><use href="#p21S1B" y="-4.4"/></clipPath><linearGradient id="p21g1" gradientUnits="userSpaceOnUse" x1="984" y1="0" x2="1559" y2="0"><stop offset="0.000" stop-color="#ffd000"/><stop offset="0.167" stop-color="#ffd000"/><stop offset="0.208" stop-color="#ffbe00"/><stop offset="0.250" stop-color="#ffa000"/><stop offset="0.500" stop-color="#ffa000"/><stop offset="0.542" stop-color="#ffbf00"/><stop offset="0.583" stop-color="#ffd800"/><stop offset="0.625" stop-color="#ffb900"/><stop offset="0.667" stop-color="#ffa000"/><stop offset="1.000" stop-color="#ffa000"/></linearGradient><clipPath id="p21S1k10"><use href="#p21S1B" y="-6"/></clipPath><linearGradient id="p21g2" gradientUnits="userSpaceOnUse" x1="984" y1="0" x2="1559" y2="0"><stop offset="0.000" stop-color="#ffd000"/><stop offset="0.167" stop-color="#ffd000"/><stop offset="0.208" stop-color="#ffbe00"/><stop offset="0.250" stop-color="#ff9200"/><stop offset="0.292" stop-color="#ff8900"/><stop offset="0.333" stop-color="#ff8700"/><stop offset="0.375" stop-color="#ff8400"/><stop offset="0.417" stop-color="#ff8100"/><stop offset="0.458" stop-color="#ff7f00"/><stop offset="0.500" stop-color="#ff8700"/><stop offset="0.542" stop-color="#ffbf00"/><stop offset="0.583" stop-color="#ffd800"/><stop offset="0.625" stop-color="#ffb900"/><stop offset="0.667" stop-color="#ffa000"/><stop offset="0.708" stop-color="#ff8f00"/><stop offset="0.750" stop-color="#ff6e00"/><stop offset="0.792" stop-color="#ff6800"/><stop offset="1.000" stop-color="#ff6800"/></linearGradient><clipPath id="p21S1k11"><use href="#p21S1B" y="-7.2"/></clipPath><linearGradient id="p21g3" gradientUnits="userSpaceOnUse" x1="984" y1="0" x2="1559" y2="0"><stop offset="0.000" stop-color="#ffd000"/><stop offset="0.167" stop-color="#ffd000"/><stop offset="0.208" stop-color="#ffbe00"/><stop offset="0.250" stop-color="#ff9200"/><stop offset="0.292" stop-color="#ff8900"/><stop offset="0.333" stop-color="#ff8700"/><stop offset="0.375" stop-color="#ff8400"/><stop offset="0.417" stop-color="#ff8100"/><stop offset="0.458" stop-color="#ff7f00"/><stop offset="0.500" stop-color="#ff8700"/><stop offset="0.542" stop-color="#ffbf00"/><stop offset="0.583" stop-color="#ffd800"/><stop offset="0.625" stop-color="#ffb900"/><stop offset="0.667" stop-color="#ffa000"/><stop offset="0.708" stop-color="#ff8f00"/><stop offset="0.750" stop-color="#ff6e00"/><stop offset="0.792" stop-color="#ff5d00"/><stop offset="0.833" stop-color="#ff4e00"/><stop offset="0.875" stop-color="#ff3000"/><stop offset="1.000" stop-color="#ff3000"/></linearGradient><clipPath id="p21S1k12"><use href="#p21S1B" y="-8.5"/></clipPath></defs><g clip-path="url(#p21c)"><rect x="984" y="1961" width="575" height="205" fill="url(#p21bg)"/><ellipse cx="1334.2" cy="1962.8" rx="14.1" ry="7" fill="#30f0ff" opacity="1.0" filter="url(#bl3)"/><ellipse cx="1050.5" cy="2077.4" rx="88.1" ry="70.5" fill="#0070c4" opacity="0.5" filter="url(#bl20)"/><ellipse cx="1015.2" cy="2133.8" rx="35.2" ry="3.5" fill="#000a80" opacity="1.0" filter="url(#bl2)"/><g filter="url(#bl5)"><use href="#p21S1" y="-51" fill="#0062b8" fill-opacity="0.35"/><use href="#p21S1" y="-36" fill="#0070c0" fill-opacity="0.45"/><use href="#p21S1" y="-22.5" fill="#0088d0" fill-opacity="0.6"/><use href="#p21S1" y="-12" fill="#00a8e0" fill-opacity="0.85"/><use href="#p21S1" y="-3" fill="#00c8ee" fill-opacity="1.0"/></g><g filter="url(#bl1_5)"><path d="M1034.6,2211.8l8,-22.3l8,-23.9l8,-20.7l8,-13.2l8,-6.3l8,-4.1l8,-3l8,-2.7l8,-2.5l8,-2l8,-1.7l8,-1.4l8,-1l8,-0.8l8,-0.8l8,-0.7l8,-0.6l8,-0.4l8,-0.2l8,0l8,0l8,0l8,0l8,0l8,0l8,0l8,0l8,0l8,0.2l8,0.8l8,1l8,1l8,0.9l8,0.6l8,0l8,-0.1l8,-0.2l8,-0.4l8,-0.3l8,-0.4l8,-0.4l8,-0.4l8,-0.5l8,-0.6l8,-0.7l8,-0.7l8,-0.7l8,-0.7l8,-0.6l8,-0.6l8,-0.6l8,-0.6l8,-0.5l8,-0.6l8,-0.6l8,-0.5l8,-0.6l8,-0.6l8,-0.6l8,-0.6l8,-0.6l8,-0.7l8,-0.6l8,-0.6l8,-0.7l1.4,-0.1V2426H1034.6Z" fill="#00f0f8"/><g clip-path="url(#p21S1k1)"><path d="M1034.6,2213l8,-22.4l8,-23.8l8,-20.8l8,-13.2l8,-6.2l8,-4.1l8,-3.1l8,-2.6l8,-2.4l8,-2l8,-1.5l8,-1.3l8,-1l8,-0.9l8,-0.7l8,-0.7l8,-0.6l8,-0.4l8,-0.2l8,0l8,0.1l8,0l8,0l8,0l8,0.1l8,0l8,0l8,0l8,0.3l8,0.7l8,1l8,1.1l8,0.9l8,0.5l8,0.1l8,-0.1l8,-0.2l8,-0.3l8,-0.4l8,-0.3l8,-0.4l8,-0.4l8,-0.5l8,-0.6l8,-0.7l8,-0.6l8,-0.7l8,-0.7l8,-0.6l8,-0.6l8,-0.6l8,-0.5l8,-0.6l8,-0.5l8,-0.6l8,-0.5l8,-0.6l8,-0.6l8,-0.6l8,-0.6l8,-0.6l8,-0.6l8,-0.7l8,-0.6l8,-0.6l1.4,-0.1V2426H1034.6Z" fill="#00f8d4"/></g><g clip-path="url(#p21S1k2)"><path d="M1034.6,2214.1l8,-22.4l8,-23.8l8,-20.8l8,-13.1l8,-6.3l8,-4.1l8,-3l8,-2.6l8,-2.4l8,-1.8l8,-1.4l8,-1.3l8,-1l8,-0.8l8,-0.7l8,-0.7l8,-0.5l8,-0.4l8,-0.2l8,0l8,0.1l8,0l8,0.1l8,0l8,0.1l8,0l8,0l8,0l8,0.3l8,0.8l8,1l8,1.1l8,0.9l8,0.5l8,0.1l8,-0.1l8,-0.2l8,-0.3l8,-0.3l8,-0.4l8,-0.3l8,-0.5l8,-0.5l8,-0.5l8,-0.6l8,-0.7l8,-0.7l8,-0.6l8,-0.6l8,-0.6l8,-0.5l8,-0.6l8,-0.5l8,-0.6l8,-0.5l8,-0.5l8,-0.6l8,-0.6l8,-0.5l8,-0.6l8,-0.7l8,-0.6l8,-0.6l8,-0.6l8,-0.7l1.4,-0.1V2426H1034.6Z" fill="#00ffb0"/></g><g clip-path="url(#p21S1k3)"><path d="M1034.6,2215l8,-22.4l8,-23.8l8,-20.8l8,-13.2l8,-6.2l8,-4.1l8,-3l8,-2.6l8,-2.3l8,-1.7l8,-1.4l8,-1.2l8,-0.9l8,-0.9l8,-0.7l8,-0.7l8,-0.5l8,-0.3l8,-0.2l8,0.1l8,0l8,0.1l8,0.1l8,0l8,0.1l8,0l8,0.1l8,0l8,0.3l8,0.7l8,1l8,1.1l8,0.9l8,0.6l8,0l8,-0.1l8,-0.2l8,-0.2l8,-0.3l8,-0.4l8,-0.3l8,-0.4l8,-0.5l8,-0.6l8,-0.6l8,-0.6l8,-0.7l8,-0.6l8,-0.6l8,-0.5l8,-0.6l8,-0.5l8,-0.5l8,-0.6l8,-0.5l8,-0.5l8,-0.6l8,-0.5l8,-0.6l8,-0.6l8,-0.6l8,-0.6l8,-0.7l8,-0.6l8,-0.6l1.4,-0.1V2426H1034.6Z" fill="#18ff80"/></g><g clip-path="url(#p21S1k4)"><path d="M1034.6,2215.8l8,-22.3l8,-23.9l8,-20.7l8,-13.2l8,-6.3l8,-4.1l8,-3l8,-2.5l8,-2.2l8,-1.6l8,-1.3l8,-1.2l8,-0.9l8,-0.8l8,-0.8l8,-0.6l8,-0.5l8,-0.4l8,-0.1l8,0.1l8,0.1l8,0.1l8,0l8,0.1l8,0.1l8,0.1l8,0l8,0l8,0.3l8,0.8l8,1l8,1l8,1l8,0.5l8,0.1l8,-0.1l8,-0.2l8,-0.2l8,-0.3l8,-0.4l8,-0.3l8,-0.4l8,-0.4l8,-0.6l8,-0.6l8,-0.6l8,-0.7l8,-0.6l8,-0.6l8,-0.5l8,-0.5l8,-0.5l8,-0.6l8,-0.5l8,-0.5l8,-0.5l8,-0.6l8,-0.5l8,-0.6l8,-0.6l8,-0.6l8,-0.6l8,-0.6l8,-0.6l8,-0.7l1.4,-0.1V2426H1034.6Z" fill="#30ff50"/></g><g clip-path="url(#p21S1k5)"><path d="M1034.6,2216.7l8,-22.4l8,-23.8l8,-20.8l8,-13.1l8,-6.3l8,-4.1l8,-3l8,-2.4l8,-2.2l8,-1.6l8,-1.2l8,-1.1l8,-0.9l8,-0.8l8,-0.7l8,-0.7l8,-0.5l8,-0.3l8,-0.1l8,0.1l8,0.1l8,0.1l8,0.1l8,0.1l8,0.1l8,0.1l8,0l8,0l8,0.3l8,0.8l8,1l8,1.1l8,0.9l8,0.6l8,0.1l8,-0.1l8,-0.2l8,-0.2l8,-0.3l8,-0.4l8,-0.3l8,-0.3l8,-0.5l8,-0.5l8,-0.6l8,-0.6l8,-0.6l8,-0.7l8,-0.5l8,-0.6l8,-0.5l8,-0.5l8,-0.5l8,-0.5l8,-0.5l8,-0.5l8,-0.5l8,-0.6l8,-0.5l8,-0.6l8,-0.6l8,-0.6l8,-0.7l8,-0.6l8,-0.6l1.4,-0.1V2426H1034.6Z" fill="#78ff28"/></g><g clip-path="url(#p21S1k6)"><path d="M1034.6,2217.6l8,-22.4l8,-23.8l8,-20.8l8,-13.1l8,-6.3l8,-4.1l8,-3l8,-2.4l8,-2.1l8,-1.5l8,-1.1l8,-1.1l8,-0.9l8,-0.8l8,-0.7l8,-0.6l8,-0.5l8,-0.3l8,-0.1l8,0.1l8,0.1l8,0.2l8,0.1l8,0.1l8,0.1l8,0.1l8,0.1l8,0l8,0.3l8,0.7l8,1.1l8,1l8,1l8,0.5l8,0.1l8,0l8,-0.2l8,-0.2l8,-0.3l8,-0.3l8,-0.3l8,-0.4l8,-0.4l8,-0.6l8,-0.5l8,-0.6l8,-0.6l8,-0.6l8,-0.6l8,-0.5l8,-0.5l8,-0.5l8,-0.5l8,-0.5l8,-0.5l8,-0.5l8,-0.5l8,-0.5l8,-0.6l8,-0.6l8,-0.6l8,-0.6l8,-0.6l8,-0.6l8,-0.7l1.4,-0.1V2426H1034.6Z" fill="#c0ff00"/></g><g clip-path="url(#p21S1k7)"><path d="M1034.6,2218.3l8,-22.4l8,-23.8l8,-20.8l8,-13.1l8,-6.3l8,-4.1l8,-3l8,-2.4l8,-2l8,-1.4l8,-1.1l8,-1l8,-0.9l8,-0.8l8,-0.7l8,-0.6l8,-0.5l8,-0.3l8,0l8,0.1l8,0.1l8,0.2l8,0.1l8,0.2l8,0.1l8,0.1l8,0l8,0.1l8,0.3l8,0.7l8,1l8,1.1l8,1l8,0.5l8,0.1l8,0l8,-0.2l8,-0.2l8,-0.3l8,-0.3l8,-0.3l8,-0.3l8,-0.5l8,-0.5l8,-0.5l8,-0.6l8,-0.6l8,-0.6l8,-0.5l8,-0.6l8,-0.4l8,-0.5l8,-0.5l8,-0.5l8,-0.5l8,-0.5l8,-0.5l8,-0.5l8,-0.6l8,-0.5l8,-0.6l8,-0.6l8,-0.7l8,-0.6l8,-0.6l1.4,-0.1V2426H1034.6Z" fill="#e0ff00"/></g><g clip-path="url(#p21S1k8)"><path d="M1034.6,2219l8,-22.3l8,-23.9l8,-20.7l8,-13.2l8,-6.3l8,-4.1l8,-2.9l8,-2.4l8,-1.9l8,-1.4l8,-1l8,-1l8,-0.8l8,-0.8l8,-0.8l8,-0.6l8,-0.4l8,-0.3l8,-0.1l8,0.2l8,0.1l8,0.2l8,0.2l8,0.1l8,0.1l8,0.1l8,0.1l8,0.1l8,0.2l8,0.8l8,1l8,1.1l8,1l8,0.6l8,0.1l8,-0.1l8,-0.2l8,-0.2l8,-0.2l8,-0.3l8,-0.3l8,-0.3l8,-0.5l8,-0.5l8,-0.5l8,-0.6l8,-0.6l8,-0.6l8,-0.5l8,-0.5l8,-0.5l8,-0.4l8,-0.5l8,-0.5l8,-0.5l8,-0.5l8,-0.5l8,-0.5l8,-0.5l8,-0.6l8,-0.6l8,-0.6l8,-0.6l8,-0.6l8,-0.7l1.4,-0.1V2426H1034.6Z" fill="#ffff00"/></g><g clip-path="url(#p21S1k9)"><path d="M1034.6,2220l8,-22.4l8,-23.8l8,-20.8l8,-13.1l8,-6.3l8,-4.1l8,-3l8,-2.3l8,-1.8l8,-1.3l8,-1l8,-0.9l8,-0.8l8,-0.8l8,-0.7l8,-0.6l8,-0.5l8,-0.2l8,-0.1l8,0.2l8,0.2l8,0.2l8,0.2l8,0.1l8,0.2l8,0.1l8,0.1l8,0l8,0.3l8,0.8l8,1l8,1.1l8,0.9l8,0.6l8,0.2l8,-0.1l8,-0.1l8,-0.3l8,-0.2l8,-0.3l8,-0.2l8,-0.4l8,-0.4l8,-0.5l8,-0.5l8,-0.6l8,-0.5l8,-0.6l8,-0.5l8,-0.5l8,-0.5l8,-0.4l8,-0.5l8,-0.4l8,-0.5l8,-0.5l8,-0.5l8,-0.5l8,-0.5l8,-0.6l8,-0.6l8,-0.6l8,-0.6l8,-0.6l8,-0.7l1.4,-0.1V2426H1034.6Z" fill="url(#p21g0)"/></g><g clip-path="url(#p21S1k10)"><path d="M1034.6,2220.9l8,-22.3l8,-23.9l8,-20.7l8,-13.2l8,-6.3l8,-4.1l8,-2.9l8,-2.3l8,-1.8l8,-1.2l8,-0.9l8,-0.8l8,-0.8l8,-0.8l8,-0.7l8,-0.6l8,-0.4l8,-0.2l8,0l8,0.1l8,0.2l8,0.3l8,0.2l8,0.1l8,0.2l8,0.1l8,0.1l8,0.1l8,0.3l8,0.7l8,1.1l8,1.1l8,0.9l8,0.6l8,0.1l8,0l8,-0.1l8,-0.2l8,-0.3l8,-0.2l8,-0.3l8,-0.3l8,-0.4l8,-0.5l8,-0.5l8,-0.5l8,-0.6l8,-0.5l8,-0.6l8,-0.4l8,-0.5l8,-0.4l8,-0.5l8,-0.4l8,-0.5l8,-0.4l8,-0.5l8,-0.5l8,-0.6l8,-0.5l8,-0.6l8,-0.6l8,-0.6l8,-0.6l8,-0.7l1.4,-0.1V2426H1034.6Z" fill="url(#p21g1)"/></g><g clip-path="url(#p21S1k11)"><path d="M1034.6,2221.7l8,-22.4l8,-23.8l8,-20.8l8,-13.2l8,-6.2l8,-4.1l8,-3l8,-2.2l8,-1.7l8,-1.2l8,-0.8l8,-0.8l8,-0.8l8,-0.8l8,-0.7l8,-0.5l8,-0.4l8,-0.3l8,0l8,0.2l8,0.3l8,0.2l8,0.2l8,0.2l8,0.2l8,0.1l8,0.1l8,0.1l8,0.3l8,0.7l8,1.1l8,1.1l8,0.9l8,0.6l8,0.2l8,-0.1l8,-0.1l8,-0.2l8,-0.2l8,-0.3l8,-0.2l8,-0.3l8,-0.4l8,-0.5l8,-0.5l8,-0.5l8,-0.6l8,-0.5l8,-0.5l8,-0.5l8,-0.4l8,-0.4l8,-0.5l8,-0.4l8,-0.5l8,-0.4l8,-0.5l8,-0.5l8,-0.5l8,-0.6l8,-0.6l8,-0.5l8,-0.7l8,-0.6l8,-0.6l1.4,-0.1V2426H1034.6Z" fill="url(#p21g2)"/></g><g clip-path="url(#p21S1k12)"><path d="M1034.6,2222.4l8,-22.4l8,-23.8l8,-20.8l8,-13.1l8,-6.3l8,-4.1l8,-2.9l8,-2.2l8,-1.7l8,-1.1l8,-0.7l8,-0.8l8,-0.8l8,-0.7l8,-0.7l8,-0.6l8,-0.4l8,-0.2l8,0l8,0.2l8,0.3l8,0.2l8,0.2l8,0.3l8,0.1l8,0.2l8,0.1l8,0.1l8,0.2l8,0.8l8,1.1l8,1.1l8,0.9l8,0.6l8,0.2l8,-0.1l8,-0.1l8,-0.2l8,-0.2l8,-0.2l8,-0.3l8,-0.2l8,-0.4l8,-0.5l8,-0.5l8,-0.5l8,-0.5l8,-0.6l8,-0.4l8,-0.5l8,-0.4l8,-0.4l8,-0.5l8,-0.4l8,-0.4l8,-0.5l8,-0.5l8,-0.5l8,-0.5l8,-0.5l8,-0.6l8,-0.6l8,-0.6l8,-0.6l8,-0.7l1.4,-0.1V2426H1034.6Z" fill="url(#p21g3)"/></g></g><path d="M984,2136.6 L980,2136.6 L1085.7,2136.6 L1191.5,2142.6 L1558.1,2142.6 L1559,2142.6 L1559,2166 L984,2166 Z" fill="#0052ae"/></g>
<defs><clipPath id="p22c"><rect x="1586" y="1961" width="574" height="205"/></clipPath><linearGradient id="p22bg" x1="0" y1="0" x2="0" y2="1"><stop offset="0" stop-color="#0058b4"/><stop offset="0.4" stop-color="#0062b8"/><stop offset="1" stop-color="#006cc0"/></linearGradient><path id="p22S1" d="M1639.9,2217l4,-11.5l4,-12.7l4,-13.1l4,-12.8l4,-11.9l4,-10.3l4,-8l4,-4.9l4,-2.8l4,-2.1l4,-1.8l4,-1.8l4,-1.6l4,-1.4l4,-1.4l4,-1.2l4,-1.1l4,-1.1l4,-1l4,-0.9l4,-0.8l4,-0.7l4,-0.7l4,-0.6l4,-0.6l4,-0.5l4,-0.6l4,-0.4l4,-0.5l4,-0.4l4,-0.4l4,-0.4l4,-0.3l4,-0.4l4,-0.3l4,-0.4l4,-0.3l4,-0.3l4,-0.3l4,-0.2l4,-0.3l4,-0.3l4,-0.3l4,-0.2l4,-0.3l4,-0.2l4,-0.3l4,-0.2l4,-0.2l4,-0.2l4,-0.2l4,-0.2l4,-0.2l4,-0.2l4,-0.2l4,-0.2l4,-0.2l4,-0.2l4,-0.2l4,-0.2l4,-0.2l4,-0.2l4,-0.2l4,-0.3l4,-0.2l4,-0.3l4,-0.2l4,-0.3l4,-0.2l4,-0.3l4,-0.3l4,-0.3l4,-0.3l4,-0.3l4,-0.3l4,-0.3l4,-0.3l4,-0.3l4,-0.3l4,-0.3l4,-0.4l4,-0.3l4,-0.4l4,-0.4l4,-0.4l4,-0.5l4,-0.4l4,-0.5l4,-0.4l4,-0.5l4,-0.4l4,-0.5l4,-0.4l4,-0.4l4,-0.4l4,-0.4l4,-0.3l4,-0.4l4,-0.3l4,-0.3l4,-0.3l4,-0.2l4,-0.3l4,-0.3l4,-0.3l4,-0.2l4,-0.3l4,-0.2l4,-0.2l4,-0.3l4,-0.2l4,-0.2l4,-0.2l4,-0.2l4,-0.2l4,-0.2l4,-0.1l4,-0.2l4,-0.1l4,-0.2l4,-0.1l4,-0.2l4,-0.1l4,-0.1l4,-0.2l4,-0.1l4,-0.1l4,-0.2l4,-0.1l1.1,-0.1V2426H1639.9Z"/><path id="p22S1B" d="M1619.9,2133.8l20,0l4,0l4,0l4,0l4,0l4,0l4,0.1l4,0.3l4,0.2l4,0.3l4,0.2l4,0.2l4,0.3l4,0.2l4,0.3l4,0.2l4,0.2l4,0.3l4,0.2l4,0.2l4,0.2l4,0.3l4,0.2l4,0.2l4,0.3l4,0.2l4,0.3l4,0.2l4,0.3l4,0.2l4,0.3l4,0.2l4,0.3l4,0.2l4,0.2l4,0.2l4,0.2l4,0.1l4,0.1l4,0.2l4,0l4,0.1l4,0l4,0l4,0l4,0l4,0l4,0l4,0l4,0l4,0l4,0l4,0l4,0l4,0l4,0l4,0l4,0l4,0l4,0l4,0l4,0l4,0l4,0l4,0l4,0l4,0l4,0l4,0l4,0l4,0l4,0l4,0l4,0l4,-0.1l4,0l4,0l4,0l4,0l4,0l4,0l4,0l4,0l4,0l4,0l4,0l4,0l4,0l4,0l4,0l4,0l4,0l4,0l4,0l4,-0.1l4,0l4,0l4,0l4,0l4,0l4,0l4,0l4,0l4,0l4,0l4,0l4,0l4,0l4,0l4,0l4,0l4,0l4,0l4,-0.1l4,0l4,0l4,0l4,0l4,0l4,0l4,0l4,0l4,0l4,0l4,0l4,0l4,0l4,0l4,0l4,0l1.1,0l20,0V1661H1619.9Z"/><clipPath id="p22S1k1"><use href="#p22S1B" y="-0.1"/></clipPath><clipPath id="p22S1k2"><use href="#p22S1B" y="-0.3"/></clipPath><clipPath id="p22S1k3"><use href="#p22S1B" y="-0.6"/></clipPath><clipPath id="p22S1k4"><use href="#p22S1B" y="-0.8"/></clipPath><clipPath id="p22S1k5"><use href="#p22S1B" y="-1.3"/></clipPath><clipPath id="p22S1k6"><use href="#p22S1B" y="-1.7"/></clipPath><clipPath id="p22S1k7"><use href="#p22S1B" y="-2.3"/></clipPath><clipPath id="p22S1k8"><use href="#p22S1B" y="-2.9"/></clipPath><clipPath id="p22S1k9"><use href="#p22S1B" y="-4.4"/></clipPath><linearGradient id="p22g0" gradientUnits="userSpaceOnUse" x1="1586" y1="0" x2="2160" y2="0"><stop offset="0.000" stop-color="#ffd000"/><stop offset="0.167" stop-color="#ffd000"/><stop offset="0.208" stop-color="#ffcf00"/><stop offset="0.250" stop-color="#ffaf00"/><stop offset="0.292" stop-color="#ffa000"/><stop offset="1.000" stop-color="#ffa000"/></linearGradient><clipPath id="p22S1k10"><use href="#p22S1B" y="-6"/></clipPath><linearGradient id="p22g1" gradientUnits="userSpaceOnUse" x1="1586" y1="0" x2="2160" y2="0"><stop offset="0.000" stop-color="#ffd000"/><stop offset="0.167" stop-color="#ffd000"/><stop offset="0.208" stop-color="#ffcf00"/><stop offset="0.250" stop-color="#ffaf00"/><stop offset="0.292" stop-color="#ff8a00"/><stop offset="0.333" stop-color="#ff8800"/><stop offset="0.375" stop-color="#ff8400"/><stop offset="0.417" stop-color="#ff7e00"/><stop offset="0.458" stop-color="#ff7700"/><stop offset="0.500" stop-color="#ff7100"/><stop offset="0.542" stop-color="#ff6c00"/><stop offset="0.583" stop-color="#ff6800"/><stop offset="1.000" stop-color="#ff6800"/></linearGradient><clipPath id="p22S1k11"><use href="#p22S1B" y="-7.2"/></clipPath><linearGradient id="p22g2" gradientUnits="userSpaceOnUse" x1="1586" y1="0" x2="2160" y2="0"><stop offset="0.000" stop-color="#ffd000"/><stop offset="0.167" stop-color="#ffd000"/><stop offset="0.208" stop-color="#ffcf00"/><stop offset="0.250" stop-color="#ffaf00"/><stop offset="0.292" stop-color="#ff8a00"/><stop offset="0.333" stop-color="#ff8800"/><stop offset="0.375" stop-color="#ff8400"/><stop offset="0.417" stop-color="#ff7e00"/><stop offset="0.458" stop-color="#ff7700"/><stop offset="0.500" stop-color="#ff7100"/><stop offset="0.542" stop-color="#ff6c00"/><stop offset="0.583" stop-color="#ff6800"/><stop offset="0.625" stop-color="#ff6400"/><stop offset="0.667" stop-color="#ff5100"/><stop offset="0.708" stop-color="#ff3e00"/><stop offset="0.750" stop-color="#ff3700"/><stop offset="0.792" stop-color="#ff3000"/><stop offset="1.000" stop-color="#ff3000"/></linearGradient><clipPath id="p22S1k12"><use href="#p22S1B" y="-8.5"/></clipPath><linearGradient id="p22g3" gradientUnits="userSpaceOnUse" x1="1586" y1="0" x2="2160" y2="0"><stop offset="0.000" stop-color="#ffd000"/><stop offset="0.167" stop-color="#ffd000"/><stop offset="0.208" stop-color="#ffcf00"/><stop offset="0.250" stop-color="#ffaf00"/><stop offset="0.292" stop-color="#ff8a00"/><stop offset="0.333" stop-color="#ff8800"/><stop offset="0.375" stop-color="#ff8400"/><stop offset="0.417" stop-color="#ff7e00"/><stop offset="0.458" stop-color="#ff7700"/><stop offset="0.500" stop-color="#ff7100"/><stop offset="0.542" stop-color="#ff6c00"/><stop offset="0.583" stop-color="#ff6800"/><stop offset="0.625" stop-color="#ff6400"/><stop offset="0.667" stop-color="#ff5100"/><stop offset="0.708" stop-color="#ff3e00"/><stop offset="0.750" stop-color="#ff3700"/><stop offset="0.792" stop-color="#ff2a00"/><stop offset="0.833" stop-color="#ff1e00"/><stop offset="0.875" stop-color="#ff1800"/><stop offset="1.000" stop-color="#ff1800"/></linearGradient><clipPath id="p22S1k13"><use href="#p22S1B" y="-9.8"/></clipPath></defs><g clip-path="url(#p22c)"><rect x="1586" y="1961" width="574" height="205" fill="url(#p22bg)"/><ellipse cx="1615.2" cy="2133.8" rx="35.2" ry="3.5" fill="#000a80" opacity="1.0" filter="url(#bl2)"/><g filter="url(#bl5_5)"><use href="#p22S1" y="-54.4" fill="#0062b8" fill-opacity="0.35"/><use href="#p22S1" y="-38.4" fill="#0070c0" fill-opacity="0.45"/><use href="#p22S1" y="-24" fill="#0088d0" fill-opacity="0.6"/><use href="#p22S1" y="-12.8" fill="#00a8e0" fill-opacity="0.85"/><use href="#p22S1" y="-3" fill="#00c8ee" fill-opacity="1.0"/></g><g filter="url(#bl1_5)"><path d="M1639.9,2217l8,-24.2l8,-25.9l8,-22.2l8,-12.9l8,-4.9l8,-3.6l8,-3l8,-2.6l8,-2.2l8,-1.9l8,-1.5l8,-1.3l8,-1.1l8,-1l8,-0.9l8,-0.8l8,-0.7l8,-0.7l8,-0.6l8,-0.5l8,-0.6l8,-0.5l8,-0.5l8,-0.5l8,-0.4l8,-0.4l8,-0.4l8,-0.4l8,-0.4l8,-0.4l8,-0.4l8,-0.5l8,-0.5l8,-0.5l8,-0.5l8,-0.6l8,-0.6l8,-0.6l8,-0.6l8,-0.6l8,-0.7l8,-0.8l8,-0.9l8,-0.9l8,-0.9l8,-0.9l8,-0.8l8,-0.8l8,-0.7l8,-0.6l8,-0.5l8,-0.6l8,-0.5l8,-0.5l8,-0.5l8,-0.4l8,-0.4l8,-0.4l8,-0.3l8,-0.3l8,-0.3l8,-0.2l8,-0.3l8,-0.3l5.1,-0.2V2426H1639.9Z" fill="#00f0f8"/><g clip-path="url(#p22S1k1)"><path d="M1639.9,2218.2l8,-24.1l8,-26l8,-22.2l8,-12.9l8,-4.8l8,-3.7l8,-3l8,-2.5l8,-2.3l8,-1.8l8,-1.4l8,-1.2l8,-1.1l8,-0.9l8,-0.9l8,-0.7l8,-0.7l8,-0.7l8,-0.6l8,-0.5l8,-0.5l8,-0.5l8,-0.5l8,-0.4l8,-0.5l8,-0.3l8,-0.4l8,-0.4l8,-0.4l8,-0.4l8,-0.4l8,-0.4l8,-0.5l8,-0.5l8,-0.6l8,-0.5l8,-0.6l8,-0.6l8,-0.6l8,-0.6l8,-0.7l8,-0.7l8,-0.9l8,-0.9l8,-0.8l8,-0.9l8,-0.8l8,-0.8l8,-0.7l8,-0.5l8,-0.6l8,-0.5l8,-0.5l8,-0.5l8,-0.5l8,-0.4l8,-0.4l8,-0.3l8,-0.3l8,-0.3l8,-0.3l8,-0.3l8,-0.2l8,-0.3l5.1,-0.2V2426H1639.9Z" fill="#00f8d4"/></g><g clip-path="url(#p22S1k2)"><path d="M1639.9,2219.4l8,-24.1l8,-26l8,-22.1l8,-13l8,-4.8l8,-3.6l8,-3.1l8,-2.5l8,-2.2l8,-1.7l8,-1.4l8,-1.1l8,-1l8,-0.9l8,-0.9l8,-0.7l8,-0.7l8,-0.6l8,-0.6l8,-0.5l8,-0.5l8,-0.4l8,-0.5l8,-0.4l8,-0.4l8,-0.3l8,-0.4l8,-0.4l8,-0.4l8,-0.3l8,-0.5l8,-0.4l8,-0.5l8,-0.5l8,-0.5l8,-0.5l8,-0.6l8,-0.5l8,-0.6l8,-0.7l8,-0.6l8,-0.8l8,-0.8l8,-0.8l8,-0.9l8,-0.9l8,-0.8l8,-0.7l8,-0.7l8,-0.5l8,-0.6l8,-0.5l8,-0.5l8,-0.4l8,-0.5l8,-0.4l8,-0.3l8,-0.4l8,-0.3l8,-0.3l8,-0.3l8,-0.2l8,-0.3l8,-0.3l5.1,-0.1V2426H1639.9Z" fill="#00ffb0"/></g><g clip-path="url(#p22S1k3)"><path d="M1639.9,2220.4l8,-24.1l8,-26l8,-22.2l8,-12.9l8,-4.8l8,-3.7l8,-3l8,-2.5l8,-2.2l8,-1.7l8,-1.3l8,-1.1l8,-0.9l8,-0.9l8,-0.8l8,-0.7l8,-0.7l8,-0.6l8,-0.6l8,-0.4l8,-0.5l8,-0.4l8,-0.4l8,-0.4l8,-0.4l8,-0.4l8,-0.3l8,-0.4l8,-0.4l8,-0.4l8,-0.4l8,-0.4l8,-0.5l8,-0.5l8,-0.5l8,-0.5l8,-0.5l8,-0.6l8,-0.6l8,-0.6l8,-0.6l8,-0.8l8,-0.8l8,-0.8l8,-0.9l8,-0.8l8,-0.8l8,-0.7l8,-0.6l8,-0.6l8,-0.5l8,-0.5l8,-0.5l8,-0.4l8,-0.5l8,-0.4l8,-0.3l8,-0.4l8,-0.3l8,-0.3l8,-0.2l8,-0.3l8,-0.2l8,-0.3l5.1,-0.2V2426H1639.9Z" fill="#18ff80"/></g><g clip-path="url(#p22S1k4)"><path d="M1639.9,2221.4l8,-24.2l8,-25.9l8,-22.2l8,-12.9l8,-4.9l8,-3.6l8,-3l8,-2.6l8,-2.1l8,-1.7l8,-1.2l8,-1l8,-0.9l8,-0.8l8,-0.8l8,-0.8l8,-0.6l8,-0.6l8,-0.5l8,-0.5l8,-0.4l8,-0.4l8,-0.4l8,-0.4l8,-0.4l8,-0.3l8,-0.3l8,-0.4l8,-0.4l8,-0.4l8,-0.4l8,-0.4l8,-0.5l8,-0.4l8,-0.5l8,-0.6l8,-0.5l8,-0.5l8,-0.6l8,-0.6l8,-0.6l8,-0.7l8,-0.8l8,-0.9l8,-0.8l8,-0.8l8,-0.8l8,-0.7l8,-0.6l8,-0.6l8,-0.5l8,-0.5l8,-0.4l8,-0.5l8,-0.4l8,-0.4l8,-0.3l8,-0.3l8,-0.3l8,-0.3l8,-0.3l8,-0.2l8,-0.3l8,-0.3l5.1,-0.2V2426H1639.9Z" fill="#30ff50"/></g><g clip-path="url(#p22S1k5)"><path d="M1639.9,2222.3l8,-24.1l8,-26l8,-22.2l8,-12.9l8,-4.8l8,-3.6l8,-3.1l8,-2.5l8,-2.1l8,-1.6l8,-1.2l8,-0.9l8,-0.9l8,-0.7l8,-0.9l8,-0.7l8,-0.7l8,-0.5l8,-0.5l8,-0.5l8,-0.4l8,-0.3l8,-0.4l8,-0.4l8,-0.3l8,-0.3l8,-0.4l8,-0.3l8,-0.4l8,-0.4l8,-0.4l8,-0.4l8,-0.5l8,-0.4l8,-0.5l8,-0.5l8,-0.5l8,-0.6l8,-0.5l8,-0.6l8,-0.6l8,-0.7l8,-0.8l8,-0.8l8,-0.8l8,-0.8l8,-0.8l8,-0.7l8,-0.6l8,-0.5l8,-0.5l8,-0.5l8,-0.5l8,-0.4l8,-0.4l8,-0.4l8,-0.3l8,-0.3l8,-0.3l8,-0.3l8,-0.3l8,-0.2l8,-0.3l8,-0.2l5.1,-0.2V2426H1639.9Z" fill="#78ff28"/></g><g clip-path="url(#p22S1k6)"><path d="M1639.9,2223.3l8,-24.2l8,-25.9l8,-22.2l8,-12.9l8,-4.8l8,-3.7l8,-3l8,-2.6l8,-2.1l8,-1.5l8,-1.1l8,-0.9l8,-0.7l8,-0.8l8,-0.8l8,-0.7l8,-0.7l8,-0.5l8,-0.5l8,-0.4l8,-0.4l8,-0.3l8,-0.4l8,-0.3l8,-0.3l8,-0.3l8,-0.4l8,-0.3l8,-0.4l8,-0.4l8,-0.4l8,-0.4l8,-0.4l8,-0.5l8,-0.5l8,-0.5l8,-0.5l8,-0.5l8,-0.6l8,-0.5l8,-0.6l8,-0.7l8,-0.8l8,-0.8l8,-0.8l8,-0.8l8,-0.7l8,-0.7l8,-0.6l8,-0.5l8,-0.5l8,-0.4l8,-0.5l8,-0.4l8,-0.4l8,-0.4l8,-0.3l8,-0.3l8,-0.3l8,-0.3l8,-0.2l8,-0.3l8,-0.2l8,-0.3l5.1,-0.2V2426H1639.9Z" fill="#c0ff00"/></g><g clip-path="url(#p22S1k7)"><path d="M1639.9,2224.1l8,-24.2l8,-25.9l8,-22.2l8,-12.9l8,-4.8l8,-3.7l8,-3l8,-2.6l8,-2l8,-1.6l8,-1l8,-0.8l8,-0.7l8,-0.8l8,-0.8l8,-0.7l8,-0.6l8,-0.5l8,-0.5l8,-0.4l8,-0.4l8,-0.3l8,-0.3l8,-0.3l8,-0.3l8,-0.3l8,-0.3l8,-0.4l8,-0.4l8,-0.3l8,-0.4l8,-0.5l8,-0.4l8,-0.5l8,-0.4l8,-0.5l8,-0.5l8,-0.5l8,-0.6l8,-0.5l8,-0.6l8,-0.7l8,-0.7l8,-0.8l8,-0.8l8,-0.8l8,-0.7l8,-0.7l8,-0.6l8,-0.5l8,-0.4l8,-0.5l8,-0.4l8,-0.4l8,-0.4l8,-0.4l8,-0.3l8,-0.3l8,-0.3l8,-0.2l8,-0.3l8,-0.3l8,-0.2l8,-0.3l5.1,-0.2V2426H1639.9Z" fill="#e0ff00"/></g><g clip-path="url(#p22S1k8)"><path d="M1639.9,2224.9l8,-24.2l8,-25.9l8,-22.2l8,-12.9l8,-4.8l8,-3.7l8,-3l8,-2.6l8,-2l8,-1.5l8,-1l8,-0.7l8,-0.7l8,-0.7l8,-0.8l8,-0.7l8,-0.7l8,-0.5l8,-0.4l8,-0.4l8,-0.3l8,-0.3l8,-0.3l8,-0.3l8,-0.3l8,-0.3l8,-0.3l8,-0.4l8,-0.3l8,-0.4l8,-0.4l8,-0.4l8,-0.4l8,-0.5l8,-0.5l8,-0.4l8,-0.5l8,-0.5l8,-0.6l8,-0.5l8,-0.6l8,-0.6l8,-0.8l8,-0.8l8,-0.7l8,-0.8l8,-0.7l8,-0.7l8,-0.5l8,-0.5l8,-0.5l8,-0.4l8,-0.5l8,-0.3l8,-0.4l8,-0.4l8,-0.3l8,-0.3l8,-0.3l8,-0.2l8,-0.3l8,-0.2l8,-0.3l8,-0.3l5.1,-0.1V2426H1639.9Z" fill="#ffff00"/></g><g clip-path="url(#p22S1k9)"><path d="M1639.9,2225.9l8,-24.1l8,-26l8,-22.2l8,-12.9l8,-4.8l8,-3.6l8,-3.1l8,-2.5l8,-2.1l8,-1.4l8,-0.9l8,-0.7l8,-0.6l8,-0.7l8,-0.8l8,-0.7l8,-0.6l8,-0.5l8,-0.4l8,-0.3l8,-0.3l8,-0.3l8,-0.3l8,-0.3l8,-0.2l8,-0.3l8,-0.3l8,-0.3l8,-0.4l8,-0.4l8,-0.4l8,-0.4l8,-0.4l8,-0.5l8,-0.4l8,-0.5l8,-0.4l8,-0.5l8,-0.5l8,-0.6l8,-0.5l8,-0.7l8,-0.7l8,-0.8l8,-0.7l8,-0.8l8,-0.7l8,-0.6l8,-0.6l8,-0.5l8,-0.4l8,-0.4l8,-0.4l8,-0.4l8,-0.4l8,-0.3l8,-0.3l8,-0.3l8,-0.3l8,-0.2l8,-0.3l8,-0.2l8,-0.3l8,-0.3l5.1,-0.2V2426H1639.9Z" fill="#ffd000"/></g><g clip-path="url(#p22S1k10)"><path d="M1639.9,2227l8,-24.2l8,-25.9l8,-22.2l8,-12.9l8,-4.9l8,-3.6l8,-3l8,-2.6l8,-2l8,-1.4l8,-0.8l8,-0.6l8,-0.6l8,-0.6l8,-0.8l8,-0.7l8,-0.6l8,-0.4l8,-0.4l8,-0.4l8,-0.2l8,-0.3l8,-0.2l8,-0.3l8,-0.2l8,-0.3l8,-0.3l8,-0.3l8,-0.4l8,-0.4l8,-0.3l8,-0.5l8,-0.4l8,-0.4l8,-0.4l8,-0.5l8,-0.5l8,-0.4l8,-0.5l8,-0.6l8,-0.5l8,-0.6l8,-0.7l8,-0.8l8,-0.7l8,-0.8l8,-0.7l8,-0.6l8,-0.5l8,-0.5l8,-0.4l8,-0.4l8,-0.4l8,-0.4l8,-0.3l8,-0.4l8,-0.3l8,-0.2l8,-0.3l8,-0.3l8,-0.2l8,-0.2l8,-0.3l8,-0.3l5.1,-0.2V2426H1639.9Z" fill="url(#p22g0)"/></g><g clip-path="url(#p22S1k11)"><path d="M1639.9,2227.8l8,-24.2l8,-25.9l8,-22.2l8,-12.9l8,-4.9l8,-3.6l8,-3l8,-2.6l8,-2l8,-1.3l8,-0.8l8,-0.6l8,-0.5l8,-0.6l8,-0.7l8,-0.7l8,-0.6l8,-0.5l8,-0.3l8,-0.4l8,-0.2l8,-0.2l8,-0.3l8,-0.2l8,-0.2l8,-0.3l8,-0.2l8,-0.4l8,-0.4l8,-0.3l8,-0.4l8,-0.4l8,-0.4l8,-0.4l8,-0.5l8,-0.4l8,-0.5l8,-0.5l8,-0.4l8,-0.5l8,-0.6l8,-0.6l8,-0.7l8,-0.7l8,-0.8l8,-0.7l8,-0.7l8,-0.6l8,-0.5l8,-0.4l8,-0.5l8,-0.4l8,-0.3l8,-0.4l8,-0.3l8,-0.4l8,-0.3l8,-0.2l8,-0.3l8,-0.2l8,-0.3l8,-0.2l8,-0.3l8,-0.3l5.1,-0.1V2426H1639.9Z" fill="url(#p22g1)"/></g><g clip-path="url(#p22S1k12)"><path d="M1639.9,2228.6l8,-24.2l8,-25.9l8,-22.2l8,-12.9l8,-4.9l8,-3.6l8,-3l8,-2.6l8,-2l8,-1.3l8,-0.7l8,-0.5l8,-0.4l8,-0.6l8,-0.8l8,-0.7l8,-0.5l8,-0.5l8,-0.4l8,-0.2l8,-0.3l8,-0.2l8,-0.2l8,-0.2l8,-0.2l8,-0.2l8,-0.3l8,-0.4l8,-0.3l8,-0.4l8,-0.4l8,-0.4l8,-0.4l8,-0.4l8,-0.4l8,-0.5l8,-0.4l8,-0.5l8,-0.4l8,-0.5l8,-0.6l8,-0.6l8,-0.6l8,-0.8l8,-0.7l8,-0.7l8,-0.7l8,-0.6l8,-0.5l8,-0.4l8,-0.4l8,-0.4l8,-0.4l8,-0.3l8,-0.4l8,-0.3l8,-0.3l8,-0.2l8,-0.3l8,-0.2l8,-0.3l8,-0.2l8,-0.3l8,-0.2l5.1,-0.2V2426H1639.9Z" fill="url(#p22g2)"/></g><g clip-path="url(#p22S1k13)"><path d="M1639.9,2229.4l8,-24.2l8,-25.9l8,-22.2l8,-12.9l8,-4.9l8,-3.6l8,-3l8,-2.6l8,-1.9l8,-1.3l8,-0.7l8,-0.4l8,-0.4l8,-0.6l8,-0.8l8,-0.6l8,-0.6l8,-0.4l8,-0.4l8,-0.2l8,-0.2l8,-0.2l8,-0.2l8,-0.2l8,-0.2l8,-0.2l8,-0.3l8,-0.3l8,-0.4l8,-0.4l8,-0.3l8,-0.4l8,-0.4l8,-0.4l8,-0.5l8,-0.4l8,-0.4l8,-0.5l8,-0.4l8,-0.5l8,-0.5l8,-0.6l8,-0.7l8,-0.7l8,-0.7l8,-0.7l8,-0.7l8,-0.6l8,-0.5l8,-0.4l8,-0.4l8,-0.4l8,-0.3l8,-0.4l8,-0.3l8,-0.3l8,-0.3l8,-0.2l8,-0.3l8,-0.2l8,-0.2l8,-0.3l8,-0.2l8,-0.3l5.1,-0.2V2426H1639.9Z" fill="url(#p22g3)"/></g></g><path d="M1586,2136.6 L1580,2136.6 L1685.7,2136.6 L1791.5,2142.6 L2158.1,2142.6 L2160,2142.6 L2160,2166 L1586,2166 Z" fill="#0052ae"/></g>
<defs><clipPath id="p30c"><rect x="382" y="2197" width="575" height="203"/></clipPath><linearGradient id="p30bg" x1="0" y1="0" x2="0" y2="1"><stop offset="0" stop-color="#0046a8"/><stop offset="0.5" stop-color="#0048a8"/><stop offset="1" stop-color="#0050b0"/></linearGradient><path id="p30S1" d="M404.7,2427.9l4,-11l4,-11.8l4,-11.6l4,-10.2l4,-7.7l4,-4.9l4,-3.7l4,-2.7l4,-2.3l4,-2l4,-1.8l4,-1.4l4,-1l4,-0.6l4,-0.6l4,-0.5l4,-0.4l4,-0.4l4,-0.2l4,-0.2l4,-0.1l4,-0.1l4,-0.1l4,0l4,-0.1l4,0l4,0l4,-0.1l4,0l4,0l4,-0.1l4,0l4,-0.1l4,-0.1l4,-0.1l4,-0.2l4,-0.2l4,-0.3l4,-0.2l4,-0.3l4,-0.4l4,-0.3l4,-0.4l4,-0.4l4,-0.6l4,-0.6l4,-0.8l4,-0.8l4,-0.7l4,-0.7l4,-0.7l4,-0.5l4,-0.6l4,-0.6l4,-0.6l4,-0.5l4,-0.4l4,-0.2l4,-0.1l4,0l4,0.3l4,0.3l4,0.5l4,0.6l4,0.6l4,0.6l4,0.6l4,0.7l4,1l4,1l4,1.1l4,1.1l4,1l4,0.9l4,1l4,0.9l4,0.6l4,0.3l4,0.1l4,0.2l4,0.1l4,0.1l4,0.1l4,0.1l4,0.1l4,0l4,0.1l4,0l4,0l4,0.1l4,0l4,0l4,-0.1l4,0l4,0l4,0l4,0l4,-0.1l4,0l4,0l4,-0.1l4,0l4,0l4,0l4,-0.1l4,0l4,0l4,0l4,0l4,0l4,0.1l4,0l4,0.1l4,0l4,0.1l4,0.1l4,0.1l4,0.1l4,0.1l4,0.2l4,0.1l4,0.1l4,0.2l4,0.3l4,0.3l4,0.3l4,0.4l4,0.5l4,0.6l4,0.6l4,0.8l4,1.1l4,1.6l4,2l4,2.3l4,4l2.4,2.6V2660H404.7Z"/><path id="p30S1B" d="M384.7,2376.8l20,0l4,0l4,0l4,0l4,0l4,0l4,0l4,0l4,0l4,0l4,0l4,0l4,0l4,0l4,0l4,0l4,0l4,0l4,0l4,0l4,0l4,0l4,0l4,0l4,0l4,0l4,0l4,0l4,0l4,0l4,0l4,0l4,0l4,0l4,0l4,0l4,0l4,0l4,0l4,0l4,0l4,0l4,0l4,0l4,0l4,0l4,0l4,0l4,0l4,0l4,0l4,0l4,0l4,0l4,0l4,0l4,0l4,0l4,0l4,0l4,0l4,0l4,0l4,0l4,0l4,0l4,0l4,0l4,0l4,0l4,0l4,0l4,0l4,0l4,0l4,0l4,0l4,0l4,0l4,0l4,0l4,0l4,0l4,0l4,0l4,0l4,0l4,0l4,0l4,0l4,0l4,0l4,0l4,0l4,0l4,0l4,0l4,0l4,0l4,0l4,0l4,0l4,0l4,0l4,0l4,0l4,0l4,0l4,0l4,0l4,0l4,0l4,0l4,0l4,0l4,0l4,0l4,0l4,0l4,0l4,0l4,0l4,0l4,0l4,0l4,0l4,0l4,0l4,0l4,0l4,0l4,0l4,0l4,0l4,0l4,0l4,0l2.4,0l20,0V1897H384.7Z"/><clipPath id="p30S1k1"><use href="#p30S1B" y="-0.3"/></clipPath><clipPath id="p30S1k2"><use href="#p30S1B" y="-0.6"/></clipPath><clipPath id="p30S1k3"><use href="#p30S1B" y="-1.3"/></clipPath><clipPath id="p30S1k4"><use href="#p30S1B" y="-2"/></clipPath><linearGradient id="p30g0" gradientUnits="userSpaceOnUse" x1="382" y1="0" x2="957" y2="0"><stop offset="0.000" stop-color="#4dff40"/><stop offset="0.083" stop-color="#4dff40"/><stop offset="0.125" stop-color="#78ff28"/><stop offset="0.917" stop-color="#78ff28"/><stop offset="0.958" stop-color="#4dff40"/><stop offset="1.000" stop-color="#4dff40"/></linearGradient><clipPath id="p30S1k5"><use href="#p30S1B" y="-3"/></clipPath><linearGradient id="p30g1" gradientUnits="userSpaceOnUse" x1="382" y1="0" x2="957" y2="0"><stop offset="0.000" stop-color="#4dff40"/><stop offset="0.083" stop-color="#4dff40"/><stop offset="0.125" stop-color="#c0ff00"/><stop offset="0.917" stop-color="#c0ff00"/><stop offset="0.958" stop-color="#4dff40"/><stop offset="1.000" stop-color="#4dff40"/></linearGradient><clipPath id="p30S1k6"><use href="#p30S1B" y="-4"/></clipPath><linearGradient id="p30g2" gradientUnits="userSpaceOnUse" x1="382" y1="0" x2="957" y2="0"><stop offset="0.000" stop-color="#4dff40"/><stop offset="0.083" stop-color="#4dff40"/><stop offset="0.125" stop-color="#e0ff00"/><stop offset="0.875" stop-color="#e0ff00"/><stop offset="0.917" stop-color="#ccff00"/><stop offset="0.958" stop-color="#4dff40"/><stop offset="1.000" stop-color="#4dff40"/></linearGradient><clipPath id="p30S1k7"><use href="#p30S1B" y="-5.4"/></clipPath><linearGradient id="p30g3" gradientUnits="userSpaceOnUse" x1="382" y1="0" x2="957" y2="0"><stop offset="0.000" stop-color="#4dff40"/><stop offset="0.083" stop-color="#4dff40"/><stop offset="0.125" stop-color="#faff00"/><stop offset="0.167" stop-color="#ffff00"/><stop offset="0.875" stop-color="#ffff00"/><stop offset="0.917" stop-color="#ccff00"/><stop offset="0.958" stop-color="#4dff40"/><stop offset="1.000" stop-color="#4dff40"/></linearGradient><clipPath id="p30S1k8"><use href="#p30S1B" y="-6.8"/></clipPath><linearGradient id="p30g4" gradientUnits="userSpaceOnUse" x1="382" y1="0" x2="957" y2="0"><stop offset="0.000" stop-color="#4dff40"/><stop offset="0.083" stop-color="#4dff40"/><stop offset="0.125" stop-color="#faff00"/><stop offset="0.167" stop-color="#ffd100"/><stop offset="0.208" stop-color="#ffd200"/><stop offset="0.250" stop-color="#ffec00"/><stop offset="0.333" stop-color="#ffec00"/><stop offset="0.375" stop-color="#ffd000"/><stop offset="0.417" stop-color="#ffd000"/><stop offset="0.458" stop-color="#ffde00"/><stop offset="0.500" stop-color="#ffe500"/><stop offset="0.542" stop-color="#fff100"/><stop offset="0.583" stop-color="#fffc00"/><stop offset="0.625" stop-color="#ffff00"/><stop offset="0.875" stop-color="#ffff00"/><stop offset="0.917" stop-color="#ccff00"/><stop offset="0.958" stop-color="#4dff40"/><stop offset="1.000" stop-color="#4dff40"/></linearGradient><clipPath id="p30S1k9"><use href="#p30S1B" y="-10.4"/></clipPath></defs><g clip-path="url(#p30c)"><rect x="382" y="2197" width="575" height="203" fill="url(#p30bg)"/><ellipse cx="531.6" cy="2236.5" rx="21.1" ry="4.6" fill="#20d0f0" opacity="0.9" filter="url(#bl4)"/><ellipse cx="670.8" cy="2249.2" rx="13.4" ry="5.6" fill="#20d8f0" opacity="0.9" filter="url(#bl4)"/><ellipse cx="760.7" cy="2309.8" rx="31.7" ry="45.8" fill="#10a0d8" opacity="0.45" filter="url(#bl20)" transform="rotate(25 760.7 2309.8)"/><ellipse cx="394.1" cy="2371.5" rx="21.1" ry="5.3" fill="#000a80" opacity="1.0" filter="url(#bl3)"/><ellipse cx="940.5" cy="2373.3" rx="17.6" ry="3.5" fill="#000a80" opacity="1.0" filter="url(#bl2)"/><g filter="url(#bl3)"><use href="#p30S1" y="-30.6" fill="#0062b8" fill-opacity="0.35"/><use href="#p30S1" y="-21.6" fill="#0070c0" fill-opacity="0.45"/><use href="#p30S1" y="-13.5" fill="#0088d0" fill-opacity="0.6"/><use href="#p30S1" y="-7.2" fill="#00a8e0" fill-opacity="0.85"/><use href="#p30S1" y="-3" fill="#00c8ee" fill-opacity="1.0"/></g><g filter="url(#bl1)"><use href="#p30S1" y="0" fill="#00f0f8"/><g clip-path="url(#p30S1k1)"><use href="#p30S1" y="1.7" fill="#00f8d4"/></g><g clip-path="url(#p30S1k2)"><use href="#p30S1" y="3.4" fill="#00ffb0"/></g><g clip-path="url(#p30S1k3)"><use href="#p30S1" y="4.7" fill="#18ff80"/></g><g clip-path="url(#p30S1k4)"><use href="#p30S1" y="6" fill="#30ff50"/></g><g clip-path="url(#p30S1k5)"><use href="#p30S1" y="7.3" fill="url(#p30g0)"/></g><g clip-path="url(#p30S1k6)"><use href="#p30S1" y="8.6" fill="url(#p30g1)"/></g><g clip-path="url(#p30S1k7)"><use href="#p30S1" y="9.7" fill="url(#p30g2)"/></g><g clip-path="url(#p30S1k8)"><use href="#p30S1" y="10.8" fill="url(#p30g3)"/></g><g clip-path="url(#p30S1k9)"><use href="#p30S1" y="12.2" fill="url(#p30g4)"/></g></g><path d="M382,2376.8 L380,2376.8 L958.1,2377.5 L957,2377.5 L957,2400 L382,2400 Z" fill="#0052ae"/></g>
<defs><clipPath id="p31c"><rect x="984" y="2197" width="575" height="203"/></clipPath><linearGradient id="p31bg" x1="0" y1="0" x2="0" y2="1"><stop offset="0" stop-color="#0048aa"/><stop offset="0.5" stop-color="#004aaa"/><stop offset="1" stop-color="#0056b2"/></linearGradient><path id="p31S1" d="M984,2375.8l4,-2.7l4,-2.6l4,-2.3l4,-2.3l4,-2.3l4,-2.1l4,-1.9l4,-1.7l4,-1.3l4,-1.2l4,-1.1l4,-1.1l4,-0.9l4,-0.9l4,-0.8l4,-0.6l4,-0.6l4,-0.5l4,-0.5l4,-0.4l4,-0.4l4,-0.3l4,-0.4l4,-0.3l4,-0.3l4,-0.3l4,-0.3l4,-0.2l4,-0.3l4,-0.3l4,-0.2l4,-0.3l4,-0.3l4,-0.3l4,-0.3l4,-0.3l4,-0.3l4,-0.4l4,-0.3l4,-0.3l4,-0.3l4,-0.3l4,-0.3l4,-0.3l4,-0.3l4,-0.3l4,-0.3l4,-0.3l4,-0.3l4,-0.3l4,-0.3l4,-0.4l4,-0.3l4,-0.3l4,-0.4l4,-0.3l4,-0.4l4,-0.3l4,-0.4l4,-0.3l4,-0.4l4,-0.4l4,-0.4l4,-0.5l4,-0.6l4,-0.6l4,-0.5l4,-0.5l4,-0.4l4,-0.2l4,0l4,0.2l4,0.3l4,0.4l4,0.6l4,0.5l4,0.6l4,0.7l4,1.1l4,1.3l4,1.6l4,1.5l4,1.4l4,1.1l4,0.8l4,0.2l4,0l4,0l4,-0.1l4,0l4,-0.1l4,-0.1l4,-0.1l4,-0.1l4,-0.1l4,-0.1l4,-0.2l4,-0.1l4,-0.1l4,-0.2l4,-0.1l4,-0.2l4,-0.1l4,-0.2l4,-0.1l4,-0.2l4,-0.3l4,-0.2l4,-0.2l4,-0.3l4,-0.2l4,-0.3l4,-0.3l4,-0.2l4,-0.3l4,-0.3l4,-0.3l4,-0.3l4,-0.2l4,-0.3l4,-0.3l4,-0.2l4,-0.3l4,-0.2l4,-0.3l4,-0.3l4,-0.3l4,-0.2l4,-0.3l4,-0.3l4,-0.2l4,-0.3l4,-0.3l4,-0.3l4,-0.3l4,-0.2l4,-0.3l4,-0.3l4,-0.3l4,-0.2l4,-0.3l4,-0.3l4,-0.3V2660H984Z"/><path id="p31S1B" d="M964,2375.1l20,0l4,0l4,0l4,0l4,0l4,0l4,0l4,0l4,0l4,0l4,0l4,0l4,0l4,0l4,0l4,0l4,0l4,0l4,0l4,0l4,0l4,0l4,0l4,0l4,0l4,0l4,0l4,0l4,0l4,0l4,0l4,0l4,0l4,0l4,0l4,0l4,0l4,0l4,0l4,0l4,0l4,0l4,0l4,0l4,0l4,0l4,0l4,0l4,0l4,0l4,0l4,0l4,0l4,0l4,0l4,0l4,0l4,0l4,0l4,0l4,0l4,0l4,0l4,0l4,0l4,0l4,0l4,0l4,0l4,0l4,0l4,0l4,0l4,0l4,0l4,0l4,0l4,0l4,0l4,0l4,0l4,0l4,0l4,0l4,0l4,0l4,0l4,0l4,0l4,0l4,0l4,0l4,0l4,0l4,0l4,0l4,0l4,0l4,0l4,0l4,0l4,0l4,0l4,0l4,0l4,0l4,0l4,0l4,0l4,0l4,0l4,0l4,0l4,0l4,0l4,0l4,0l4,0l4,0l4,0l4,0l4,0l4,0l4,0l4,0l4,0l4,0l4,0l4,0l4,0l4,0l4,0l4,0l4,0l4,0l4,0l4,0l4,0l4,0l4,0l4,0l4,0l4,0l4,0l20,0V1897H964Z"/><clipPath id="p31S1k1"><use href="#p31S1B" y="-0.1"/></clipPath><clipPath id="p31S1k2"><use href="#p31S1B" y="-0.2"/></clipPath><clipPath id="p31S1k3"><use href="#p31S1B" y="-0.5"/></clipPath><clipPath id="p31S1k4"><use href="#p31S1B" y="-0.8"/></clipPath><clipPath id="p31S1k5"><use href="#p31S1B" y="-1.2"/></clipPath><clipPath id="p31S1k6"><use href="#p31S1B" y="-1.6"/></clipPath><clipPath id="p31S1k7"><use href="#p31S1B" y="-2.2"/></clipPath><clipPath id="p31S1k8"><use href="#p31S1B" y="-2.7"/></clipPath><linearGradient id="p31g0" gradientUnits="userSpaceOnUse" x1="984" y1="0" x2="1559" y2="0"><stop offset="0.000" stop-color="#ffff00"/><stop offset="0.042" stop-color="#fff600"/><stop offset="0.083" stop-color="#ffd000"/><stop offset="0.458" stop-color="#ffd000"/><stop offset="0.500" stop-color="#ffde00"/><stop offset="0.542" stop-color="#ffde00"/><stop offset="0.583" stop-color="#ffd200"/><stop offset="0.625" stop-color="#ffd000"/><stop offset="1.000" stop-color="#ffd000"/></linearGradient><clipPath id="p31S1k9"><use href="#p31S1B" y="-4.2"/></clipPath><linearGradient id="p31g1" gradientUnits="userSpaceOnUse" x1="984" y1="0" x2="1559" y2="0"><stop offset="0.000" stop-color="#ffff00"/><stop offset="0.042" stop-color="#fff600"/><stop offset="0.083" stop-color="#ffc200"/><stop offset="0.125" stop-color="#ffa900"/><stop offset="0.167" stop-color="#ffa800"/><stop offset="0.208" stop-color="#ffa500"/><stop offset="0.250" stop-color="#ffa200"/><stop offset="0.292" stop-color="#ffa000"/><stop offset="0.417" stop-color="#ffa000"/><stop offset="0.458" stop-color="#ffb100"/><stop offset="0.500" stop-color="#ffde00"/><stop offset="0.542" stop-color="#ffde00"/><stop offset="0.583" stop-color="#ffd200"/><stop offset="0.625" stop-color="#ffc800"/><stop offset="0.667" stop-color="#ffa000"/><stop offset="1.000" stop-color="#ffa000"/></linearGradient><clipPath id="p31S1k10"><use href="#p31S1B" y="-5.6"/></clipPath><linearGradient id="p31g2" gradientUnits="userSpaceOnUse" x1="984" y1="0" x2="1559" y2="0"><stop offset="0.000" stop-color="#ffff00"/><stop offset="0.042" stop-color="#fff600"/><stop offset="0.083" stop-color="#ffc200"/><stop offset="0.125" stop-color="#ffa900"/><stop offset="0.167" stop-color="#ffa800"/><stop offset="0.208" stop-color="#ffa500"/><stop offset="0.250" stop-color="#ffa200"/><stop offset="0.292" stop-color="#ff9e00"/><stop offset="0.333" stop-color="#ff9900"/><stop offset="0.375" stop-color="#ff9600"/><stop offset="0.417" stop-color="#ff9500"/><stop offset="0.458" stop-color="#ffb100"/><stop offset="0.500" stop-color="#ffde00"/><stop offset="0.542" stop-color="#ffde00"/><stop offset="0.583" stop-color="#ffd200"/><stop offset="0.625" stop-color="#ffc800"/><stop offset="0.667" stop-color="#ff9f00"/><stop offset="0.708" stop-color="#ff8900"/><stop offset="0.750" stop-color="#ff7800"/><stop offset="0.792" stop-color="#ff6800"/><stop offset="1.000" stop-color="#ff6800"/></linearGradient><clipPath id="p31S1k11"><use href="#p31S1B" y="-6.8"/></clipPath><linearGradient id="p31g3" gradientUnits="userSpaceOnUse" x1="984" y1="0" x2="1559" y2="0"><stop offset="0.000" stop-color="#ffff00"/><stop offset="0.042" stop-color="#fff600"/><stop offset="0.083" stop-color="#ffc200"/><stop offset="0.125" stop-color="#ffa900"/><stop offset="0.167" stop-color="#ffa800"/><stop offset="0.208" stop-color="#ffa500"/><stop offset="0.250" stop-color="#ffa200"/><stop offset="0.292" stop-color="#ff9e00"/><stop offset="0.333" stop-color="#ff9900"/><stop offset="0.375" stop-color="#ff9600"/><stop offset="0.417" stop-color="#ff9500"/><stop offset="0.458" stop-color="#ffb100"/><stop offset="0.500" stop-color="#ffde00"/><stop offset="0.542" stop-color="#ffde00"/><stop offset="0.583" stop-color="#ffd200"/><stop offset="0.625" stop-color="#ffc800"/><stop offset="0.667" stop-color="#ff9f00"/><stop offset="0.708" stop-color="#ff8900"/><stop offset="0.750" stop-color="#ff7800"/><stop offset="0.792" stop-color="#ff5d00"/><stop offset="0.833" stop-color="#ff4900"/><stop offset="0.875" stop-color="#ff4100"/><stop offset="0.917" stop-color="#ff3000"/><stop offset="1.000" stop-color="#ff3000"/></linearGradient><clipPath id="p31S1k12"><use href="#p31S1B" y="-8"/></clipPath></defs><g clip-path="url(#p31c)"><rect x="984" y="2197" width="575" height="203" fill="url(#p31bg)"/><ellipse cx="1247.9" cy="2264" rx="14.1" ry="81.1" fill="#1070c0" opacity="0.6" filter="url(#bl10)" transform="rotate(-14 1247.9 2264)"/><ellipse cx="1473.5" cy="2218.2" rx="88.1" ry="17.6" fill="#0060b8" opacity="0.5" filter="url(#bl14)" transform="rotate(15 1473.5 2218.2)"/><ellipse cx="1142.1" cy="2234.8" rx="13.4" ry="7.8" fill="#30e8f8" opacity="1.0" filter="url(#bl4)"/><ellipse cx="1272.6" cy="2247.1" rx="14.1" ry="8.5" fill="#30e8f8" opacity="1.0" filter="url(#bl4)"/><g filter="url(#bl4_5)"><use href="#p31S1" y="-44.2" fill="#0062b8" fill-opacity="0.35"/><use href="#p31S1" y="-31.2" fill="#0070c0" fill-opacity="0.45"/><use href="#p31S1" y="-19.5" fill="#0088d0" fill-opacity="0.6"/><use href="#p31S1" y="-10.4" fill="#00a8e0" fill-opacity="0.85"/><use href="#p31S1" y="-3" fill="#00c8ee" fill-opacity="1.0"/></g><g filter="url(#bl1_5)"><path d="M984,2375.8l8,-5.3l8,-4.6l8,-4.4l8,-3.6l8,-2.5l8,-2.2l8,-1.8l8,-1.4l8,-1.1l8,-0.9l8,-0.7l8,-0.7l8,-0.6l8,-0.5l8,-0.6l8,-0.5l8,-0.6l8,-0.6l8,-0.7l8,-0.6l8,-0.6l8,-0.6l8,-0.6l8,-0.6l8,-0.6l8,-0.7l8,-0.6l8,-0.7l8,-0.7l8,-0.7l8,-0.8l8,-0.9l8,-1.2l8,-1l8,-0.6l8,0.2l8,0.7l8,1.1l8,1.3l8,2.4l8,3.1l8,2.5l8,1l8,0l8,-0.1l8,-0.2l8,-0.2l8,-0.2l8,-0.3l8,-0.3l8,-0.3l8,-0.3l8,-0.3l8,-0.5l8,-0.5l8,-0.5l8,-0.5l8,-0.6l8,-0.6l8,-0.5l8,-0.5l8,-0.5l8,-0.6l8,-0.5l8,-0.6l8,-0.5l8,-0.6l8,-0.5l8,-0.6l8,-0.5l8,-0.6l4,-0.3V2660H984Z" fill="#00f0f8"/><g clip-path="url(#p31S1k1)"><path d="M984,2376.9l8,-5.2l8,-4.7l8,-4.3l8,-3.5l8,-2.5l8,-2l8,-1.8l8,-1.4l8,-1l8,-0.9l8,-0.7l8,-0.7l8,-0.6l8,-0.5l8,-0.5l8,-0.6l8,-0.5l8,-0.6l8,-0.6l8,-0.6l8,-0.6l8,-0.6l8,-0.6l8,-0.6l8,-0.6l8,-0.7l8,-0.6l8,-0.7l8,-0.7l8,-0.7l8,-0.8l8,-0.9l8,-1.2l8,-1l8,-0.5l8,0.1l8,0.8l8,1.1l8,1.3l8,2.4l8,3.1l8,2.5l8,1l8,0l8,-0.1l8,-0.1l8,-0.2l8,-0.3l8,-0.2l8,-0.3l8,-0.3l8,-0.3l8,-0.3l8,-0.4l8,-0.5l8,-0.5l8,-0.6l8,-0.5l8,-0.6l8,-0.5l8,-0.5l8,-0.5l8,-0.6l8,-0.5l8,-0.5l8,-0.6l8,-0.5l8,-0.6l8,-0.5l8,-0.6l8,-0.6l4,-0.2V2660H984Z" fill="#00f8d4"/></g><g clip-path="url(#p31S1k2)"><path d="M984,2378.1l8,-5.3l8,-4.7l8,-4.3l8,-3.4l8,-2.3l8,-2l8,-1.6l8,-1.4l8,-1l8,-0.9l8,-0.8l8,-0.6l8,-0.6l8,-0.5l8,-0.5l8,-0.5l8,-0.5l8,-0.6l8,-0.6l8,-0.6l8,-0.5l8,-0.6l8,-0.6l8,-0.6l8,-0.6l8,-0.7l8,-0.6l8,-0.7l8,-0.7l8,-0.7l8,-0.8l8,-0.9l8,-1.1l8,-1.1l8,-0.5l8,0.2l8,0.7l8,1.1l8,1.3l8,2.5l8,3.1l8,2.5l8,1.1l8,-0.1l8,0l8,-0.2l8,-0.2l8,-0.2l8,-0.2l8,-0.3l8,-0.3l8,-0.2l8,-0.4l8,-0.4l8,-0.5l8,-0.5l8,-0.5l8,-0.6l8,-0.5l8,-0.5l8,-0.5l8,-0.5l8,-0.6l8,-0.5l8,-0.5l8,-0.6l8,-0.5l8,-0.6l8,-0.5l8,-0.6l8,-0.5l4,-0.3V2660H984Z" fill="#00ffb0"/></g><g clip-path="url(#p31S1k3)"><path d="M984,2378.9l8,-5.2l8,-4.7l8,-4.2l8,-3.4l8,-2.3l8,-1.9l8,-1.5l8,-1.4l8,-1l8,-0.9l8,-0.7l8,-0.6l8,-0.6l8,-0.5l8,-0.5l8,-0.5l8,-0.5l8,-0.6l8,-0.6l8,-0.5l8,-0.6l8,-0.5l8,-0.6l8,-0.6l8,-0.6l8,-0.7l8,-0.6l8,-0.7l8,-0.7l8,-0.7l8,-0.8l8,-0.9l8,-1.1l8,-1l8,-0.6l8,0.2l8,0.8l8,1.1l8,1.3l8,2.5l8,3l8,2.6l8,1l8,0l8,0l8,-0.2l8,-0.1l8,-0.3l8,-0.2l8,-0.2l8,-0.3l8,-0.3l8,-0.3l8,-0.4l8,-0.5l8,-0.5l8,-0.5l8,-0.5l8,-0.6l8,-0.5l8,-0.5l8,-0.5l8,-0.5l8,-0.5l8,-0.6l8,-0.5l8,-0.6l8,-0.5l8,-0.6l8,-0.5l8,-0.6l4,-0.2V2660H984Z" fill="#18ff80"/></g><g clip-path="url(#p31S1k4)"><path d="M984,2379.8l8,-5.3l8,-4.6l8,-4.2l8,-3.3l8,-2.2l8,-1.8l8,-1.6l8,-1.2l8,-1.1l8,-0.9l8,-0.7l8,-0.6l8,-0.5l8,-0.5l8,-0.5l8,-0.5l8,-0.5l8,-0.6l8,-0.5l8,-0.6l8,-0.5l8,-0.6l8,-0.5l8,-0.6l8,-0.6l8,-0.7l8,-0.6l8,-0.7l8,-0.7l8,-0.7l8,-0.8l8,-0.9l8,-1.1l8,-1l8,-0.6l8,0.3l8,0.7l8,1.1l8,1.4l8,2.4l8,3.1l8,2.6l8,1l8,0l8,0l8,-0.2l8,-0.1l8,-0.2l8,-0.3l8,-0.2l8,-0.3l8,-0.2l8,-0.3l8,-0.4l8,-0.5l8,-0.5l8,-0.5l8,-0.5l8,-0.5l8,-0.6l8,-0.4l8,-0.5l8,-0.6l8,-0.5l8,-0.5l8,-0.6l8,-0.5l8,-0.5l8,-0.6l8,-0.5l8,-0.6l4,-0.3V2660H984Z" fill="#30ff50"/></g><g clip-path="url(#p31S1k5)"><path d="M984,2380.7l8,-5.3l8,-4.6l8,-4.2l8,-3.3l8,-2.1l8,-1.7l8,-1.5l8,-1.2l8,-1.1l8,-0.8l8,-0.7l8,-0.7l8,-0.5l8,-0.5l8,-0.4l8,-0.5l8,-0.5l8,-0.6l8,-0.5l8,-0.5l8,-0.5l8,-0.6l8,-0.5l8,-0.6l8,-0.6l8,-0.7l8,-0.6l8,-0.7l8,-0.7l8,-0.7l8,-0.8l8,-0.8l8,-1.2l8,-1l8,-0.5l8,0.2l8,0.8l8,1.1l8,1.3l8,2.5l8,3.1l8,2.6l8,1l8,0l8,0l8,-0.1l8,-0.2l8,-0.2l8,-0.2l8,-0.3l8,-0.2l8,-0.2l8,-0.4l8,-0.4l8,-0.4l8,-0.5l8,-0.5l8,-0.5l8,-0.5l8,-0.5l8,-0.5l8,-0.5l8,-0.5l8,-0.5l8,-0.6l8,-0.5l8,-0.5l8,-0.6l8,-0.5l8,-0.6l8,-0.5l4,-0.3V2660H984Z" fill="#78ff28"/></g><g clip-path="url(#p31S1k6)"><path d="M984,2381.6l8,-5.3l8,-4.7l8,-4.1l8,-3.2l8,-2l8,-1.7l8,-1.4l8,-1.2l8,-1l8,-0.9l8,-0.7l8,-0.6l8,-0.5l8,-0.5l8,-0.4l8,-0.5l8,-0.5l8,-0.5l8,-0.5l8,-0.6l8,-0.5l8,-0.5l8,-0.5l8,-0.6l8,-0.6l8,-0.7l8,-0.6l8,-0.7l8,-0.7l8,-0.7l8,-0.7l8,-0.9l8,-1.2l8,-1l8,-0.5l8,0.2l8,0.8l8,1.1l8,1.4l8,2.5l8,3.1l8,2.6l8,1l8,0l8,0l8,-0.1l8,-0.2l8,-0.2l8,-0.2l8,-0.2l8,-0.2l8,-0.3l8,-0.3l8,-0.4l8,-0.4l8,-0.5l8,-0.5l8,-0.5l8,-0.5l8,-0.5l8,-0.5l8,-0.5l8,-0.5l8,-0.5l8,-0.5l8,-0.5l8,-0.6l8,-0.5l8,-0.6l8,-0.5l8,-0.6l4,-0.2V2660H984Z" fill="#c0ff00"/></g><g clip-path="url(#p31S1k7)"><path d="M984,2382.3l8,-5.3l8,-4.6l8,-4.2l8,-3.1l8,-2l8,-1.5l8,-1.4l8,-1.2l8,-1l8,-0.9l8,-0.7l8,-0.6l8,-0.5l8,-0.4l8,-0.5l8,-0.4l8,-0.5l8,-0.5l8,-0.5l8,-0.5l8,-0.5l8,-0.6l8,-0.5l8,-0.6l8,-0.6l8,-0.6l8,-0.7l8,-0.6l8,-0.7l8,-0.7l8,-0.8l8,-0.9l8,-1.1l8,-1l8,-0.5l8,0.2l8,0.8l8,1.1l8,1.4l8,2.5l8,3.1l8,2.6l8,1l8,0.1l8,-0.1l8,-0.1l8,-0.1l8,-0.2l8,-0.2l8,-0.2l8,-0.2l8,-0.3l8,-0.3l8,-0.4l8,-0.4l8,-0.5l8,-0.4l8,-0.6l8,-0.5l8,-0.4l8,-0.5l8,-0.5l8,-0.5l8,-0.5l8,-0.5l8,-0.6l8,-0.5l8,-0.5l8,-0.6l8,-0.5l8,-0.6l4,-0.3V2660H984Z" fill="#e0ff00"/></g><g clip-path="url(#p31S1k8)"><path d="M984,2383l8,-5.3l8,-4.6l8,-4.1l8,-3.1l8,-1.9l8,-1.5l8,-1.3l8,-1.2l8,-1l8,-0.9l8,-0.7l8,-0.5l8,-0.5l8,-0.5l8,-0.4l8,-0.5l8,-0.4l8,-0.5l8,-0.5l8,-0.5l8,-0.5l8,-0.5l8,-0.5l8,-0.6l8,-0.6l8,-0.6l8,-0.7l8,-0.7l8,-0.7l8,-0.7l8,-0.7l8,-0.9l8,-1.1l8,-1l8,-0.5l8,0.2l8,0.8l8,1.1l8,1.4l8,2.5l8,3.1l8,2.6l8,1.1l8,0l8,0l8,-0.1l8,-0.2l8,-0.1l8,-0.2l8,-0.2l8,-0.3l8,-0.2l8,-0.3l8,-0.3l8,-0.5l8,-0.4l8,-0.5l8,-0.5l8,-0.5l8,-0.5l8,-0.5l8,-0.5l8,-0.4l8,-0.6l8,-0.5l8,-0.5l8,-0.5l8,-0.6l8,-0.5l8,-0.6l8,-0.5l4,-0.3V2660H984Z" fill="#ffff00"/></g><g clip-path="url(#p31S1k9)"><path d="M984,2384l8,-5.3l8,-4.7l8,-4l8,-3l8,-1.8l8,-1.5l8,-1.2l8,-1.1l8,-1.1l8,-0.8l8,-0.7l8,-0.6l8,-0.5l8,-0.4l8,-0.4l8,-0.4l8,-0.5l8,-0.5l8,-0.5l8,-0.4l8,-0.5l8,-0.5l8,-0.5l8,-0.6l8,-0.6l8,-0.6l8,-0.7l8,-0.7l8,-0.6l8,-0.7l8,-0.8l8,-0.9l8,-1.1l8,-1l8,-0.5l8,0.3l8,0.8l8,1.1l8,1.4l8,2.5l8,3.1l8,2.6l8,1.1l8,0l8,0l8,-0.1l8,-0.1l8,-0.2l8,-0.1l8,-0.3l8,-0.2l8,-0.2l8,-0.3l8,-0.3l8,-0.4l8,-0.5l8,-0.5l8,-0.5l8,-0.5l8,-0.4l8,-0.5l8,-0.5l8,-0.5l8,-0.5l8,-0.5l8,-0.5l8,-0.5l8,-0.6l8,-0.5l8,-0.6l8,-0.5l4,-0.3V2660H984Z" fill="url(#p31g0)"/></g><g clip-path="url(#p31S1k10)"><path d="M984,2384.9l8,-5.3l8,-4.6l8,-4l8,-3l8,-1.7l8,-1.4l8,-1.1l8,-1.1l8,-1l8,-0.9l8,-0.7l8,-0.5l8,-0.5l8,-0.4l8,-0.4l8,-0.4l8,-0.5l8,-0.5l8,-0.4l8,-0.5l8,-0.4l8,-0.5l8,-0.5l8,-0.6l8,-0.6l8,-0.6l8,-0.7l8,-0.6l8,-0.7l8,-0.7l8,-0.7l8,-0.9l8,-1.1l8,-1l8,-0.5l8,0.2l8,0.8l8,1.2l8,1.3l8,2.6l8,3.1l8,2.6l8,1.1l8,0.1l8,-0.1l8,0l8,-0.1l8,-0.2l8,-0.2l8,-0.2l8,-0.2l8,-0.2l8,-0.3l8,-0.3l8,-0.4l8,-0.5l8,-0.4l8,-0.5l8,-0.5l8,-0.5l8,-0.4l8,-0.5l8,-0.5l8,-0.5l8,-0.5l8,-0.5l8,-0.5l8,-0.6l8,-0.5l8,-0.5l8,-0.6l4,-0.3V2660H984Z" fill="url(#p31g1)"/></g><g clip-path="url(#p31S1k11)"><path d="M984,2385.6l8,-5.2l8,-4.7l8,-4l8,-2.9l8,-1.6l8,-1.3l8,-1.1l8,-1.1l8,-1l8,-0.9l8,-0.7l8,-0.5l8,-0.5l8,-0.4l8,-0.4l8,-0.4l8,-0.4l8,-0.5l8,-0.4l8,-0.5l8,-0.4l8,-0.5l8,-0.5l8,-0.5l8,-0.6l8,-0.6l8,-0.7l8,-0.7l8,-0.7l8,-0.7l8,-0.7l8,-0.9l8,-1.1l8,-0.9l8,-0.5l8,0.2l8,0.8l8,1.2l8,1.4l8,2.5l8,3.1l8,2.6l8,1.1l8,0.1l8,0l8,-0.1l8,-0.1l8,-0.1l8,-0.2l8,-0.2l8,-0.2l8,-0.2l8,-0.3l8,-0.3l8,-0.4l8,-0.4l8,-0.5l8,-0.5l8,-0.5l8,-0.4l8,-0.5l8,-0.4l8,-0.5l8,-0.5l8,-0.5l8,-0.5l8,-0.5l8,-0.6l8,-0.5l8,-0.6l8,-0.5l4,-0.3V2660H984Z" fill="url(#p31g2)"/></g><g clip-path="url(#p31S1k12)"><path d="M984,2386.4l8,-5.3l8,-4.7l8,-3.9l8,-2.9l8,-1.6l8,-1.2l8,-1.1l8,-1l8,-1l8,-0.8l8,-0.7l8,-0.6l8,-0.4l8,-0.4l8,-0.4l8,-0.4l8,-0.4l8,-0.5l8,-0.4l8,-0.4l8,-0.5l8,-0.4l8,-0.5l8,-0.6l8,-0.5l8,-0.7l8,-0.6l8,-0.7l8,-0.7l8,-0.7l8,-0.7l8,-0.9l8,-1.1l8,-1l8,-0.5l8,0.3l8,0.8l8,1.2l8,1.4l8,2.5l8,3.1l8,2.7l8,1.1l8,0l8,0l8,0l8,-0.1l8,-0.2l8,-0.1l8,-0.2l8,-0.2l8,-0.2l8,-0.2l8,-0.4l8,-0.4l8,-0.4l8,-0.5l8,-0.4l8,-0.5l8,-0.5l8,-0.4l8,-0.5l8,-0.4l8,-0.5l8,-0.5l8,-0.6l8,-0.5l8,-0.5l8,-0.5l8,-0.6l8,-0.5l4,-0.3V2660H984Z" fill="url(#p31g3)"/></g></g><path d="M984,2375.1 L980,2375.1 L1558.1,2375.8 L1559,2375.8 L1559,2400 L984,2400 Z" fill="#0052ae"/></g>
<defs><clipPath id="p32c"><rect x="1586" y="2197" width="574" height="203"/></clipPath><linearGradient id="p32bg" x1="0" y1="0" x2="0" y2="1"><stop offset="0" stop-color="#0048aa"/><stop offset="0.5" stop-color="#004cac"/><stop offset="1" stop-color="#005cb6"/></linearGradient><path id="p32S1" d="M1586,2375.4l4,-1l4,-1.1l4,-1.1l4,-1.3l4,-1.6l4,-2l4,-2.2l4,-2.1l4,-1.7l4,-1.7l4,-1.6l4,-1.6l4,-1.5l4,-1.4l4,-1.2l4,-1.2l4,-0.9l4,-0.8l4,-0.8l4,-0.8l4,-0.7l4,-0.7l4,-0.6l4,-0.6l4,-0.6l4,-0.6l4,-0.5l4,-0.5l4,-0.5l4,-0.4l4,-0.4l4,-0.4l4,-0.4l4,-0.3l4,-0.3l4,-0.3l4,-0.3l4,-0.2l4,-0.2l4,-0.3l4,-0.2l4,-0.2l4,-0.1l4,-0.2l4,-0.2l4,-0.2l4,-0.2l4,-0.2l4,-0.2l4,-0.3l4,-0.2l4,-0.3l4,-0.4l4,-0.4l4,-0.4l4,-0.5l4,-0.4l4,-0.5l4,-0.5l4,-0.5l4,-0.5l4,-0.5l4,-0.4l4,-0.3l4,-0.4l4,-0.2l4,-0.2l4,-0.1l4,0l4,0.3l4,0.5l4,0.7l4,0.7l4,0.7l4,0.6l4,0.5l4,0.2l4,0l4,-0.1l4,-0.2l4,-0.2l4,-0.2l4,-0.3l4,-0.3l4,-0.3l4,-0.2l4,-0.3l4,-0.2l4,-0.3l4,-0.3l4,-0.3l4,-0.3l4,-0.3l4,-0.4l4,-0.3l4,-0.3l4,-0.4l4,-0.3l4,-0.3l4,-0.4l4,-0.3l4,-0.3l4,-0.3l4,-0.3l4,-0.3l4,-0.3l4,-0.2l4,-0.3l4,-0.3l4,-0.3l4,-0.3l4,-0.3l4,-0.2l4,-0.3l4,-0.3l4,-0.3l4,-0.3l4,-0.3l4,-0.3l4,-0.3l4,-0.3l4,-0.3l4,-0.3l4,-0.3l4,-0.3l4,-0.3l4,-0.3l4,-0.3l4,-0.3l4,-0.3l4,-0.3l4,-0.3l4,-0.3l4,-0.3l4,-0.3l4,-0.3l4,-0.4l4,-0.3l4,-0.3l4,-0.3l4,-0.3l4,-0.3l3,-0.2V2660H1586Z"/><path id="p32S1B" d="M1566,2375.1l20,0l4,0l4,0l4,0l4,0l4,0l4,0l4,0l4,0l4,0l4,0l4,0l4,0l4,0l4,0l4,0l4,0l4,0l4,0l4,0l4,0l4,0l4,0l4,0l4,0l4,0l4,0l4,0l4,0l4,0l4,0l4,0l4,0l4,0l4,0l4,0l4,0l4,0l4,0l4,0l4,0l4,0l4,0l4,0l4,0l4,0l4,0l4,0l4,0l4,0l4,0l4,0l4,0l4,0l4,0l4,0l4,0l4,0l4,0l4,0l4,0l4,0l4,0l4,0l4,0l4,0l4,0l4,0l4,0l4,0l4,0l4,0l4,0l4,0l4,0l4,0l4,0l4,0l4,0l4,0l4,0l4,0l4,0l4,0l4,0l4,0l4,0l4,0l4,0l4,0l4,0l4,0l4,0l4,0l4,0l4,0l4,0l4,0l4,0l4,0l4,0l4,0l4,0l4,0l4,0l4,0l4,0l4,0l4,0l4,0l4,0l4,0l4,0l4,0l4,0l4,0l4,0l4,0l4,0l4,0l4,0l4,0l4,0l4,0l4,0l4,0l4,0l4,0l4,0l4,0l4,0l4,0l4,0l4,0l4,0l4,0l4,0l4,0l4,0l4,0l4,0l4,0l4,0l3,0l20,0V1897H1566Z"/><clipPath id="p32S1k1"><use href="#p32S1B" y="-0.1"/></clipPath><clipPath id="p32S1k2"><use href="#p32S1B" y="-0.2"/></clipPath><clipPath id="p32S1k3"><use href="#p32S1B" y="-0.5"/></clipPath><clipPath id="p32S1k4"><use href="#p32S1B" y="-0.8"/></clipPath><clipPath id="p32S1k5"><use href="#p32S1B" y="-1.2"/></clipPath><clipPath id="p32S1k6"><use href="#p32S1B" y="-1.6"/></clipPath><clipPath id="p32S1k7"><use href="#p32S1B" y="-2.2"/></clipPath><clipPath id="p32S1k8"><use href="#p32S1B" y="-2.7"/></clipPath><linearGradient id="p32g0" gradientUnits="userSpaceOnUse" x1="1586" y1="0" x2="2160" y2="0"><stop offset="0.000" stop-color="#ffec00"/><stop offset="0.042" stop-color="#ffec00"/><stop offset="0.083" stop-color="#ffdf00"/><stop offset="0.125" stop-color="#ffd000"/><stop offset="1.000" stop-color="#ffd000"/></linearGradient><clipPath id="p32S1k9"><use href="#p32S1B" y="-4.2"/></clipPath><linearGradient id="p32g1" gradientUnits="userSpaceOnUse" x1="1586" y1="0" x2="2160" y2="0"><stop offset="0.000" stop-color="#ffec00"/><stop offset="0.042" stop-color="#ffec00"/><stop offset="0.083" stop-color="#ffdf00"/><stop offset="0.125" stop-color="#ffba00"/><stop offset="0.167" stop-color="#ffa100"/><stop offset="0.208" stop-color="#ffa000"/><stop offset="0.458" stop-color="#ffa000"/><stop offset="0.500" stop-color="#ffaa00"/><stop offset="0.542" stop-color="#ffae00"/><stop offset="0.583" stop-color="#ffa000"/><stop offset="1.000" stop-color="#ffa000"/></linearGradient><clipPath id="p32S1k10"><use href="#p32S1B" y="-5.6"/></clipPath><linearGradient id="p32g2" gradientUnits="userSpaceOnUse" x1="1586" y1="0" x2="2160" y2="0"><stop offset="0.000" stop-color="#ffec00"/><stop offset="0.042" stop-color="#ffec00"/><stop offset="0.083" stop-color="#ffdf00"/><stop offset="0.125" stop-color="#ffba00"/><stop offset="0.167" stop-color="#ffa100"/><stop offset="0.208" stop-color="#ff9e00"/><stop offset="0.250" stop-color="#ff9800"/><stop offset="0.292" stop-color="#ff9000"/><stop offset="0.333" stop-color="#ff8800"/><stop offset="0.375" stop-color="#ff8100"/><stop offset="0.417" stop-color="#ff7e00"/><stop offset="0.458" stop-color="#ff8e00"/><stop offset="0.500" stop-color="#ffaa00"/><stop offset="0.542" stop-color="#ffae00"/><stop offset="0.583" stop-color="#ff7700"/><stop offset="0.625" stop-color="#ff6800"/><stop offset="1.000" stop-color="#ff6800"/></linearGradient><clipPath id="p32S1k11"><use href="#p32S1B" y="-6.8"/></clipPath><linearGradient id="p32g3" gradientUnits="userSpaceOnUse" x1="1586" y1="0" x2="2160" y2="0"><stop offset="0.000" stop-color="#ffec00"/><stop offset="0.042" stop-color="#ffec00"/><stop offset="0.083" stop-color="#ffdf00"/><stop offset="0.125" stop-color="#ffba00"/><stop offset="0.167" stop-color="#ffa100"/><stop offset="0.208" stop-color="#ff9e00"/><stop offset="0.250" stop-color="#ff9800"/><stop offset="0.292" stop-color="#ff9000"/><stop offset="0.333" stop-color="#ff8800"/><stop offset="0.375" stop-color="#ff8100"/><stop offset="0.417" stop-color="#ff7e00"/><stop offset="0.458" stop-color="#ff8e00"/><stop offset="0.500" stop-color="#ffaa00"/><stop offset="0.542" stop-color="#ffae00"/><stop offset="0.583" stop-color="#ff7700"/><stop offset="0.625" stop-color="#ff6500"/><stop offset="0.667" stop-color="#ff5300"/><stop offset="0.708" stop-color="#ff3900"/><stop offset="0.750" stop-color="#ff3000"/><stop offset="1.000" stop-color="#ff3000"/></linearGradient><clipPath id="p32S1k12"><use href="#p32S1B" y="-8"/></clipPath><linearGradient id="p32g4" gradientUnits="userSpaceOnUse" x1="1586" y1="0" x2="2160" y2="0"><stop offset="0.000" stop-color="#ffec00"/><stop offset="0.042" stop-color="#ffec00"/><stop offset="0.083" stop-color="#ffdf00"/><stop offset="0.125" stop-color="#ffba00"/><stop offset="0.167" stop-color="#ffa100"/><stop offset="0.208" stop-color="#ff9e00"/><stop offset="0.250" stop-color="#ff9800"/><stop offset="0.292" stop-color="#ff9000"/><stop offset="0.333" stop-color="#ff8800"/><stop offset="0.375" stop-color="#ff8100"/><stop offset="0.417" stop-color="#ff7e00"/><stop offset="0.458" stop-color="#ff8e00"/><stop offset="0.500" stop-color="#ffaa00"/><stop offset="0.542" stop-color="#ffae00"/><stop offset="0.583" stop-color="#ff7700"/><stop offset="0.625" stop-color="#ff6500"/><stop offset="0.667" stop-color="#ff5300"/><stop offset="0.708" stop-color="#ff3900"/><stop offset="0.750" stop-color="#ff2a00"/><stop offset="0.792" stop-color="#ff2600"/><stop offset="0.833" stop-color="#ff2200"/><stop offset="0.875" stop-color="#ff1900"/><stop offset="0.917" stop-color="#ff1800"/><stop offset="1.000" stop-color="#ff1800"/></linearGradient><clipPath id="p32S1k13"><use href="#p32S1B" y="-9.2"/></clipPath></defs><g clip-path="url(#p32c)"><rect x="1586" y="2197" width="574" height="203" fill="url(#p32bg)"/><g filter="url(#bl5)"><use href="#p32S1" y="-51" fill="#0062b8" fill-opacity="0.35"/><use href="#p32S1" y="-36" fill="#0070c0" fill-opacity="0.45"/><use href="#p32S1" y="-22.5" fill="#0088d0" fill-opacity="0.6"/><use href="#p32S1" y="-12" fill="#00a8e0" fill-opacity="0.85"/><use href="#p32S1" y="-3" fill="#00c8ee" fill-opacity="1.0"/></g><g filter="url(#bl1_5)"><path d="M1586,2375.4l8,-2.1l8,-2.4l8,-3.6l8,-4.3l8,-3.4l8,-3.2l8,-2.9l8,-2.4l8,-1.7l8,-1.6l8,-1.4l8,-1.2l8,-1.2l8,-1l8,-0.9l8,-0.8l8,-0.7l8,-0.6l8,-0.5l8,-0.5l8,-0.4l8,-0.3l8,-0.4l8,-0.4l8,-0.5l8,-0.5l8,-0.8l8,-0.9l8,-0.9l8,-1l8,-1l8,-0.7l8,-0.6l8,-0.3l8,0.3l8,1.2l8,1.4l8,1.1l8,0.2l8,-0.3l8,-0.4l8,-0.6l8,-0.5l8,-0.5l8,-0.6l8,-0.6l8,-0.7l8,-0.6l8,-0.7l8,-0.7l8,-0.6l8,-0.6l8,-0.6l8,-0.5l8,-0.6l8,-0.6l8,-0.5l8,-0.6l8,-0.6l8,-0.6l8,-0.6l8,-0.6l8,-0.6l8,-0.6l8,-0.6l8,-0.6l8,-0.6l8,-0.6l8,-0.7l8,-0.6l8,-0.6l3,-0.2V2660H1586Z" fill="#00f0f8"/><g clip-path="url(#p32S1k1)"><path d="M1586,2376.6l8,-2.1l8,-2.4l8,-3.6l8,-4.3l8,-3.3l8,-3.1l8,-2.8l8,-2.4l8,-1.7l8,-1.5l8,-1.4l8,-1.3l8,-1.1l8,-1l8,-0.9l8,-0.8l8,-0.6l8,-0.6l8,-0.5l8,-0.4l8,-0.4l8,-0.4l8,-0.3l8,-0.4l8,-0.5l8,-0.5l8,-0.8l8,-0.9l8,-0.9l8,-1l8,-0.9l8,-0.8l8,-0.6l8,-0.3l8,0.4l8,1.1l8,1.5l8,1.1l8,0.2l8,-0.3l8,-0.4l8,-0.5l8,-0.6l8,-0.5l8,-0.5l8,-0.6l8,-0.7l8,-0.6l8,-0.7l8,-0.6l8,-0.6l8,-0.6l8,-0.6l8,-0.5l8,-0.6l8,-0.5l8,-0.6l8,-0.5l8,-0.6l8,-0.6l8,-0.6l8,-0.5l8,-0.6l8,-0.6l8,-0.7l8,-0.6l8,-0.6l8,-0.6l8,-0.6l8,-0.6l8,-0.7l3,-0.2V2660H1586Z" fill="#00f8d4"/></g><g clip-path="url(#p32S1k2)"><path d="M1586,2377.7l8,-2.1l8,-2.4l8,-3.6l8,-4.2l8,-3.2l8,-3.1l8,-2.7l8,-2.3l8,-1.6l8,-1.5l8,-1.4l8,-1.3l8,-1.1l8,-1l8,-0.8l8,-0.8l8,-0.7l8,-0.5l8,-0.5l8,-0.4l8,-0.3l8,-0.4l8,-0.3l8,-0.4l8,-0.5l8,-0.5l8,-0.8l8,-0.9l8,-0.9l8,-1l8,-0.9l8,-0.8l8,-0.6l8,-0.2l8,0.3l8,1.2l8,1.5l8,1.1l8,0.2l8,-0.3l8,-0.4l8,-0.5l8,-0.5l8,-0.5l8,-0.5l8,-0.6l8,-0.6l8,-0.7l8,-0.6l8,-0.6l8,-0.6l8,-0.6l8,-0.5l8,-0.6l8,-0.5l8,-0.6l8,-0.5l8,-0.6l8,-0.5l8,-0.6l8,-0.5l8,-0.6l8,-0.6l8,-0.6l8,-0.6l8,-0.6l8,-0.6l8,-0.7l8,-0.6l8,-0.6l8,-0.6l3,-0.2V2660H1586Z" fill="#00ffb0"/></g><g clip-path="url(#p32S1k3)"><path d="M1586,2378.6l8,-2.1l8,-2.4l8,-3.6l8,-4.1l8,-3.2l8,-3l8,-2.7l8,-2.2l8,-1.6l8,-1.5l8,-1.4l8,-1.2l8,-1.1l8,-1l8,-0.9l8,-0.7l8,-0.7l8,-0.5l8,-0.5l8,-0.3l8,-0.4l8,-0.3l8,-0.4l8,-0.3l8,-0.5l8,-0.5l8,-0.8l8,-0.8l8,-1l8,-1l8,-0.9l8,-0.8l8,-0.5l8,-0.3l8,0.3l8,1.2l8,1.5l8,1.1l8,0.3l8,-0.3l8,-0.4l8,-0.5l8,-0.5l8,-0.5l8,-0.5l8,-0.6l8,-0.6l8,-0.6l8,-0.6l8,-0.6l8,-0.6l8,-0.6l8,-0.5l8,-0.5l8,-0.6l8,-0.5l8,-0.5l8,-0.6l8,-0.5l8,-0.6l8,-0.5l8,-0.6l8,-0.6l8,-0.6l8,-0.6l8,-0.6l8,-0.6l8,-0.6l8,-0.6l8,-0.6l8,-0.7l3,-0.2V2660H1586Z" fill="#18ff80"/></g><g clip-path="url(#p32S1k4)"><path d="M1586,2379.4l8,-2.1l8,-2.4l8,-3.5l8,-4.1l8,-3.1l8,-3l8,-2.6l8,-2.1l8,-1.6l8,-1.5l8,-1.4l8,-1.2l8,-1.1l8,-1l8,-0.8l8,-0.7l8,-0.7l8,-0.5l8,-0.4l8,-0.4l8,-0.3l8,-0.3l8,-0.4l8,-0.3l8,-0.5l8,-0.5l8,-0.8l8,-0.8l8,-1l8,-1l8,-0.9l8,-0.8l8,-0.5l8,-0.2l8,0.3l8,1.2l8,1.5l8,1.1l8,0.2l8,-0.2l8,-0.4l8,-0.5l8,-0.5l8,-0.4l8,-0.6l8,-0.5l8,-0.6l8,-0.6l8,-0.6l8,-0.6l8,-0.6l8,-0.5l8,-0.6l8,-0.5l8,-0.5l8,-0.5l8,-0.6l8,-0.5l8,-0.5l8,-0.6l8,-0.5l8,-0.6l8,-0.6l8,-0.6l8,-0.5l8,-0.6l8,-0.6l8,-0.7l8,-0.6l8,-0.6l8,-0.6l3,-0.2V2660H1586Z" fill="#30ff50"/></g><g clip-path="url(#p32S1k5)"><path d="M1586,2380.3l8,-2.1l8,-2.4l8,-3.5l8,-4l8,-3.1l8,-2.9l8,-2.6l8,-2.1l8,-1.5l8,-1.5l8,-1.3l8,-1.3l8,-1.1l8,-0.9l8,-0.9l8,-0.7l8,-0.6l8,-0.5l8,-0.4l8,-0.4l8,-0.3l8,-0.3l8,-0.3l8,-0.3l8,-0.5l8,-0.5l8,-0.8l8,-0.8l8,-1l8,-1l8,-0.9l8,-0.7l8,-0.6l8,-0.2l8,0.3l8,1.2l8,1.5l8,1.2l8,0.2l8,-0.2l8,-0.4l8,-0.5l8,-0.4l8,-0.5l8,-0.5l8,-0.6l8,-0.5l8,-0.6l8,-0.6l8,-0.6l8,-0.6l8,-0.5l8,-0.5l8,-0.6l8,-0.5l8,-0.5l8,-0.5l8,-0.5l8,-0.5l8,-0.6l8,-0.5l8,-0.6l8,-0.5l8,-0.6l8,-0.6l8,-0.6l8,-0.6l8,-0.6l8,-0.6l8,-0.6l8,-0.7l3,-0.2V2660H1586Z" fill="#78ff28"/></g><g clip-path="url(#p32S1k6)"><path d="M1586,2381.2l8,-2.1l8,-2.4l8,-3.5l8,-4l8,-3l8,-2.8l8,-2.5l8,-2.1l8,-1.5l8,-1.4l8,-1.4l8,-1.2l8,-1.1l8,-1l8,-0.8l8,-0.7l8,-0.6l8,-0.5l8,-0.4l8,-0.3l8,-0.3l8,-0.3l8,-0.3l8,-0.4l8,-0.4l8,-0.5l8,-0.8l8,-0.8l8,-1l8,-1l8,-0.9l8,-0.7l8,-0.5l8,-0.3l8,0.4l8,1.2l8,1.5l8,1.1l8,0.3l8,-0.2l8,-0.4l8,-0.5l8,-0.4l8,-0.5l8,-0.5l8,-0.5l8,-0.6l8,-0.6l8,-0.5l8,-0.6l8,-0.6l8,-0.5l8,-0.5l8,-0.5l8,-0.5l8,-0.5l8,-0.5l8,-0.5l8,-0.5l8,-0.5l8,-0.6l8,-0.5l8,-0.6l8,-0.6l8,-0.6l8,-0.6l8,-0.6l8,-0.6l8,-0.6l8,-0.6l8,-0.6l3,-0.2V2660H1586Z" fill="#c0ff00"/></g><g clip-path="url(#p32S1k7)"><path d="M1586,2381.9l8,-2.1l8,-2.4l8,-3.4l8,-4l8,-3l8,-2.8l8,-2.4l8,-2l8,-1.5l8,-1.4l8,-1.4l8,-1.2l8,-1.1l8,-0.9l8,-0.8l8,-0.7l8,-0.6l8,-0.5l8,-0.4l8,-0.3l8,-0.3l8,-0.3l8,-0.3l8,-0.3l8,-0.4l8,-0.6l8,-0.7l8,-0.9l8,-0.9l8,-1l8,-0.9l8,-0.7l8,-0.6l8,-0.2l8,0.4l8,1.2l8,1.5l8,1.2l8,0.2l8,-0.2l8,-0.4l8,-0.4l8,-0.5l8,-0.4l8,-0.5l8,-0.5l8,-0.6l8,-0.6l8,-0.5l8,-0.6l8,-0.5l8,-0.5l8,-0.5l8,-0.5l8,-0.5l8,-0.5l8,-0.5l8,-0.5l8,-0.5l8,-0.5l8,-0.6l8,-0.5l8,-0.6l8,-0.5l8,-0.6l8,-0.6l8,-0.6l8,-0.6l8,-0.6l8,-0.6l8,-0.7l3,-0.2V2660H1586Z" fill="#e0ff00"/></g><g clip-path="url(#p32S1k8)"><path d="M1586,2382.6l8,-2.1l8,-2.3l8,-3.5l8,-3.9l8,-3l8,-2.7l8,-2.4l8,-2l8,-1.4l8,-1.4l8,-1.4l8,-1.2l8,-1.1l8,-0.9l8,-0.8l8,-0.7l8,-0.5l8,-0.5l8,-0.4l8,-0.3l8,-0.2l8,-0.3l8,-0.3l8,-0.3l8,-0.5l8,-0.5l8,-0.7l8,-0.9l8,-1l8,-0.9l8,-0.9l8,-0.8l8,-0.5l8,-0.2l8,0.4l8,1.2l8,1.5l8,1.2l8,0.2l8,-0.1l8,-0.4l8,-0.5l8,-0.4l8,-0.4l8,-0.5l8,-0.5l8,-0.6l8,-0.5l8,-0.6l8,-0.6l8,-0.5l8,-0.5l8,-0.5l8,-0.5l8,-0.5l8,-0.4l8,-0.5l8,-0.5l8,-0.5l8,-0.5l8,-0.6l8,-0.5l8,-0.5l8,-0.6l8,-0.6l8,-0.6l8,-0.6l8,-0.6l8,-0.6l8,-0.6l8,-0.6l3,-0.2V2660H1586Z" fill="#ffff00"/></g><g clip-path="url(#p32S1k9)"><path d="M1586,2383.6l8,-2.1l8,-2.4l8,-3.4l8,-3.9l8,-2.9l8,-2.6l8,-2.4l8,-1.9l8,-1.4l8,-1.4l8,-1.4l8,-1.2l8,-1l8,-0.9l8,-0.8l8,-0.7l8,-0.5l8,-0.5l8,-0.3l8,-0.3l8,-0.3l8,-0.2l8,-0.3l8,-0.3l8,-0.4l8,-0.6l8,-0.7l8,-0.9l8,-0.9l8,-1l8,-0.9l8,-0.7l8,-0.5l8,-0.3l8,0.4l8,1.3l8,1.5l8,1.2l8,0.2l8,-0.1l8,-0.4l8,-0.4l8,-0.5l8,-0.4l8,-0.4l8,-0.5l8,-0.6l8,-0.5l8,-0.6l8,-0.5l8,-0.5l8,-0.5l8,-0.5l8,-0.5l8,-0.4l8,-0.5l8,-0.5l8,-0.5l8,-0.5l8,-0.5l8,-0.5l8,-0.5l8,-0.6l8,-0.5l8,-0.6l8,-0.6l8,-0.6l8,-0.6l8,-0.6l8,-0.6l8,-0.6l3,-0.2V2660H1586Z" fill="url(#p32g0)"/></g><g clip-path="url(#p32S1k10)"><path d="M1586,2384.5l8,-2.1l8,-2.3l8,-3.4l8,-3.9l8,-2.8l8,-2.6l8,-2.3l8,-1.8l8,-1.4l8,-1.3l8,-1.4l8,-1.2l8,-1.1l8,-0.9l8,-0.7l8,-0.7l8,-0.5l8,-0.4l8,-0.4l8,-0.3l8,-0.2l8,-0.2l8,-0.3l8,-0.3l8,-0.4l8,-0.6l8,-0.7l8,-0.9l8,-0.9l8,-1l8,-0.9l8,-0.7l8,-0.5l8,-0.2l8,0.4l8,1.2l8,1.6l8,1.2l8,0.2l8,-0.1l8,-0.4l8,-0.4l8,-0.4l8,-0.4l8,-0.5l8,-0.5l8,-0.5l8,-0.5l8,-0.6l8,-0.5l8,-0.5l8,-0.5l8,-0.4l8,-0.5l8,-0.4l8,-0.5l8,-0.5l8,-0.4l8,-0.5l8,-0.5l8,-0.5l8,-0.6l8,-0.5l8,-0.5l8,-0.6l8,-0.6l8,-0.6l8,-0.6l8,-0.6l8,-0.6l8,-0.6l3,-0.2V2660H1586Z" fill="url(#p32g1)"/></g><g clip-path="url(#p32S1k11)"><path d="M1586,2385.3l8,-2.1l8,-2.4l8,-3.4l8,-3.8l8,-2.8l8,-2.5l8,-2.2l8,-1.9l8,-1.3l8,-1.3l8,-1.4l8,-1.2l8,-1.1l8,-0.8l8,-0.8l8,-0.6l8,-0.5l8,-0.5l8,-0.3l8,-0.2l8,-0.3l8,-0.2l8,-0.2l8,-0.4l8,-0.4l8,-0.5l8,-0.7l8,-0.9l8,-1l8,-0.9l8,-0.9l8,-0.7l8,-0.5l8,-0.2l8,0.4l8,1.2l8,1.6l8,1.2l8,0.3l8,-0.2l8,-0.3l8,-0.4l8,-0.4l8,-0.4l8,-0.5l8,-0.5l8,-0.5l8,-0.5l8,-0.5l8,-0.6l8,-0.5l8,-0.4l8,-0.5l8,-0.4l8,-0.5l8,-0.4l8,-0.5l8,-0.4l8,-0.5l8,-0.5l8,-0.5l8,-0.5l8,-0.6l8,-0.5l8,-0.6l8,-0.5l8,-0.6l8,-0.6l8,-0.6l8,-0.6l8,-0.7l3,-0.2V2660H1586Z" fill="url(#p32g2)"/></g><g clip-path="url(#p32S1k12)"><path d="M1586,2386l8,-2.1l8,-2.4l8,-3.3l8,-3.8l8,-2.8l8,-2.4l8,-2.2l8,-1.8l8,-1.3l8,-1.3l8,-1.4l8,-1.2l8,-1l8,-0.9l8,-0.8l8,-0.6l8,-0.5l8,-0.4l8,-0.3l8,-0.2l8,-0.2l8,-0.3l8,-0.2l8,-0.3l8,-0.4l8,-0.5l8,-0.8l8,-0.8l8,-1l8,-0.9l8,-0.9l8,-0.7l8,-0.5l8,-0.2l8,0.4l8,1.2l8,1.6l8,1.2l8,0.3l8,-0.2l8,-0.3l8,-0.4l8,-0.4l8,-0.4l8,-0.4l8,-0.5l8,-0.5l8,-0.5l8,-0.5l8,-0.5l8,-0.5l8,-0.5l8,-0.4l8,-0.5l8,-0.4l8,-0.4l8,-0.5l8,-0.4l8,-0.5l8,-0.5l8,-0.5l8,-0.5l8,-0.5l8,-0.6l8,-0.5l8,-0.6l8,-0.6l8,-0.6l8,-0.6l8,-0.6l8,-0.6l3,-0.2V2660H1586Z" fill="url(#p32g3)"/></g><g clip-path="url(#p32S1k13)"><path d="M1586,2386.7l8,-2.1l8,-2.4l8,-3.3l8,-3.7l8,-2.7l8,-2.5l8,-2.1l8,-1.7l8,-1.3l8,-1.3l8,-1.4l8,-1.2l8,-1l8,-0.9l8,-0.7l8,-0.6l8,-0.5l8,-0.4l8,-0.3l8,-0.2l8,-0.2l8,-0.2l8,-0.2l8,-0.4l8,-0.4l8,-0.5l8,-0.7l8,-0.9l8,-0.9l8,-1l8,-0.8l8,-0.8l8,-0.4l8,-0.2l8,0.4l8,1.2l8,1.6l8,1.2l8,0.3l8,-0.1l8,-0.3l8,-0.5l8,-0.3l8,-0.4l8,-0.4l8,-0.5l8,-0.5l8,-0.5l8,-0.5l8,-0.5l8,-0.5l8,-0.4l8,-0.5l8,-0.4l8,-0.4l8,-0.5l8,-0.4l8,-0.4l8,-0.5l8,-0.5l8,-0.5l8,-0.5l8,-0.5l8,-0.5l8,-0.6l8,-0.6l8,-0.5l8,-0.6l8,-0.6l8,-0.6l8,-0.7l3,-0.2V2660H1586Z" fill="url(#p32g4)"/></g></g><path d="M1586,2375.1 L1580,2375.1 L2158.1,2375.8 L2160,2375.8 L2160,2400 L1586,2400 Z" fill="#0052ae"/></g>
<defs><clipPath id="p40c"><rect x="382" y="2430" width="575" height="205"/></clipPath><linearGradient id="p40bg" x1="0" y1="0" x2="0" y2="1"><stop offset="0" stop-color="#0054b0"/><stop offset="0.5" stop-color="#0054b0"/><stop offset="1" stop-color="#0058b4"/></linearGradient><path id="p40S1" d="M429.3,2667.9l4,-6l4,-6.6l4,-6.9l4,-7l4,-6.8l4,-6.3l4,-5.7l4,-4.6l4,-3.4l4,-2l4,-1.5l4,-1.2l4,-1l4,-0.9l4,-0.8l4,-0.7l4,-0.7l4,-0.6l4,-0.6l4,-0.6l4,-0.5l4,-0.5l4,-0.4l4,-0.5l4,-0.5l4,-0.4l4,-0.5l4,-0.3l4,-0.4l4,-0.4l4,-0.3l4,-0.4l4,-0.4l4,-0.5l4,-0.6l4,-0.6l4,-0.7l4,-0.9l4,-1.3l4,-1.5l4,-1.7l4,-1.9l4,-1.9l4,-1.9l4,-2.1l4,-2.3l4,-2.4l4,-2.3l4,-2.3l4,-2.1l4,-2.2l4,-2.1l4,-1.9l4,-1.6l4,-1.1l4,-0.8l4,-0.5l4,0.1l4,0.7l4,1l4,1.2l4,1.6l4,2.2l4,2.5l4,2.5l4,2.5l4,2.9l4,2.9l4,2.9l4,2.4l4,1.9l4,1.7l4,1.6l4,1.3l4,1l4,0.6l4,0.4l4,0.4l4,0.3l4,0.3l4,0.3l4,0.2l4,0.2l4,0.2l4,0.2l4,0.1l4,0.2l4,0.1l4,0.2l4,0.1l4,0.1l4,0.1l4,0.1l4,0.1l4,0.1l4,0l4,0.1l4,0.1l4,0.1l4,0.1l4,0.2l4,0.2l4,0.2l4,0.4l4,0.5l4,0.6l4,0.6l4,0.8l4,0.9l4,1l4,1.2l4,1.6l4,2l4,2.3l4,3.5l4,4.6l4,5.6l4,6.3l4,6.8l4,7.1l4,7l4,6.9l4,6.5l1.5,2.2V2895H429.3Z"/><path id="p40S1B" d="M409.3,2612.3l20,0l4,0l4,0l4,0l4,0l4,0l4,0l4,0l4,0l4,0l4,0l4,0l4,0l4,0l4,0l4,0l4,0l4,0l4,0l4,0l4,0l4,0l4,0l4,0l4,0l4,0l4,0l4,0l4,0l4,0l4,0l4,0l4,0l4,0l4,0l4,0l4,0l4,0l4,0l4,0l4,0l4,0l4,0l4,0l4,0l4,0l4,0l4,0l4,0l4,0l4,0l4,0l4,0l4,0l4,0l4,0l4,0l4,0l4,0l4,0l4,0l4,0l4,0l4,0l4,0l4,0l4,0l4,0l4,0l4,0l4,0l4,0l4,0l4,0l4,0l4,0l4,0l4,0l4,0l4,0l4,0l4,0l4,0l4,0l4,0l4,0l4,0l4,0l4,0l4,0l4,0l4,0l4,0l4,0l4,0l4,0l4,0l4,0l4,0l4,0l4,0l4,0l4,0l4,0l4,0l4,0l4,0l4,0l4,0l4,0l4,0l4,0l4,0l4,0l4,0l4,0l4,0l4,0l4,0l4,0l4,0l4,0l4,0l4,0l1.5,0l20,0V2130H409.3Z"/><clipPath id="p40S1k1"><use href="#p40S1B" y="-0.1"/></clipPath><clipPath id="p40S1k2"><use href="#p40S1B" y="-0.2"/></clipPath><clipPath id="p40S1k3"><use href="#p40S1B" y="-0.5"/></clipPath><clipPath id="p40S1k4"><use href="#p40S1B" y="-0.8"/></clipPath><clipPath id="p40S1k5"><use href="#p40S1B" y="-1.2"/></clipPath><clipPath id="p40S1k6"><use href="#p40S1B" y="-1.6"/></clipPath><clipPath id="p40S1k7"><use href="#p40S1B" y="-2.2"/></clipPath><linearGradient id="p40g0" gradientUnits="userSpaceOnUse" x1="382" y1="0" x2="957" y2="0"><stop offset="0.000" stop-color="#e6ff00"/><stop offset="0.250" stop-color="#e6ff00"/><stop offset="0.292" stop-color="#efff00"/><stop offset="0.333" stop-color="#fbff00"/><stop offset="0.375" stop-color="#ffff00"/><stop offset="0.542" stop-color="#ffff00"/><stop offset="0.583" stop-color="#faff00"/><stop offset="0.625" stop-color="#eeff00"/><stop offset="0.667" stop-color="#e6ff00"/><stop offset="1.000" stop-color="#e6ff00"/></linearGradient><clipPath id="p40S1k8"><use href="#p40S1B" y="-2.7"/></clipPath></defs><g clip-path="url(#p40c)"><rect x="382" y="2430" width="575" height="205" fill="url(#p40bg)"/><ellipse cx="408.2" cy="2605.3" rx="45.8" ry="5.3" fill="#001890" opacity="0.9" filter="url(#bl4)"/><g filter="url(#bl3_5)"><use href="#p40S1" y="-34" fill="#0062b8" fill-opacity="0.35"/><use href="#p40S1" y="-24" fill="#0070c0" fill-opacity="0.45"/><use href="#p40S1" y="-15" fill="#0088d0" fill-opacity="0.6"/><use href="#p40S1" y="-8" fill="#00a8e0" fill-opacity="0.85"/><use href="#p40S1" y="-3" fill="#00c8ee" fill-opacity="1.0"/></g><g filter="url(#bl1)"><use href="#p40S1" y="0" fill="#00f0f8"/><g clip-path="url(#p40S1k1)"><use href="#p40S1" y="1.2" fill="#00f8d4"/></g><g clip-path="url(#p40S1k2)"><use href="#p40S1" y="2.5" fill="#00ffb0"/></g><g clip-path="url(#p40S1k3)"><use href="#p40S1" y="3.4" fill="#18ff80"/></g><g clip-path="url(#p40S1k4)"><use href="#p40S1" y="4.4" fill="#30ff50"/></g><g clip-path="url(#p40S1k5)"><use href="#p40S1" y="5.4" fill="#78ff28"/></g><g clip-path="url(#p40S1k6)"><use href="#p40S1" y="6.3" fill="#c0ff00"/></g><g clip-path="url(#p40S1k7)"><use href="#p40S1" y="7.1" fill="#e0ff00"/></g><g clip-path="url(#p40S1k8)"><use href="#p40S1" y="7.9" fill="url(#p40g0)"/></g></g><ellipse cx="654.9" cy="2579.9" rx="33.5" ry="14.1" fill="#50ff40" opacity="0.85" filter="url(#bl7)"/><ellipse cx="647.9" cy="2602.5" rx="38.8" ry="7.8" fill="#ff9000" opacity="0.9" filter="url(#bl6)"/><path d="M382,2612.3 L380,2612.3 L521,2612.7 L697.2,2614.5 L958.1,2612.7 L957,2612.7 L957,2635 L382,2635 Z" fill="#0052ae"/></g>
<defs><clipPath id="p41c"><rect x="984" y="2430" width="575" height="205"/></clipPath><linearGradient id="p41bg" x1="0" y1="0" x2="0" y2="1"><stop offset="0" stop-color="#0056b2"/><stop offset="0.5" stop-color="#005cb6"/><stop offset="1" stop-color="#0068c0"/></linearGradient><path id="p41S1" d="M994.1,2685.9l4,-8.3l4,-9l4,-9.5l4,-9.5l4,-9.3l4,-8.7l4,-7.7l4,-6.4l4,-4.8l4,-2.8l4,-2.1l4,-1.7l4,-1.5l4,-1.3l4,-1.1l4,-1.1l4,-1.1l4,-1.1l4,-1.3l4,-1.2l4,-1.3l4,-1.2l4,-1.2l4,-1.1l4,-1.1l4,-1l4,-0.9l4,-0.8l4,-0.7l4,-0.7l4,-0.7l4,-0.6l4,-0.6l4,-0.6l4,-0.6l4,-0.5l4,-0.5l4,-0.5l4,-0.4l4,-0.4l4,-0.4l4,-0.3l4,-0.4l4,-0.4l4,-0.3l4,-0.5l4,-0.4l4,-0.5l4,-0.5l4,-0.6l4,-0.7l4,-0.7l4,-0.9l4,-0.8l4,-0.9l4,-1l4,-0.9l4,-1l4,-1l4,-1.3l4,-1.4l4,-1.4l4,-1.3l4,-1.1l4,-0.8l4,-0.3l4,0.1l4,0.3l4,0.5l4,0.6l4,0.8l4,0.7l4,0.8l4,0.8l4,0.9l4,1l4,1.2l4,1.3l4,1.3l4,1.2l4,1.1l4,0.9l4,0.7l4,0.6l4,0.6l4,0.6l4,0.5l4,0.5l4,0.4l4,0.4l4,0.3l4,0.2l4,0.1l4,-0.1l4,0l4,-0.1l4,-0.2l4,-0.2l4,-0.3l4,-0.3l4,-0.3l4,-0.3l4,-0.4l4,-0.3l4,-0.4l4,-0.4l4,-0.3l4,-0.4l4,-0.3l4,-0.4l4,-0.3l4,-0.2l4,-0.3l4,-0.3l4,-0.2l4,-0.3l4,-0.3l4,-0.2l4,-0.3l4,-0.3l4,-0.2l4,-0.3l4,-0.3l4,-0.3l4,-0.3l4,-0.3l4,-0.3l4,-0.3l4,-0.3l4,-0.4l4,-0.3l4,-0.4l4,-0.4l4,-0.4l4,-0.4l4,-0.5l4,-0.4l4,-0.4l4,-0.4l4,-0.4l1.9,-0.2V2895H994.1Z"/></defs><g clip-path="url(#p41c)"><rect x="984" y="2430" width="575" height="205" fill="url(#p41bg)"/><g filter="url(#bl5)"><use href="#p41S1" y="-47.6" fill="#0062b8" fill-opacity="0.35"/><use href="#p41S1" y="-33.6" fill="#0070c0" fill-opacity="0.45"/><use href="#p41S1" y="-21" fill="#0088d0" fill-opacity="0.6"/><use href="#p41S1" y="-11.2" fill="#00a8e0" fill-opacity="0.85"/><use href="#p41S1" y="-3" fill="#00c8ee" fill-opacity="1.0"/></g><g filter="url(#bl1_5)"><use href="#p41S1" y="0" fill="#00f0f8"/><use href="#p41S1" y="2" fill="#00f8d4"/><use href="#p41S1" y="4" fill="#00ffb0"/><use href="#p41S1" y="5.6" fill="#18ff80"/><use href="#p41S1" y="7.2" fill="#30ff50"/><use href="#p41S1" y="8.8" fill="#78ff28"/><use href="#p41S1" y="10.3" fill="#c0ff00"/><use href="#p41S1" y="11.7" fill="#e0ff00"/><use href="#p41S1" y="13" fill="#ffff00"/><use href="#p41S1" y="14.7" fill="#ffd000"/><use href="#p41S1" y="16.4" fill="#ffa000"/><use href="#p41S1" y="17.7" fill="#ff6800"/><use href="#p41S1" y="19" fill="#ff3000"/><use href="#p41S1" y="20.3" fill="#ff1800"/><use href="#p41S1" y="21.6" fill="#ff0000"/></g><path d="M984,2611.6 L980,2611.6 L1121,2612.3 L1297.2,2615.2 L1367.7,2613 L1558.1,2612.3 L1559,2612.3 L1559,2635 L984,2635 Z" fill="#0052ae"/></g>
<defs><clipPath id="p42c"><rect x="1586" y="2430" width="574" height="205"/></clipPath><linearGradient id="p42bg" x1="0" y1="0" x2="0" y2="1"><stop offset="0" stop-color="#0056b2"/><stop offset="0.5" stop-color="#005cb6"/><stop offset="1" stop-color="#0068c0"/></linearGradient><path id="p42S1" d="M1590.6,2610.6l4,-0.8l4,-0.7l4,-0.8l4,-0.7l4,-0.7l4,-0.8l4,-0.7l4,-0.8l4,-0.8l4,-0.8l4,-0.9l4,-0.9l4,-1l4,-1.1l4,-1l4,-1.1l4,-1.1l4,-1.1l4,-1.1l4,-1l4,-1.1l4,-0.9l4,-0.9l4,-0.9l4,-0.8l4,-0.8l4,-0.8l4,-0.8l4,-0.8l4,-0.7l4,-0.8l4,-0.7l4,-0.7l4,-0.7l4,-0.6l4,-0.7l4,-0.6l4,-0.6l4,-0.5l4,-0.5l4,-0.5l4,-0.5l4,-0.4l4,-0.3l4,-0.4l4,-0.3l4,-0.3l4,-0.3l4,-0.2l4,-0.3l4,-0.4l4,-0.3l4,-0.4l4,-0.4l4,-0.5l4,-0.6l4,-0.8l4,-0.9l4,-1l4,-1l4,-1l4,-0.9l4,-0.8l4,-0.7l4,-0.4l4,-0.1l4,0l4,0.3l4,0.4l4,0.5l4,0.6l4,0.6l4,0.7l4,0.6l4,0.5l4,0.6l4,0.6l4,0.7l4,0.7l4,0.7l4,0.7l4,0.6l4,0.5l4,0.3l4,0.2l4,0l4,-0.1l4,-0.1l4,-0.2l4,-0.3l4,-0.3l4,-0.3l4,-0.4l4,-0.4l4,-0.4l4,-0.5l4,-0.4l4,-0.5l4,-0.4l4,-0.5l4,-0.4l4,-0.4l4,-0.3l4,-0.4l4,-0.3l4,-0.4l4,-0.3l4,-0.3l4,-0.4l4,-0.3l4,-0.3l4,-0.4l4,-0.3l4,-0.3l4,-0.4l4,-0.3l4,-0.4l4,-0.3l4,-0.4l4,-0.3l4,-0.4l4,-0.3l4,-0.4l4,-0.3l4,-0.4l4,-0.4l4,-0.3l4,-0.4l4,-0.4l4,-0.3l4,-0.4l4,-0.4l4,-0.3l4,-0.4l4,-0.4l4,-0.3l4,-0.4l4,-0.4l4,-0.4l4,-0.3l4,-0.4l2.4,-0.2V2895H1590.6Z"/></defs><g clip-path="url(#p42c)"><rect x="1586" y="2430" width="574" height="205" fill="url(#p42bg)"/><g filter="url(#bl5)"><use href="#p42S1" y="-51" fill="#0062b8" fill-opacity="0.35"/><use href="#p42S1" y="-36" fill="#0070c0" fill-opacity="0.45"/><use href="#p42S1" y="-22.5" fill="#0088d0" fill-opacity="0.6"/><use href="#p42S1" y="-12" fill="#00a8e0" fill-opacity="0.85"/><use href="#p42S1" y="-3" fill="#00c8ee" fill-opacity="1.0"/></g><g filter="url(#bl1_5)"><use href="#p42S1" y="0" fill="#00f0f8"/><use href="#p42S1" y="2" fill="#00f8d4"/><use href="#p42S1" y="4" fill="#00ffb0"/><use href="#p42S1" y="5.6" fill="#18ff80"/><use href="#p42S1" y="7.2" fill="#30ff50"/><use href="#p42S1" y="8.8" fill="#78ff28"/><use href="#p42S1" y="10.3" fill="#c0ff00"/><use href="#p42S1" y="11.7" fill="#e0ff00"/><use href="#p42S1" y="13" fill="#ffff00"/><use href="#p42S1" y="14.7" fill="#ffd000"/><use href="#p42S1" y="16.4" fill="#ffa000"/><use href="#p42S1" y="17.7" fill="#ff6800"/><use href="#p42S1" y="19" fill="#ff3000"/><use href="#p42S1" y="20.3" fill="#ff1800"/><use href="#p42S1" y="21.6" fill="#ff0000"/></g><path d="M1586,2611.6 L1580,2611.6 L1721,2612.3 L1897.2,2615.2 L1967.7,2613 L2158.1,2612.3 L2160,2612.3 L2160,2635 L1586,2635 Z" fill="#0052ae"/></g>
<defs><clipPath id="p50c"><rect x="382" y="2662" width="575" height="203"/></clipPath><linearGradient id="p50bg" x1="0" y1="0" x2="0" y2="1"><stop offset="0" stop-color="#0048a8"/><stop offset="0.5" stop-color="#004cac"/><stop offset="1" stop-color="#0052b0"/></linearGradient><path id="p50S1" d="M531.6,2902.9l4,-9l4,-9.6l4,-9.8l4,-9.8l4,-9.2l4,-8.2l4,-7l4,-5.3l4,-3.8l4,-3.1l4,-2.7l4,-3.1l4,-3.6l4,-4.2l4,-4.2l4,-3.7l4,-3.2l4,-3l4,-2.7l4,-2.4l4,-2l4,-1.8l4,-1.7l4,-1.6l4,-1.5l4,-1.4l4,-1.3l4,-1.3l4,-1.4l4,-1.4l4,-1.5l4,-1.5l4,-1.4l4,-1.2l4,-0.9l4,-0.6l4,-0.3l4,0.2l4,0.5l4,0.8l4,0.9l4,1l4,1l4,1.3l4,1.6l4,1.9l4,1.7l4,1.4l4,0.9l4,0.7l4,0.8l4,0.7l4,0.6l4,0.6l4,0.5l4,0.4l4,0.3l4,0.2l4,0l4,0l4,0l4,-0.1l4,0l4,-0.1l4,-0.1l4,-0.1l4,-0.1l4,-0.1l4,-0.1l4,-0.1l4,-0.1l4,-0.1l4,-0.1l4,-0.1l4,-0.1l4,-0.2l4,-0.1l4,-0.2l4,-0.1l4,-0.1l4,-0.2l4,-0.1l4,0l4,-0.1l4,0l4,0l4,0l4,0.2l4,0.2l4,0.2l4,0.3l4,0.3l4,0.4l4,0.4l4,0.4l4,0.7l4,0.8l4,1.1l4,1.3l4,1.4l4,1.8l4,2.8l4,3.5l4,3.7l3.5,3V3125H531.6Z"/><path id="p50S1B" d="M511.6,2832.5l20,0l4,0l4,0l4,0.2l4,0.3l4,0.2l4,0.2l4,0.2l4,0.3l4,0.2l4,0.2l4,0.3l4,0.2l4,0.2l4,0.2l4,0.3l4,0.2l4,0.2l4,0.2l4,0.2l4,0.2l4,0.1l4,0.2l4,0.1l4,0.2l4,0.1l4,0.2l4,0.1l4,0.1l4,0.2l4,0.1l4,0.1l4,0.2l4,0.1l4,0.1l4,0.1l4,0.1l4,0.1l4,0l4,0.1l4,0l4,0l4,0l4,-0.1l4,-0.1l4,-0.1l4,-0.2l4,-0.2l4,-0.2l4,-0.3l4,-0.3l4,-0.2l4,-0.3l4,-0.3l4,-0.3l4,-0.2l4,-0.2l4,-0.2l4,-0.2l4,-0.1l4,-0.1l4,-0.1l4,-0.1l4,-0.1l4,-0.1l4,0l4,-0.1l4,-0.1l4,-0.1l4,0l4,-0.1l4,-0.1l4,-0.1l4,0l4,-0.1l4,0l4,-0.1l4,-0.1l4,0l4,-0.1l4,0l4,-0.1l4,0l4,-0.1l4,0l4,-0.1l4,0l4,-0.1l4,0l4,0l4,-0.1l4,0l4,-0.1l4,0l4,-0.1l4,0l4,-0.1l4,0l4,-0.1l4,0l4,-0.1l4,0l4,-0.1l4,0l4,-0.1l3.5,0l20,-0.1V2362H511.6Z"/><clipPath id="p50S1k1"><use href="#p50S1B" y="-0.1"/></clipPath><clipPath id="p50S1k2"><use href="#p50S1B" y="-0.2"/></clipPath><clipPath id="p50S1k3"><use href="#p50S1B" y="-0.4"/></clipPath><clipPath id="p50S1k4"><use href="#p50S1B" y="-0.6"/></clipPath><linearGradient id="p50g0" gradientUnits="userSpaceOnUse" x1="382" y1="0" x2="957" y2="0"><stop offset="0.000" stop-color="#78ff28"/><stop offset="0.750" stop-color="#78ff28"/><stop offset="0.792" stop-color="#67ff31"/><stop offset="0.833" stop-color="#5dff37"/><stop offset="0.875" stop-color="#52ff3d"/><stop offset="0.917" stop-color="#4dff40"/><stop offset="0.958" stop-color="#78ff28"/><stop offset="1.000" stop-color="#78ff28"/></linearGradient><clipPath id="p50S1k5"><use href="#p50S1B" y="-0.9"/></clipPath><linearGradient id="p50g1" gradientUnits="userSpaceOnUse" x1="382" y1="0" x2="957" y2="0"><stop offset="0.000" stop-color="#c0ff00"/><stop offset="0.708" stop-color="#c0ff00"/><stop offset="0.750" stop-color="#88ff1f"/><stop offset="0.792" stop-color="#67ff31"/><stop offset="0.833" stop-color="#5dff37"/><stop offset="0.875" stop-color="#52ff3d"/><stop offset="0.917" stop-color="#4dff40"/><stop offset="0.958" stop-color="#a6ff0f"/><stop offset="1.000" stop-color="#c0ff00"/></linearGradient><clipPath id="p50S1k6"><use href="#p50S1B" y="-1.2"/></clipPath><linearGradient id="p50g2" gradientUnits="userSpaceOnUse" x1="382" y1="0" x2="957" y2="0"><stop offset="0.000" stop-color="#e0ff00"/><stop offset="0.708" stop-color="#e0ff00"/><stop offset="0.750" stop-color="#88ff1f"/><stop offset="0.792" stop-color="#67ff31"/><stop offset="0.833" stop-color="#5dff37"/><stop offset="0.875" stop-color="#52ff3d"/><stop offset="0.917" stop-color="#4dff40"/><stop offset="0.958" stop-color="#a6ff0f"/><stop offset="1.000" stop-color="#c0ff00"/></linearGradient><clipPath id="p50S1k7"><use href="#p50S1B" y="-1.6"/></clipPath><linearGradient id="p50g3" gradientUnits="userSpaceOnUse" x1="382" y1="0" x2="957" y2="0"><stop offset="0.000" stop-color="#ffff00"/><stop offset="0.708" stop-color="#ffff00"/><stop offset="0.750" stop-color="#88ff1f"/><stop offset="0.792" stop-color="#67ff31"/><stop offset="0.833" stop-color="#5dff37"/><stop offset="0.875" stop-color="#52ff3d"/><stop offset="0.917" stop-color="#4dff40"/><stop offset="0.958" stop-color="#a6ff0f"/><stop offset="1.000" stop-color="#c0ff00"/></linearGradient><clipPath id="p50S1k8"><use href="#p50S1B" y="-2"/></clipPath><linearGradient id="p50g4" gradientUnits="userSpaceOnUse" x1="382" y1="0" x2="957" y2="0"><stop offset="0.000" stop-color="#ffff00"/><stop offset="0.375" stop-color="#ffff00"/><stop offset="0.417" stop-color="#ffea00"/><stop offset="0.458" stop-color="#ffd000"/><stop offset="0.667" stop-color="#ffd000"/><stop offset="0.708" stop-color="#ffe900"/><stop offset="0.750" stop-color="#88ff1f"/><stop offset="0.792" stop-color="#67ff31"/><stop offset="0.833" stop-color="#5dff37"/><stop offset="0.875" stop-color="#52ff3d"/><stop offset="0.917" stop-color="#4dff40"/><stop offset="0.958" stop-color="#a6ff0f"/><stop offset="1.000" stop-color="#c0ff00"/></linearGradient><clipPath id="p50S1k9"><use href="#p50S1B" y="-3.1"/></clipPath><linearGradient id="p50g5" gradientUnits="userSpaceOnUse" x1="382" y1="0" x2="957" y2="0"><stop offset="0.000" stop-color="#ffff00"/><stop offset="0.375" stop-color="#ffff00"/><stop offset="0.417" stop-color="#ffea00"/><stop offset="0.458" stop-color="#ffa000"/><stop offset="0.667" stop-color="#ffa000"/><stop offset="0.708" stop-color="#ffe900"/><stop offset="0.750" stop-color="#88ff1f"/><stop offset="0.792" stop-color="#67ff31"/><stop offset="0.833" stop-color="#5dff37"/><stop offset="0.875" stop-color="#52ff3d"/><stop offset="0.917" stop-color="#4dff40"/><stop offset="0.958" stop-color="#a6ff0f"/><stop offset="1.000" stop-color="#c0ff00"/></linearGradient><clipPath id="p50S1k10"><use href="#p50S1B" y="-4.2"/></clipPath><linearGradient id="p50g6" gradientUnits="userSpaceOnUse" x1="382" y1="0" x2="957" y2="0"><stop offset="0.000" stop-color="#ffff00"/><stop offset="0.375" stop-color="#ffff00"/><stop offset="0.417" stop-color="#ffea00"/><stop offset="0.458" stop-color="#ff9800"/><stop offset="0.500" stop-color="#ff6800"/><stop offset="0.625" stop-color="#ff6800"/><stop offset="0.667" stop-color="#ff6b00"/><stop offset="0.708" stop-color="#ffe900"/><stop offset="0.750" stop-color="#88ff1f"/><stop offset="0.792" stop-color="#67ff31"/><stop offset="0.833" stop-color="#5dff37"/><stop offset="0.875" stop-color="#52ff3d"/><stop offset="0.917" stop-color="#4dff40"/><stop offset="0.958" stop-color="#a6ff0f"/><stop offset="1.000" stop-color="#c0ff00"/></linearGradient><clipPath id="p50S1k11"><use href="#p50S1B" y="-5.1"/></clipPath><linearGradient id="p50g7" gradientUnits="userSpaceOnUse" x1="382" y1="0" x2="957" y2="0"><stop offset="0.000" stop-color="#ffff00"/><stop offset="0.375" stop-color="#ffff00"/><stop offset="0.417" stop-color="#ffea00"/><stop offset="0.458" stop-color="#ff9800"/><stop offset="0.500" stop-color="#ff6200"/><stop offset="0.542" stop-color="#ff3000"/><stop offset="0.625" stop-color="#ff3000"/><stop offset="0.667" stop-color="#ff6b00"/><stop offset="0.708" stop-color="#ffe900"/><stop offset="0.750" stop-color="#88ff1f"/><stop offset="0.792" stop-color="#67ff31"/><stop offset="0.833" stop-color="#5dff37"/><stop offset="0.875" stop-color="#52ff3d"/><stop offset="0.917" stop-color="#4dff40"/><stop offset="0.958" stop-color="#a6ff0f"/><stop offset="1.000" stop-color="#c0ff00"/></linearGradient><clipPath id="p50S1k12"><use href="#p50S1B" y="-6"/></clipPath><linearGradient id="p50g8" gradientUnits="userSpaceOnUse" x1="382" y1="0" x2="957" y2="0"><stop offset="0.000" stop-color="#ffff00"/><stop offset="0.375" stop-color="#ffff00"/><stop offset="0.417" stop-color="#ffea00"/><stop offset="0.458" stop-color="#ff9800"/><stop offset="0.500" stop-color="#ff6200"/><stop offset="0.542" stop-color="#ff1900"/><stop offset="0.583" stop-color="#ff1800"/><stop offset="0.625" stop-color="#ff1d00"/><stop offset="0.667" stop-color="#ff6b00"/><stop offset="0.708" stop-color="#ffe900"/><stop offset="0.750" stop-color="#88ff1f"/><stop offset="0.792" stop-color="#67ff31"/><stop offset="0.833" stop-color="#5dff37"/><stop offset="0.875" stop-color="#52ff3d"/><stop offset="0.917" stop-color="#4dff40"/><stop offset="0.958" stop-color="#a6ff0f"/><stop offset="1.000" stop-color="#c0ff00"/></linearGradient><clipPath id="p50S1k13"><use href="#p50S1B" y="-6.9"/></clipPath><linearGradient id="p50g9" gradientUnits="userSpaceOnUse" x1="382" y1="0" x2="957" y2="0"><stop offset="0.000" stop-color="#ffff00"/><stop offset="0.375" stop-color="#ffff00"/><stop offset="0.417" stop-color="#ffea00"/><stop offset="0.458" stop-color="#ff9800"/><stop offset="0.500" stop-color="#ff6200"/><stop offset="0.542" stop-color="#ff1900"/><stop offset="0.583" stop-color="#ff0500"/><stop offset="0.625" stop-color="#ff1d00"/><stop offset="0.667" stop-color="#ff6b00"/><stop offset="0.708" stop-color="#ffe900"/><stop offset="0.750" stop-color="#88ff1f"/><stop offset="0.792" stop-color="#67ff31"/><stop offset="0.833" stop-color="#5dff37"/><stop offset="0.875" stop-color="#52ff3d"/><stop offset="0.917" stop-color="#4dff40"/><stop offset="0.958" stop-color="#a6ff0f"/><stop offset="1.000" stop-color="#c0ff00"/></linearGradient><clipPath id="p50S1k14"><use href="#p50S1B" y="-7.8"/></clipPath></defs><g clip-path="url(#p50c)"><rect x="382" y="2662" width="575" height="203" fill="url(#p50bg)"/><ellipse cx="679.6" cy="2680.2" rx="133.9" ry="8.8" fill="#2080c8" opacity="0.6" filter="url(#bl8)" transform="rotate(3 679.6 2680.2)"/><ellipse cx="429.3" cy="2824" rx="52.9" ry="6.3" fill="#000a80" opacity="1.0" filter="url(#bl3)"/><ellipse cx="855.9" cy="2803.6" rx="63.4" ry="21.1" fill="#00c0e0" opacity="0.6" filter="url(#bl10)"/><ellipse cx="538.6" cy="2807.1" rx="59.9" ry="24.7" fill="#0898d8" opacity="0.7" filter="url(#bl14)"/><g filter="url(#bl4_5)"><use href="#p50S1" y="-44.2" fill="#0062b8" fill-opacity="0.35"/><use href="#p50S1" y="-31.2" fill="#0070c0" fill-opacity="0.45"/><use href="#p50S1" y="-19.5" fill="#0088d0" fill-opacity="0.6"/><use href="#p50S1" y="-10.4" fill="#00a8e0" fill-opacity="0.85"/><use href="#p50S1" y="-3" fill="#00c8ee" fill-opacity="1.0"/></g><g filter="url(#bl2)"><use href="#p50S1" y="0" fill="#00f0f8"/><g clip-path="url(#p50S1k1)"><use href="#p50S1" y="2.9" fill="#00f8d4"/></g><g clip-path="url(#p50S1k2)"><use href="#p50S1" y="5.9" fill="#00ffb0"/></g><g clip-path="url(#p50S1k3)"><use href="#p50S1" y="8.1" fill="#18ff80"/></g><g clip-path="url(#p50S1k4)"><use href="#p50S1" y="10.4" fill="#30ff50"/></g><g clip-path="url(#p50S1k5)"><use href="#p50S1" y="12.7" fill="url(#p50g0)"/></g><g clip-path="url(#p50S1k6)"><use href="#p50S1" y="15" fill="url(#p50g1)"/></g><g clip-path="url(#p50S1k7)"><use href="#p50S1" y="16.8" fill="url(#p50g2)"/></g><g clip-path="url(#p50S1k8)"><use href="#p50S1" y="18.7" fill="url(#p50g3)"/></g><g clip-path="url(#p50S1k9)"><use href="#p50S1" y="21.2" fill="url(#p50g4)"/></g><g clip-path="url(#p50S1k10)"><use href="#p50S1" y="23.7" fill="url(#p50g5)"/></g><g clip-path="url(#p50S1k11)"><use href="#p50S1" y="25.5" fill="url(#p50g6)"/></g><g clip-path="url(#p50S1k12)"><use href="#p50S1" y="27.4" fill="url(#p50g7)"/></g><g clip-path="url(#p50S1k13)"><use href="#p50S1" y="29.3" fill="url(#p50g8)"/></g><g clip-path="url(#p50S1k14)"><use href="#p50S1" y="31.2" fill="url(#p50g9)"/></g></g><path d="M382,2830 L380,2830 L485.7,2831.1 L591.5,2833.5 L697.2,2838.8 L767.7,2835.3 L958.1,2832.5 L957,2832.5 L957,2865 L382,2865 Z" fill="#0052ae"/></g>
<defs><clipPath id="p51c"><rect x="984" y="2662" width="575" height="203"/></clipPath><linearGradient id="p51bg" x1="0" y1="0" x2="0" y2="1"><stop offset="0" stop-color="#0048a8"/><stop offset="0.5" stop-color="#0050ae"/><stop offset="1" stop-color="#0060b8"/></linearGradient><path id="p51S1" d="M997.6,2902.2l4,-15.7l4,-17.2l4,-16.7l4,-14.2l4,-9.6l4,-4.2l4,-2.7l4,-2.5l4,-2.2l4,-1.9l4,-1.7l4,-1.5l4,-1.4l4,-1.3l4,-1l4,-1l4,-0.9l4,-0.9l4,-0.8l4,-0.7l4,-0.7l4,-0.7l4,-0.6l4,-0.6l4,-0.6l4,-0.5l4,-0.5l4,-0.5l4,-0.5l4,-0.4l4,-0.5l4,-0.5l4,-0.6l4,-0.5l4,-0.6l4,-0.6l4,-0.6l4,-0.5l4,-0.6l4,-0.7l4,-0.6l4,-0.6l4,-0.7l4,-0.7l4,-0.8l4,-0.7l4,-0.7l4,-0.8l4,-0.7l4,-0.7l4,-0.7l4,-0.7l4,-0.8l4,-0.7l4,-0.7l4,-0.7l4,-0.7l4,-0.6l4,-0.5l4,-0.4l4,-0.4l4,-0.5l4,-0.3l4,-0.3l4,-0.2l4,-0.1l4,0.1l4,0.3l4,0.4l4,0.6l4,0.6l4,0.8l4,0.7l4,0.8l4,0.7l4,0.8l4,1l4,1l4,1.2l4,1.1l4,1l4,1l4,0.8l4,0.6l4,0.6l4,0.6l4,0.5l4,0.5l4,0.4l4,0.4l4,0.2l4,0.2l4,0l4,0l4,-0.1l4,-0.1l4,-0.1l4,-0.2l4,-0.2l4,-0.2l4,-0.2l4,-0.2l4,-0.2l4,-0.3l4,-0.2l4,-0.3l4,-0.2l4,-0.2l4,-0.2l4,-0.2l4,-0.2l4,-0.2l4,-0.2l4,-0.2l4,-0.2l4,-0.2l4,-0.2l4,-0.3l4,-0.2l4,-0.2l4,-0.2l4,-0.2l4,-0.2l4,-0.2l4,-0.2l4,-0.3l4,-0.2l4,-0.2l4,-0.2l4,-0.2l4,-0.2l4,-0.3l4,-0.2l4,-0.2l4,-0.2l4,-0.2l4,-0.2l4,-0.3l4,-0.2l2.4,-0.1V3125H997.6Z"/></defs><g clip-path="url(#p51c)"><rect x="984" y="2662" width="575" height="203" fill="url(#p51bg)"/><ellipse cx="1438.2" cy="2666.1" rx="123.4" ry="8.8" fill="#1070c0" opacity="0.5" filter="url(#bl8)"/><ellipse cx="1001.1" cy="2824" rx="21.1" ry="5.3" fill="#000a80" opacity="1.0" filter="url(#bl3)"/><g filter="url(#bl5)"><use href="#p51S1" y="-47.6" fill="#0062b8" fill-opacity="0.35"/><use href="#p51S1" y="-33.6" fill="#0070c0" fill-opacity="0.45"/><use href="#p51S1" y="-21" fill="#0088d0" fill-opacity="0.6"/><use href="#p51S1" y="-11.2" fill="#00a8e0" fill-opacity="0.85"/><use href="#p51S1" y="-3" fill="#00c8ee" fill-opacity="1.0"/></g><g filter="url(#bl1)"><use href="#p51S1" y="0" fill="#00f0f8"/><use href="#p51S1" y="1.7" fill="#00f8d4"/><use href="#p51S1" y="3.4" fill="#00ffb0"/><use href="#p51S1" y="4.7" fill="#18ff80"/><use href="#p51S1" y="6" fill="#30ff50"/><use href="#p51S1" y="7.3" fill="#78ff28"/><use href="#p51S1" y="8.6" fill="#c0ff00"/><use href="#p51S1" y="9.7" fill="#e0ff00"/><use href="#p51S1" y="10.8" fill="#ffff00"/><use href="#p51S1" y="12.2" fill="#ffd000"/><use href="#p51S1" y="13.6" fill="#ffa000"/><use href="#p51S1" y="14.7" fill="#ff6800"/><use href="#p51S1" y="15.8" fill="#ff3000"/><use href="#p51S1" y="16.9" fill="#ff1800"/><use href="#p51S1" y="18" fill="#ff0000"/></g><path d="M984,2828.6 L980,2828.6 L1085.7,2828.6 L1145,2831.4 L1253.2,2837.8 L1314.9,2839.5 L1367.7,2835.3 L1558.1,2833.5 L1559,2833.5 L1559,2865 L984,2865 Z" fill="#0052ae"/></g>
<defs><clipPath id="p52c"><rect x="1586" y="2662" width="574" height="203"/></clipPath><linearGradient id="p52bg" x1="0" y1="0" x2="0" y2="1"><stop offset="0" stop-color="#0050ae"/><stop offset="0.5" stop-color="#0056b2"/><stop offset="1" stop-color="#0064bc"/></linearGradient><path id="p52S1" d="M1588.8,2828.2l4,-1.8l4,-2l4,-2.9l4,-3.6l4,-3.5l4,-2.7l4,-2l4,-1.7l4,-1.6l4,-1.4l4,-1.2l4,-1.2l4,-1l4,-1l4,-0.9l4,-0.9l4,-0.8l4,-0.8l4,-0.7l4,-0.7l4,-0.6l4,-0.6l4,-0.6l4,-0.6l4,-0.6l4,-0.5l4,-0.5l4,-0.5l4,-0.4l4,-0.4l4,-0.5l4,-0.4l4,-0.3l4,-0.4l4,-0.3l4,-0.3l4,-0.3l4,-0.4l4,-0.3l4,-0.4l4,-0.4l4,-0.4l4,-0.5l4,-0.4l4,-0.4l4,-0.5l4,-0.5l4,-0.4l4,-0.5l4,-0.5l4,-0.5l4,-0.5l4,-0.6l4,-0.5l4,-0.5l4,-0.5l4,-0.5l4,-0.5l4,-0.4l4,-0.5l4,-0.4l4,-0.5l4,-0.4l4,-0.4l4,-0.3l4,-0.3l4,-0.2l4,-0.2l4,-0.2l4,-0.1l4,-0.2l4,-0.1l4,-0.1l4,0l4,0l4,0.5l4,0.7l4,1l4,1.1l4,1.1l4,1.1l4,0.9l4,1.2l4,1.2l4,1.1l4,0.8l4,0.2l4,-0.1l4,-0.1l4,-0.1l4,-0.2l4,-0.3l4,-0.2l4,-0.3l4,-0.4l4,-0.3l4,-0.4l4,-0.3l4,-0.4l4,-0.4l4,-0.3l4,-0.3l4,-0.3l4,-0.3l4,-0.3l4,-0.3l4,-0.2l4,-0.3l4,-0.3l4,-0.3l4,-0.2l4,-0.3l4,-0.3l4,-0.3l4,-0.2l4,-0.3l4,-0.3l4,-0.3l4,-0.3l4,-0.3l4,-0.3l4,-0.3l4,-0.3l4,-0.3l4,-0.3l4,-0.4l4,-0.3l4,-0.3l4,-0.3l4,-0.4l4,-0.3l4,-0.4l4,-0.3l4,-0.3l4,-0.4l4,-0.3l4,-0.4l4,-0.3l4,-0.4l4,-0.3l4,-0.3l4,-0.4l0.2,0V3125H1588.8Z"/></defs><g clip-path="url(#p52c)"><rect x="1586" y="2662" width="574" height="203" fill="url(#p52bg)"/><g filter="url(#bl5)"><use href="#p52S1" y="-51" fill="#0062b8" fill-opacity="0.35"/><use href="#p52S1" y="-36" fill="#0070c0" fill-opacity="0.45"/><use href="#p52S1" y="-22.5" fill="#0088d0" fill-opacity="0.6"/><use href="#p52S1" y="-12" fill="#00a8e0" fill-opacity="0.85"/><use href="#p52S1" y="-3" fill="#00c8ee" fill-opacity="1.0"/></g><g filter="url(#bl1)"><use href="#p52S1" y="0" fill="#00f0f8"/><use href="#p52S1" y="1.6" fill="#00f8d4"/><use href="#p52S1" y="3.2" fill="#00ffb0"/><use href="#p52S1" y="4.5" fill="#18ff80"/><use href="#p52S1" y="5.8" fill="#30ff50"/><use href="#p52S1" y="7" fill="#78ff28"/><use href="#p52S1" y="8.3" fill="#c0ff00"/><use href="#p52S1" y="9.3" fill="#e0ff00"/><use href="#p52S1" y="10.4" fill="#ffff00"/><use href="#p52S1" y="11.7" fill="#ffd000"/><use href="#p52S1" y="13.1" fill="#ffa000"/><use href="#p52S1" y="14.1" fill="#ff6800"/><use href="#p52S1" y="15.2" fill="#ff3000"/><use href="#p52S1" y="16.2" fill="#ff1800"/><use href="#p52S1" y="17.3" fill="#ff0000"/></g><path d="M1586,2828.6 L1580,2828.6 L1826.7,2835.3 L1862,2838.8 L1914.9,2839.5 L1967.7,2835.3 L2158.1,2832.5 L2160,2832.5 L2160,2865 L1586,2865 Z" fill="#0052ae"/></g>
<text x="480" y="1577" font-family="Liberation Sans, sans-serif" font-size="42.5" fill="#fff">Flow direction</text>
<path d="M783,1565.4H880M858,1546.5Q868,1559 882,1565.4Q868,1572 858,1584" stroke="#fff" stroke-width="4.6" fill="none" stroke-linecap="round" stroke-linejoin="round"/>
<text x="673.5" y="1477.2" font-family="Liberation Sans, sans-serif" font-size="58" font-style="italic" text-anchor="middle">t = 10 min</text>
<text x="1218.5" y="1477.2" font-family="Liberation Sans, sans-serif" font-size="58" font-style="italic" text-anchor="middle">t = 30 min</text>
<text x="1842.1" y="1477.2" font-family="Liberation Sans, sans-serif" font-size="58" font-style="italic" text-anchor="middle">t = 60 min</text>
<text x="220.9" y="1630.2" font-family="Liberation Sans, sans-serif" font-size="51" text-anchor="middle">Placebo film</text>
<text x="220.2" y="1842.5" font-family="Liberation Sans, sans-serif" font-size="51" text-anchor="middle">FNB-NC-A</text>
<text x="223.3" y="2064.4" font-family="Liberation Sans, sans-serif" font-size="51" text-anchor="middle">FNB-NC-B</text>
<text x="229.3" y="2283.9" font-family="Liberation Sans, sans-serif" font-size="51" text-anchor="middle">FNB-NC-C</text>
<text x="218.5" y="2522.6" font-family="Liberation Sans, sans-serif" font-size="51" text-anchor="middle">FNB-NC-D</text>
<text x="215" y="2761.3" font-family="Liberation Sans, sans-serif" font-size="51" text-anchor="middle">FNB-NC-E</text>
</svg></body></html>
